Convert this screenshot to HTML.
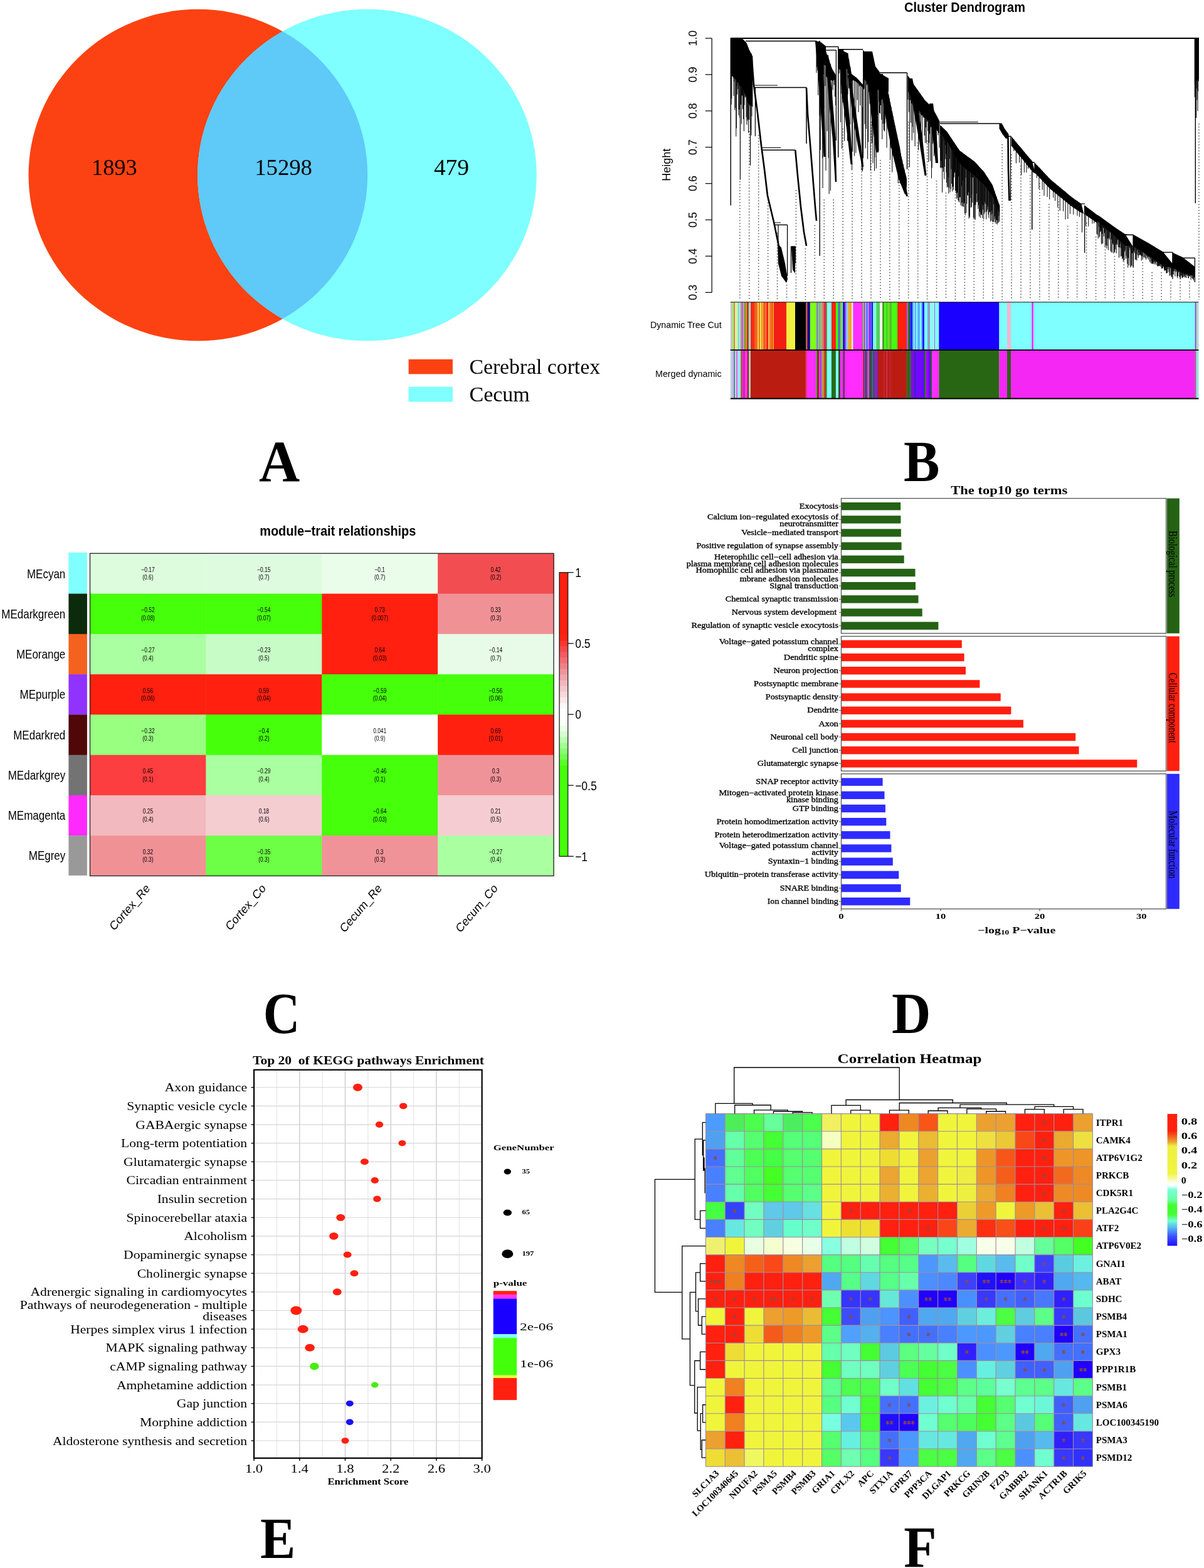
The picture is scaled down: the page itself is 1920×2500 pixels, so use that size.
<!DOCTYPE html><html><head><meta charset="utf-8"><title>Figure</title><style>html,body{margin:0;padding:0;background:#fff;overflow:hidden;}svg{display:block;}</style></head><body>
<svg width="1920" height="2500" viewBox="0 0 1920 2500">
<rect x="0.00" y="0.00" width="1920.00" height="2500.00" fill="#FFFFFF"/>
<defs><clipPath id="clipL"><ellipse cx="315.8" cy="279.2" rx="270.3" ry="264.4"/></clipPath></defs>
<ellipse cx="315.8" cy="279.2" rx="270.3" ry="264.4" fill="#FC4212"/>
<ellipse cx="585.4" cy="279.2" rx="270.3" ry="264.4" fill="#7FFFFF"/>
<ellipse cx="585.4" cy="279.2" rx="270.3" ry="264.4" fill="#5FC9F8" clip-path="url(#clipL)"/>
<text transform="translate(146.00,278.60)" font-family="'Liberation Serif', 'Times New Roman', serif" font-size="35.5" fill="#000" textLength="72.60" lengthAdjust="spacingAndGlyphs">1893</text>
<text transform="translate(406.20,278.60)" font-family="'Liberation Serif', 'Times New Roman', serif" font-size="35.5" fill="#000" textLength="91.70" lengthAdjust="spacingAndGlyphs">15298</text>
<text transform="translate(691.90,278.60)" font-family="'Liberation Serif', 'Times New Roman', serif" font-size="35.5" fill="#000" textLength="56.00" lengthAdjust="spacingAndGlyphs">479</text>
<rect x="651.60" y="572.90" width="70.30" height="23.50" fill="#FC4212"/>
<rect x="651.60" y="616.60" width="70.30" height="24.00" fill="#7FFFFF"/>
<text transform="translate(748.50,595.60)" font-family="'Liberation Serif', 'Times New Roman', serif" font-size="34" fill="#000" textLength="208.50" lengthAdjust="spacingAndGlyphs">Cerebral cortex</text>
<text transform="translate(748.50,639.70)" font-family="'Liberation Serif', 'Times New Roman', serif" font-size="34" fill="#000">Cecum</text>
<text transform="translate(412.90,767.00)" font-family="'Liberation Serif', 'Times New Roman', serif" font-size="94" font-weight="bold" fill="#000" textLength="65.10" lengthAdjust="spacingAndGlyphs">A</text>
<text transform="translate(1442.00,18.75)" font-family="'Liberation Sans', Arial, sans-serif" font-size="21.7" font-weight="bold" fill="#000" textLength="192.90" lengthAdjust="spacingAndGlyphs">Cluster Dendrogram</text>
<line x1="1135.20" y1="61.00" x2="1135.20" y2="466.30" stroke="#111" stroke-width="1.3"/>
<line x1="1124.80" y1="61.00" x2="1135.20" y2="61.00" stroke="#111" stroke-width="1.3"/>
<text transform="translate(1111.30,61.00) rotate(-90)" font-family="'Liberation Sans', Arial, sans-serif" font-size="18" text-anchor="middle" fill="#000">1.0</text>
<line x1="1124.80" y1="118.90" x2="1135.20" y2="118.90" stroke="#111" stroke-width="1.3"/>
<text transform="translate(1111.30,118.90) rotate(-90)" font-family="'Liberation Sans', Arial, sans-serif" font-size="18" text-anchor="middle" fill="#000">0.9</text>
<line x1="1124.80" y1="176.80" x2="1135.20" y2="176.80" stroke="#111" stroke-width="1.3"/>
<text transform="translate(1111.30,176.80) rotate(-90)" font-family="'Liberation Sans', Arial, sans-serif" font-size="18" text-anchor="middle" fill="#000">0.8</text>
<line x1="1124.80" y1="234.70" x2="1135.20" y2="234.70" stroke="#111" stroke-width="1.3"/>
<text transform="translate(1111.30,234.70) rotate(-90)" font-family="'Liberation Sans', Arial, sans-serif" font-size="18" text-anchor="middle" fill="#000">0.7</text>
<line x1="1124.80" y1="292.60" x2="1135.20" y2="292.60" stroke="#111" stroke-width="1.3"/>
<text transform="translate(1111.30,292.60) rotate(-90)" font-family="'Liberation Sans', Arial, sans-serif" font-size="18" text-anchor="middle" fill="#000">0.6</text>
<line x1="1124.80" y1="350.50" x2="1135.20" y2="350.50" stroke="#111" stroke-width="1.3"/>
<text transform="translate(1111.30,350.50) rotate(-90)" font-family="'Liberation Sans', Arial, sans-serif" font-size="18" text-anchor="middle" fill="#000">0.5</text>
<line x1="1124.80" y1="408.40" x2="1135.20" y2="408.40" stroke="#111" stroke-width="1.3"/>
<text transform="translate(1111.30,408.40) rotate(-90)" font-family="'Liberation Sans', Arial, sans-serif" font-size="18" text-anchor="middle" fill="#000">0.4</text>
<line x1="1124.80" y1="466.30" x2="1135.20" y2="466.30" stroke="#111" stroke-width="1.3"/>
<text transform="translate(1111.30,466.30) rotate(-90)" font-family="'Liberation Sans', Arial, sans-serif" font-size="18" text-anchor="middle" fill="#000">0.3</text>
<text transform="translate(1068.60,262.80) rotate(-90)" font-family="'Liberation Sans', Arial, sans-serif" font-size="18" text-anchor="middle" fill="#000">Height</text>
<text transform="translate(1037.00,523.00)" font-family="'Liberation Sans', Arial, sans-serif" font-size="15" fill="#000" textLength="113.70" lengthAdjust="spacingAndGlyphs">Dynamic Tree Cut</text>
<text transform="translate(1045.00,600.60)" font-family="'Liberation Sans', Arial, sans-serif" font-size="15" fill="#000" textLength="105.70" lengthAdjust="spacingAndGlyphs">Merged dynamic</text>
<rect x="1164.80" y="481.70" width="3.15" height="76.50" fill="#C8C8C8"/>
<rect x="1167.80" y="481.70" width="0.65" height="76.50" fill="#C0A8E8"/>
<rect x="1168.30" y="481.70" width="2.55" height="76.50" fill="#90F040"/>
<rect x="1170.70" y="481.70" width="1.25" height="76.50" fill="#F03030"/>
<rect x="1171.80" y="481.70" width="2.45" height="76.50" fill="#D8F8A0"/>
<rect x="1174.10" y="481.70" width="1.55" height="76.50" fill="#F0F040"/>
<rect x="1175.50" y="481.70" width="2.05" height="76.50" fill="#80FFFF"/>
<rect x="1177.40" y="481.70" width="0.85" height="76.50" fill="#888888"/>
<rect x="1178.10" y="481.70" width="1.65" height="76.50" fill="#80FFFF"/>
<rect x="1179.60" y="481.70" width="2.75" height="76.50" fill="#D0B0A8"/>
<rect x="1182.20" y="481.70" width="0.95" height="76.50" fill="#6080A0"/>
<rect x="1183.00" y="481.70" width="2.65" height="76.50" fill="#FF40FF"/>
<rect x="1185.50" y="481.70" width="1.65" height="76.50" fill="#44EE44"/>
<rect x="1187.00" y="481.70" width="2.75" height="76.50" fill="#A08020"/>
<rect x="1189.60" y="481.70" width="1.25" height="76.50" fill="#44EE44"/>
<rect x="1190.70" y="481.70" width="3.45" height="76.50" fill="#FF2010"/>
<rect x="1194.00" y="481.70" width="3.15" height="76.50" fill="#80FFFF"/>
<rect x="1197.00" y="481.70" width="6.05" height="76.50" fill="#FF2A10"/>
<rect x="1202.90" y="481.70" width="4.95" height="76.50" fill="#F06020"/>
<rect x="1207.70" y="481.70" width="3.55" height="76.50" fill="#F0C030"/>
<rect x="1211.10" y="481.70" width="1.25" height="76.50" fill="#FF2010"/>
<rect x="1212.20" y="481.70" width="2.05" height="76.50" fill="#F0FF40"/>
<rect x="1214.10" y="481.70" width="1.95" height="76.50" fill="#F07020"/>
<rect x="1215.90" y="481.70" width="1.65" height="76.50" fill="#F0E040"/>
<rect x="1217.40" y="481.70" width="1.95" height="76.50" fill="#FF2010"/>
<rect x="1219.20" y="481.70" width="3.15" height="76.50" fill="#F07020"/>
<rect x="1222.20" y="481.70" width="3.45" height="76.50" fill="#FF2010"/>
<rect x="1225.50" y="481.70" width="2.05" height="76.50" fill="#F0E040"/>
<rect x="1227.40" y="481.70" width="1.65" height="76.50" fill="#FF2010"/>
<rect x="1228.90" y="481.70" width="1.25" height="76.50" fill="#F0E040"/>
<rect x="1230.00" y="481.70" width="1.95" height="76.50" fill="#FF2010"/>
<rect x="1231.80" y="481.70" width="2.35" height="76.50" fill="#F0A020"/>
<rect x="1234.00" y="481.70" width="20.15" height="76.50" fill="#F21E14"/>
<rect x="1254.00" y="481.70" width="14.15" height="76.50" fill="#F0F040"/>
<rect x="1268.00" y="481.70" width="17.35" height="76.50" fill="#000000"/>
<rect x="1285.20" y="481.70" width="2.35" height="76.50" fill="#E05020"/>
<rect x="1287.40" y="481.70" width="4.55" height="76.50" fill="#10009A"/>
<rect x="1291.80" y="481.70" width="10.55" height="76.50" fill="#80FF1A"/>
<rect x="1302.20" y="481.70" width="1.65" height="76.50" fill="#8040FF"/>
<rect x="1303.70" y="481.70" width="3.05" height="76.50" fill="#44EE44"/>
<rect x="1306.60" y="481.70" width="2.05" height="76.50" fill="#FF40FF"/>
<rect x="1308.50" y="481.70" width="1.95" height="76.50" fill="#44EE44"/>
<rect x="1310.30" y="481.70" width="3.15" height="76.50" fill="#F08030"/>
<rect x="1313.30" y="481.70" width="1.65" height="76.50" fill="#8040FF"/>
<rect x="1314.80" y="481.70" width="2.35" height="76.50" fill="#FF2010"/>
<rect x="1317.00" y="481.70" width="2.05" height="76.50" fill="#808030"/>
<rect x="1318.90" y="481.70" width="7.15" height="76.50" fill="#80FFFF"/>
<rect x="1325.90" y="481.70" width="7.15" height="76.50" fill="#FF2010"/>
<rect x="1332.90" y="481.70" width="4.25" height="76.50" fill="#33FF11"/>
<rect x="1337.00" y="481.70" width="2.35" height="76.50" fill="#6040FF"/>
<rect x="1339.20" y="481.70" width="3.15" height="76.50" fill="#60C060"/>
<rect x="1342.20" y="481.70" width="1.95" height="76.50" fill="#80FF1A"/>
<rect x="1344.00" y="481.70" width="3.85" height="76.50" fill="#2010FF"/>
<rect x="1347.70" y="481.70" width="2.05" height="76.50" fill="#C040FF"/>
<rect x="1349.60" y="481.70" width="2.75" height="76.50" fill="#80D0FF"/>
<rect x="1352.20" y="481.70" width="6.35" height="76.50" fill="#EBA830"/>
<rect x="1358.40" y="481.70" width="2.05" height="76.50" fill="#E0FFF0"/>
<rect x="1360.30" y="481.70" width="16.05" height="76.50" fill="#FF30FF"/>
<rect x="1376.20" y="481.70" width="2.15" height="76.50" fill="#44EE22"/>
<rect x="1378.20" y="481.70" width="0.95" height="76.50" fill="#2020FF"/>
<rect x="1379.00" y="481.70" width="2.15" height="76.50" fill="#E090C0"/>
<rect x="1381.00" y="481.70" width="3.15" height="76.50" fill="#6080FF"/>
<rect x="1384.00" y="481.70" width="2.65" height="76.50" fill="#E060FF"/>
<rect x="1386.50" y="481.70" width="1.85" height="76.50" fill="#2010FF"/>
<rect x="1388.20" y="481.70" width="1.95" height="76.50" fill="#8060FF"/>
<rect x="1390.00" y="481.70" width="2.15" height="76.50" fill="#2010FF"/>
<rect x="1392.00" y="481.70" width="3.15" height="76.50" fill="#70FFD0"/>
<rect x="1395.00" y="481.70" width="2.45" height="76.50" fill="#80FFE0"/>
<rect x="1397.30" y="481.70" width="6.15" height="76.50" fill="#50D060"/>
<rect x="1403.30" y="481.70" width="3.95" height="76.50" fill="#FFFFF0"/>
<rect x="1407.10" y="481.70" width="3.25" height="76.50" fill="#40A020"/>
<rect x="1410.20" y="481.70" width="3.95" height="76.50" fill="#44FF11"/>
<rect x="1414.00" y="481.70" width="1.35" height="76.50" fill="#40A020"/>
<rect x="1415.20" y="481.70" width="3.45" height="76.50" fill="#44FF11"/>
<rect x="1418.50" y="481.70" width="1.15" height="76.50" fill="#E04020"/>
<rect x="1419.50" y="481.70" width="2.45" height="76.50" fill="#40C020"/>
<rect x="1421.80" y="481.70" width="9.45" height="76.50" fill="#44FF11"/>
<rect x="1431.10" y="481.70" width="15.25" height="76.50" fill="#FF2010"/>
<rect x="1446.20" y="481.70" width="2.15" height="76.50" fill="#8060FF"/>
<rect x="1448.20" y="481.70" width="3.15" height="76.50" fill="#206A10"/>
<rect x="1451.20" y="481.70" width="3.95" height="76.50" fill="#2020FF"/>
<rect x="1455.00" y="481.70" width="2.15" height="76.50" fill="#60B0FF"/>
<rect x="1457.00" y="481.70" width="1.65" height="76.50" fill="#80FFFF"/>
<rect x="1458.50" y="481.70" width="2.65" height="76.50" fill="#60B0FF"/>
<rect x="1461.00" y="481.70" width="2.15" height="76.50" fill="#80FFFF"/>
<rect x="1463.00" y="481.70" width="4.15" height="76.50" fill="#60B0FF"/>
<rect x="1467.00" y="481.70" width="2.15" height="76.50" fill="#80FFFF"/>
<rect x="1469.00" y="481.70" width="2.15" height="76.50" fill="#60B0FF"/>
<rect x="1471.00" y="481.70" width="3.15" height="76.50" fill="#2020FF"/>
<rect x="1474.00" y="481.70" width="5.15" height="76.50" fill="#80FFFF"/>
<rect x="1479.00" y="481.70" width="2.15" height="76.50" fill="#60B0FF"/>
<rect x="1481.00" y="481.70" width="2.15" height="76.50" fill="#C09090"/>
<rect x="1483.00" y="481.70" width="5.15" height="76.50" fill="#80FFFF"/>
<rect x="1488.00" y="481.70" width="2.15" height="76.50" fill="#C0E0E0"/>
<rect x="1490.00" y="481.70" width="1.15" height="76.50" fill="#A060FF"/>
<rect x="1491.00" y="481.70" width="6.45" height="76.50" fill="#80FFFF"/>
<rect x="1497.30" y="481.70" width="96.25" height="76.50" fill="#1A00FF"/>
<rect x="1593.40" y="481.70" width="12.75" height="76.50" fill="#7FFFFF"/>
<rect x="1606.00" y="481.70" width="6.15" height="76.50" fill="#F5B5D0"/>
<rect x="1612.00" y="481.70" width="33.35" height="76.50" fill="#7FFFFF"/>
<rect x="1645.20" y="481.70" width="2.95" height="76.50" fill="#FF30FF"/>
<rect x="1648.00" y="481.70" width="257.85" height="76.50" fill="#7FFFFF"/>
<rect x="1905.70" y="481.70" width="1.95" height="76.50" fill="#8040C0"/>
<rect x="1907.50" y="481.70" width="2.15" height="76.50" fill="#C0C0C0"/>
<rect x="1909.50" y="481.70" width="2.05" height="76.50" fill="#A0E0E0"/>
<rect x="1164.80" y="558.20" width="3.15" height="77.30" fill="#C0D0E0"/>
<rect x="1167.80" y="558.20" width="0.65" height="77.30" fill="#44EE44"/>
<rect x="1168.30" y="558.20" width="2.55" height="77.30" fill="#C0A0FF"/>
<rect x="1170.70" y="558.20" width="1.25" height="77.30" fill="#902020"/>
<rect x="1171.80" y="558.20" width="2.45" height="77.30" fill="#80FFFF"/>
<rect x="1174.10" y="558.20" width="1.55" height="77.30" fill="#F040C0"/>
<rect x="1175.50" y="558.20" width="2.05" height="77.30" fill="#C0A0FF"/>
<rect x="1177.40" y="558.20" width="2.75" height="77.30" fill="#80FFFF"/>
<rect x="1180.00" y="558.20" width="2.35" height="77.30" fill="#C0A0A0"/>
<rect x="1182.20" y="558.20" width="1.65" height="77.30" fill="#901818"/>
<rect x="1183.70" y="558.20" width="2.35" height="77.30" fill="#FF30FF"/>
<rect x="1185.90" y="558.20" width="1.25" height="77.30" fill="#901818"/>
<rect x="1187.00" y="558.20" width="4.95" height="77.30" fill="#FF30FF"/>
<rect x="1191.80" y="558.20" width="2.35" height="77.30" fill="#B01818"/>
<rect x="1194.00" y="558.20" width="3.15" height="77.30" fill="#A0D0C0"/>
<rect x="1197.00" y="558.20" width="87.95" height="77.30" fill="#BB1C12"/>
<rect x="1284.80" y="558.20" width="2.35" height="77.30" fill="#F03080"/>
<rect x="1287.00" y="558.20" width="14.25" height="77.30" fill="#FF2DFF"/>
<rect x="1301.10" y="558.20" width="1.95" height="77.30" fill="#40B040"/>
<rect x="1302.90" y="558.20" width="3.15" height="77.30" fill="#A02020"/>
<rect x="1305.90" y="558.20" width="2.35" height="77.30" fill="#FF30FF"/>
<rect x="1308.10" y="558.20" width="2.35" height="77.30" fill="#8040FF"/>
<rect x="1310.30" y="558.20" width="3.15" height="77.30" fill="#F08030"/>
<rect x="1313.30" y="558.20" width="1.65" height="77.30" fill="#40A040"/>
<rect x="1314.80" y="558.20" width="2.35" height="77.30" fill="#E02010"/>
<rect x="1317.00" y="558.20" width="2.05" height="77.30" fill="#40A040"/>
<rect x="1318.90" y="558.20" width="7.15" height="77.30" fill="#7FFFFF"/>
<rect x="1325.90" y="558.20" width="7.15" height="77.30" fill="#266A16"/>
<rect x="1332.90" y="558.20" width="4.25" height="77.30" fill="#7FFFFF"/>
<rect x="1337.00" y="558.20" width="3.05" height="77.30" fill="#305020"/>
<rect x="1339.90" y="558.20" width="4.25" height="77.30" fill="#FF30FF"/>
<rect x="1344.00" y="558.20" width="3.85" height="77.30" fill="#803080"/>
<rect x="1347.70" y="558.20" width="28.65" height="77.30" fill="#FF2DFF"/>
<rect x="1376.20" y="558.20" width="1.95" height="77.30" fill="#A02020"/>
<rect x="1378.00" y="558.20" width="2.15" height="77.30" fill="#8040C0"/>
<rect x="1380.00" y="558.20" width="2.15" height="77.30" fill="#305030"/>
<rect x="1382.00" y="558.20" width="2.15" height="77.30" fill="#A040C0"/>
<rect x="1384.00" y="558.20" width="2.15" height="77.30" fill="#FF40FF"/>
<rect x="1386.00" y="558.20" width="2.15" height="77.30" fill="#206A20"/>
<rect x="1388.00" y="558.20" width="2.15" height="77.30" fill="#305030"/>
<rect x="1390.00" y="558.20" width="2.15" height="77.30" fill="#6040FF"/>
<rect x="1392.00" y="558.20" width="2.15" height="77.30" fill="#2A6A20"/>
<rect x="1394.00" y="558.20" width="2.15" height="77.30" fill="#803080"/>
<rect x="1396.00" y="558.20" width="3.15" height="77.30" fill="#8020FF"/>
<rect x="1399.00" y="558.20" width="2.15" height="77.30" fill="#A02030"/>
<rect x="1401.00" y="558.20" width="8.15" height="77.30" fill="#BB1C12"/>
<rect x="1409.00" y="558.20" width="2.15" height="77.30" fill="#C82040"/>
<rect x="1411.00" y="558.20" width="2.15" height="77.30" fill="#BB1C12"/>
<rect x="1413.00" y="558.20" width="1.65" height="77.30" fill="#C82040"/>
<rect x="1414.50" y="558.20" width="3.65" height="77.30" fill="#BB1C12"/>
<rect x="1418.00" y="558.20" width="3.15" height="77.30" fill="#C02030"/>
<rect x="1421.00" y="558.20" width="25.35" height="77.30" fill="#BB1C12"/>
<rect x="1446.20" y="558.20" width="5.15" height="77.30" fill="#226A16"/>
<rect x="1451.20" y="558.20" width="3.95" height="77.30" fill="#603090"/>
<rect x="1455.00" y="558.20" width="3.15" height="77.30" fill="#8000FF"/>
<rect x="1458.00" y="558.20" width="2.15" height="77.30" fill="#4020C0"/>
<rect x="1460.00" y="558.20" width="2.15" height="77.30" fill="#8000FF"/>
<rect x="1462.00" y="558.20" width="3.15" height="77.30" fill="#6010FF"/>
<rect x="1465.00" y="558.20" width="4.15" height="77.30" fill="#8000FF"/>
<rect x="1469.00" y="558.20" width="5.15" height="77.30" fill="#6010FF"/>
<rect x="1474.00" y="558.20" width="2.65" height="77.30" fill="#266A16"/>
<rect x="1476.50" y="558.20" width="3.65" height="77.30" fill="#A000FF"/>
<rect x="1480.00" y="558.20" width="2.15" height="77.30" fill="#8000FF"/>
<rect x="1482.00" y="558.20" width="2.15" height="77.30" fill="#600CFF"/>
<rect x="1484.00" y="558.20" width="2.15" height="77.30" fill="#266A16"/>
<rect x="1486.00" y="558.20" width="4.15" height="77.30" fill="#FF30FF"/>
<rect x="1490.00" y="558.20" width="7.45" height="77.30" fill="#FF2DFF"/>
<rect x="1497.30" y="558.20" width="96.25" height="77.30" fill="#286614"/>
<rect x="1593.40" y="558.20" width="12.75" height="77.30" fill="#F527F5"/>
<rect x="1606.00" y="558.20" width="6.15" height="77.30" fill="#286614"/>
<rect x="1612.00" y="558.20" width="293.85" height="77.30" fill="#F527F5"/>
<rect x="1905.70" y="558.20" width="1.95" height="77.30" fill="#A06080"/>
<rect x="1907.50" y="558.20" width="2.15" height="77.30" fill="#80E0E0"/>
<rect x="1909.50" y="558.20" width="2.05" height="77.30" fill="#A0E0E0"/>
<line x1="1164.80" y1="481.70" x2="1911.40" y2="481.70" stroke="#111" stroke-width="1.1"/>
<line x1="1164.80" y1="558.20" x2="1911.40" y2="558.20" stroke="#000" stroke-width="1.8"/>
<line x1="1164.80" y1="635.50" x2="1911.40" y2="635.50" stroke="#000" stroke-width="2.0"/>
<path d="M1179.80,289.0V478M1194.74,209.0V478M1209.68,215.0V478M1224.62,318.0V478M1239.56,371.0V478M1254.50,454.0V478M1269.44,303.0V478M1284.38,396.0V478M1299.32,359.0V478M1314.26,318.0V478M1329.20,318.0V478M1344.14,205.0V478M1359.08,276.0V478M1374.02,264.0V478M1388.96,194.0V478M1403.90,255.0V478M1418.84,258.0V478M1433.78,276.0V478M1448.72,194.0V478M1463.66,227.0V478M1478.60,224.0V478M1493.54,288.0V478M1508.48,307.0V478M1523.42,310.0V478M1538.36,345.0V478M1553.30,353.0V478M1568.24,351.0V478M1583.18,351.0V478M1598.12,230.0V478M1613.06,246.0V478M1628.00,264.0V478M1642.94,279.0V478M1657.88,292.0V478M1672.82,325.0V478M1687.76,321.0V478M1702.70,360.0V478M1717.64,354.0V478M1732.58,355.0V478M1747.52,377.0V478M1762.46,393.0V478M1777.40,408.0V478M1792.34,412.0V478M1807.28,432.0V478M1822.22,418.0V478M1837.16,434.0V478M1852.10,434.0V478M1867.04,449.0V478M1881.98,439.0V478M1896.92,449.0V478M1911.86,197.0V478" stroke="#5C5C5C" stroke-width="1.7" stroke-dasharray="1.5,3.25" fill="none"/>
<polygon points="1165.5,61.0 1166.1,61.1 1166.7,61.1 1167.2,61.1 1167.8,61.1 1168.4,61.2 1169.0,61.2 1169.5,61.2 1170.1,61.3 1170.7,61.3 1171.2,61.3 1171.8,61.4 1172.4,61.4 1173.0,61.4 1173.5,61.4 1174.1,61.5 1174.7,61.5 1175.3,61.5 1175.8,61.6 1176.4,61.6 1177.0,61.6 1177.6,61.7 1178.2,61.7 1178.7,61.7 1179.3,61.8 1179.9,61.8 1180.5,61.8 1181.0,61.8 1181.6,61.9 1182.2,61.9 1182.8,61.9 1183.3,62.0 1183.9,62.0 1184.5,62.5 1185.0,63.0 1185.6,63.6 1186.2,64.2 1186.8,64.8 1187.3,65.3 1187.9,65.9 1188.5,66.5 1189.1,67.1 1189.7,67.7 1190.2,68.5 1190.8,69.9 1191.4,71.3 1192.0,72.7 1192.5,74.1 1193.1,75.4 1193.7,76.8 1194.2,78.2 1194.8,79.6 1195.4,80.8 1196.0,81.9 1196.5,83.1 1197.1,84.2 1197.7,85.4 1198.3,86.6 1198.8,87.7 1199.4,88.8 1200.0,90.0 1200.0,170.0 1199.4,169.6 1198.8,169.1 1198.3,168.7 1197.7,168.3 1197.1,167.8 1196.5,167.4 1196.0,167.0 1195.4,166.6 1194.8,166.0 1194.2,165.4 1193.7,164.7 1193.1,164.1 1192.5,163.4 1192.0,162.6 1191.4,160.4 1190.8,158.2 1190.2,156.0 1189.7,154.3 1189.1,152.9 1188.5,151.5 1187.9,150.1 1187.3,148.7 1186.8,147.3 1186.2,145.9 1185.6,144.5 1185.0,143.1 1184.5,141.8 1183.9,140.7 1183.3,140.0 1182.8,139.2 1182.2,138.5 1181.6,137.8 1181.0,137.1 1180.5,136.4 1179.9,135.6 1179.3,134.9 1178.7,134.2 1178.2,133.5 1177.6,132.8 1177.0,132.0 1176.4,131.3 1175.8,130.6 1175.3,129.9 1174.7,129.1 1174.1,128.3 1173.5,127.6 1173.0,126.8 1172.4,126.0 1171.8,125.2 1171.2,124.5 1170.7,123.7 1170.1,122.9 1169.5,122.1 1169.0,121.3 1168.4,120.6 1167.8,119.8 1167.2,119.0 1166.7,118.2 1166.1,117.5 1165.5,116.7" fill="#000"/>
<polygon points="1302.0,65.5 1302.2,65.6 1302.5,65.7 1302.8,65.7 1303.0,65.8 1303.2,65.9 1303.5,66.0 1303.8,66.0 1304.0,66.1 1304.2,66.2 1304.5,66.3 1304.8,66.4 1305.0,66.4 1305.2,66.5 1305.5,66.6 1305.8,66.7 1306.0,66.8 1306.2,66.8 1306.5,66.9 1306.8,67.0 1307.0,67.1 1307.2,67.1 1307.5,67.2 1307.8,67.3 1308.0,67.4 1308.2,67.5 1308.5,67.5 1308.8,67.6 1309.0,67.7 1309.2,67.8 1309.5,67.8 1309.8,67.9 1310.0,68.0 1310.2,68.2 1310.5,68.4 1310.8,68.6 1311.0,68.9 1311.2,69.1 1311.5,69.3 1311.8,69.5 1312.0,69.7 1312.2,69.9 1312.5,70.1 1312.8,70.4 1313.0,70.6 1313.2,70.8 1313.5,71.0 1313.8,71.2 1314.0,71.4 1314.2,71.6 1314.5,71.9 1314.8,72.1 1315.0,72.3 1315.2,72.5 1315.5,72.7 1315.8,72.9 1316.0,73.1 1316.2,73.4 1316.5,73.6 1316.8,73.8 1317.0,74.0 1317.0,104.0 1316.8,104.0 1316.5,103.9 1316.2,103.9 1316.0,103.8 1315.8,103.8 1315.5,103.7 1315.2,103.7 1315.0,103.6 1314.8,103.6 1314.5,103.5 1314.2,103.5 1314.0,103.4 1313.8,103.4 1313.5,103.3 1313.2,103.3 1313.0,103.2 1312.8,103.2 1312.5,103.1 1312.2,103.1 1312.0,103.0 1311.8,103.0 1311.5,103.0 1311.2,102.9 1311.0,102.9 1310.8,102.8 1310.5,102.8 1310.2,102.7 1310.0,102.7 1309.8,102.8 1309.5,102.8 1309.2,102.9 1309.0,103.0 1308.8,103.1 1308.5,103.2 1308.2,103.3 1308.0,103.4 1307.8,103.5 1307.5,103.6 1307.2,103.6 1307.0,103.7 1306.8,103.8 1306.5,103.9 1306.2,104.0 1306.0,104.1 1305.8,104.2 1305.5,104.3 1305.2,104.3 1305.0,104.4 1304.8,104.5 1304.5,104.6 1304.2,104.7 1304.0,104.8 1303.8,104.9 1303.5,105.0 1303.2,105.1 1303.0,105.1 1302.8,105.2 1302.5,105.3 1302.2,105.4 1302.0,105.5" fill="#000"/>
<polygon points="1317.0,82.0 1317.3,82.7 1317.5,83.4 1317.8,84.1 1318.1,84.8 1318.3,85.5 1318.6,86.2 1318.9,86.9 1319.1,87.5 1319.4,88.2 1319.7,88.9 1319.9,89.6 1320.2,90.3 1320.5,91.0 1320.7,91.7 1321.0,92.4 1321.3,93.1 1321.5,93.8 1321.8,94.5 1322.1,95.2 1322.3,96.0 1322.6,96.8 1322.9,97.6 1323.1,98.4 1323.4,99.2 1323.7,100.0 1323.9,100.8 1324.2,101.6 1324.5,102.4 1324.7,103.2 1325.0,104.0 1325.3,104.8 1325.5,105.6 1325.8,106.4 1326.1,107.2 1326.3,108.0 1326.6,108.8 1326.9,109.6 1327.1,110.2 1327.4,110.7 1327.7,111.1 1327.9,111.6 1328.2,112.0 1328.5,112.4 1328.7,112.9 1329.0,113.3 1329.3,113.8 1329.5,114.2 1329.8,114.7 1330.1,115.1 1330.3,115.6 1330.6,116.0 1330.9,116.4 1331.1,116.9 1331.4,117.3 1331.7,117.8 1331.9,118.2 1332.2,118.7 1332.5,119.1 1332.7,119.6 1333.0,120.0 1333.0,126.0 1332.7,126.1 1332.5,126.3 1332.2,126.4 1331.9,126.5 1331.7,126.7 1331.4,126.8 1331.1,127.0 1330.9,127.1 1330.6,127.2 1330.3,127.4 1330.1,127.5 1329.8,127.6 1329.5,127.8 1329.3,127.9 1329.0,128.1 1328.7,128.2 1328.5,128.3 1328.2,128.5 1327.9,128.6 1327.7,128.7 1327.4,128.9 1327.1,129.0 1326.9,129.0 1326.6,128.8 1326.3,128.5 1326.1,128.3 1325.8,128.1 1325.5,127.9 1325.3,127.7 1325.0,127.5 1324.7,127.2 1324.5,127.0 1324.2,126.8 1323.9,126.6 1323.7,126.4 1323.4,126.1 1323.1,125.9 1322.9,125.7 1322.6,125.5 1322.3,125.3 1322.1,125.1 1321.8,124.9 1321.5,124.7 1321.3,124.6 1321.0,124.4 1320.7,124.2 1320.5,124.1 1320.2,123.9 1319.9,123.8 1319.7,123.6 1319.4,123.4 1319.1,123.3 1318.9,123.1 1318.6,123.0 1318.3,122.8 1318.1,122.6 1317.8,122.5 1317.5,122.3 1317.3,122.2 1317.0,122.0" fill="#000"/>
<polygon points="1337.5,78.2 1337.7,78.3 1338.0,78.5 1338.2,78.6 1338.5,78.7 1338.7,78.8 1339.0,78.9 1339.2,79.0 1339.4,79.1 1339.7,79.2 1339.9,79.4 1340.2,79.5 1340.4,79.6 1340.6,79.7 1340.9,79.8 1341.1,79.9 1341.4,80.0 1341.6,80.2 1341.8,80.3 1342.1,80.4 1342.3,80.5 1342.6,80.6 1342.8,80.7 1343.1,80.8 1343.3,80.9 1343.5,81.1 1343.8,81.2 1344.0,81.3 1344.3,81.4 1344.5,81.5 1344.8,81.6 1345.0,81.7 1345.2,81.8 1345.5,82.0 1345.7,82.1 1346.0,82.2 1346.2,82.3 1346.4,82.4 1346.7,82.5 1346.9,82.6 1347.2,82.7 1347.4,82.9 1347.7,83.0 1347.9,83.1 1348.1,83.2 1348.4,83.3 1348.6,83.4 1348.9,83.5 1349.1,83.6 1349.3,83.8 1349.6,83.9 1349.8,84.0 1350.1,84.1 1350.3,84.2 1350.5,84.3 1350.8,84.4 1351.0,84.5 1351.3,84.7 1351.5,84.8 1351.8,84.9 1352.0,85.0 1352.0,110.0 1351.8,110.0 1351.5,110.0 1351.3,110.0 1351.0,110.0 1350.8,110.0 1350.5,110.0 1350.3,110.0 1350.1,110.0 1349.8,110.0 1349.6,110.0 1349.3,110.0 1349.1,110.0 1348.9,110.0 1348.6,110.0 1348.4,110.0 1348.1,110.0 1347.9,110.0 1347.7,110.0 1347.4,110.0 1347.2,110.0 1346.9,110.0 1346.7,110.0 1346.4,110.0 1346.2,110.0 1346.0,110.0 1345.7,110.0 1345.5,110.0 1345.2,110.0 1345.0,110.0 1344.8,110.0 1344.5,110.0 1344.3,110.0 1344.0,110.0 1343.8,110.0 1343.5,110.0 1343.3,110.0 1343.1,110.0 1342.8,110.0 1342.6,110.0 1342.3,110.0 1342.1,110.0 1341.8,110.0 1341.6,110.0 1341.4,110.0 1341.1,110.0 1340.9,110.0 1340.6,110.0 1340.4,110.0 1340.2,110.0 1339.9,110.0 1339.7,110.0 1339.4,110.0 1339.2,110.0 1339.0,110.0 1338.7,110.0 1338.5,110.0 1338.2,110.0 1338.0,110.0 1337.7,110.0 1337.5,110.0" fill="#000"/>
<polygon points="1352.0,85.0 1352.4,87.2 1352.8,89.4 1353.2,91.6 1353.6,93.8 1354.0,96.0 1354.4,98.2 1354.8,100.4 1355.2,102.6 1355.6,104.8 1356.0,107.0 1356.4,109.2 1356.8,111.4 1357.2,113.6 1357.6,115.8 1358.0,118.0 1358.4,118.3 1358.8,118.6 1359.2,118.9 1359.6,119.2 1360.0,119.5 1360.4,119.8 1360.8,120.1 1361.2,120.4 1361.6,120.7 1362.0,121.0 1362.4,121.3 1362.8,121.6 1363.2,121.9 1363.6,122.2 1364.0,122.5 1364.4,122.8 1364.8,123.1 1365.2,123.4 1365.6,123.7 1366.0,124.0 1366.4,124.4 1366.8,124.9 1367.2,125.3 1367.6,125.8 1368.0,126.2 1368.4,126.6 1368.8,127.1 1369.2,127.5 1369.6,128.0 1370.0,128.4 1370.4,128.8 1370.8,129.3 1371.2,129.7 1371.6,130.2 1372.0,130.6 1372.4,131.0 1372.8,131.5 1373.2,131.9 1373.6,132.4 1374.0,132.8 1374.4,133.2 1374.8,133.7 1375.2,134.1 1375.6,134.6 1376.0,135.0 1376.0,140.0 1375.6,139.6 1375.2,139.3 1374.8,138.9 1374.4,138.5 1374.0,138.2 1373.6,137.8 1373.2,137.4 1372.8,137.1 1372.4,136.7 1372.0,136.3 1371.6,136.0 1371.2,135.6 1370.8,135.3 1370.4,134.9 1370.0,134.5 1369.6,134.2 1369.2,133.8 1368.8,133.4 1368.4,133.1 1368.0,132.7 1367.6,132.3 1367.2,132.0 1366.8,131.6 1366.4,131.2 1366.0,130.9 1365.6,130.6 1365.2,130.4 1364.8,130.2 1364.4,130.0 1364.0,129.8 1363.6,129.5 1363.2,129.3 1362.8,129.1 1362.4,128.9 1362.0,128.6 1361.6,128.4 1361.2,128.2 1360.8,127.9 1360.4,127.7 1360.0,127.5 1359.6,128.3 1359.2,129.1 1358.8,129.9 1358.4,130.7 1358.0,131.5 1357.6,130.4 1357.2,129.3 1356.8,128.2 1356.4,127.1 1356.0,126.0 1355.6,124.9 1355.2,123.8 1354.8,122.7 1354.4,121.6 1354.0,120.5 1353.6,119.4 1353.2,118.3 1352.8,117.2 1352.4,116.1 1352.0,115.0" fill="#000"/>
<polygon points="1376.5,80.2 1376.9,80.7 1377.3,81.3 1377.8,81.9 1378.2,82.5 1378.6,83.0 1379.0,83.6 1379.5,84.2 1379.9,84.8 1380.3,85.3 1380.8,85.9 1381.2,86.5 1381.6,87.0 1382.0,87.6 1382.5,88.2 1382.9,88.8 1383.3,89.3 1383.7,89.9 1384.2,90.5 1384.6,91.0 1385.0,91.6 1385.4,92.2 1385.8,92.8 1386.3,93.3 1386.7,93.9 1387.1,94.5 1387.5,95.0 1388.0,95.6 1388.4,96.2 1388.8,96.8 1389.2,97.3 1389.7,97.9 1390.1,98.4 1390.5,99.0 1391.0,99.6 1391.4,100.1 1391.8,100.7 1392.2,101.2 1392.7,101.8 1393.1,102.3 1393.5,102.9 1393.9,103.4 1394.3,104.0 1394.8,104.6 1395.2,105.1 1395.6,105.7 1396.0,106.2 1396.5,106.8 1396.9,107.3 1397.3,107.9 1397.8,108.4 1398.2,109.0 1398.6,109.6 1399.0,110.1 1399.5,110.7 1399.9,111.2 1400.3,111.8 1400.7,112.3 1401.2,112.9 1401.6,113.4 1402.0,114.0 1402.0,144.0 1401.6,143.8 1401.2,143.6 1400.7,143.4 1400.3,143.2 1399.9,143.0 1399.5,142.8 1399.0,142.6 1398.6,142.4 1398.2,142.2 1397.8,142.0 1397.3,141.8 1396.9,141.6 1396.5,141.4 1396.0,141.2 1395.6,141.0 1395.2,140.8 1394.8,140.6 1394.3,140.4 1393.9,140.2 1393.5,140.0 1393.1,139.8 1392.7,139.6 1392.2,139.4 1391.8,139.2 1391.4,139.0 1391.0,138.8 1390.5,138.6 1390.1,138.4 1389.7,138.0 1389.2,137.6 1388.8,137.2 1388.4,136.8 1388.0,136.3 1387.5,135.9 1387.1,135.5 1386.7,135.1 1386.3,134.7 1385.8,134.2 1385.4,133.8 1385.0,133.4 1384.6,133.0 1384.2,132.6 1383.7,132.1 1383.3,131.7 1382.9,131.3 1382.5,130.9 1382.0,130.5 1381.6,130.0 1381.2,129.6 1380.8,129.2 1380.3,128.8 1379.9,128.4 1379.5,127.9 1379.0,127.5 1378.6,127.1 1378.2,126.7 1377.8,126.3 1377.3,125.8 1376.9,125.4 1376.5,125.0" fill="#000"/>
<polygon points="1402.5,116.9 1402.7,117.0 1403.0,117.2 1403.2,117.3 1403.5,117.4 1403.7,117.6 1404.0,117.7 1404.2,117.8 1404.4,118.0 1404.7,118.1 1404.9,118.2 1405.2,118.4 1405.4,118.5 1405.6,118.6 1405.9,118.8 1406.1,118.9 1406.4,119.0 1406.6,119.2 1406.8,119.3 1407.1,119.5 1407.3,119.6 1407.6,119.7 1407.8,119.9 1408.1,120.0 1408.3,120.1 1408.5,120.3 1408.8,120.4 1409.0,120.5 1409.3,120.7 1409.5,120.8 1409.8,120.9 1410.0,121.1 1410.2,121.2 1410.5,121.3 1410.7,121.5 1411.0,121.6 1411.2,121.8 1411.4,121.9 1411.7,122.0 1411.9,122.2 1412.2,122.3 1412.4,122.4 1412.7,122.6 1412.9,122.7 1413.1,122.8 1413.4,123.0 1413.6,123.1 1413.9,123.2 1414.1,123.4 1414.3,123.5 1414.6,123.6 1414.8,123.8 1415.1,123.9 1415.3,124.1 1415.5,124.2 1415.8,124.3 1416.0,124.5 1416.3,124.6 1416.5,124.7 1416.8,124.9 1417.0,125.0 1417.0,145.0 1416.8,145.4 1416.5,145.8 1416.3,146.1 1416.0,146.5 1415.8,146.9 1415.5,147.3 1415.3,147.7 1415.1,148.1 1414.8,148.4 1414.6,148.8 1414.3,149.2 1414.1,149.6 1413.9,150.0 1413.6,150.4 1413.4,150.7 1413.1,151.1 1412.9,151.5 1412.7,151.9 1412.4,152.3 1412.2,152.7 1411.9,153.0 1411.7,153.4 1411.4,153.8 1411.2,154.2 1411.0,154.6 1410.7,154.9 1410.5,155.3 1410.2,155.7 1410.0,156.1 1409.8,156.3 1409.5,156.4 1409.3,156.6 1409.0,156.8 1408.8,156.9 1408.5,157.1 1408.3,157.3 1408.1,157.4 1407.8,157.6 1407.6,157.8 1407.3,157.9 1407.1,158.1 1406.8,158.3 1406.6,158.4 1406.4,158.6 1406.1,158.8 1405.9,158.9 1405.6,159.1 1405.4,159.3 1405.2,159.4 1404.9,159.6 1404.7,159.8 1404.4,159.9 1404.2,160.1 1404.0,160.3 1403.7,160.4 1403.5,160.6 1403.2,160.8 1403.0,160.9 1402.7,161.1 1402.5,161.3" fill="#000"/>
<polygon points="1417.0,150.0 1417.5,152.4 1418.0,154.8 1418.5,157.3 1418.9,159.7 1419.4,162.1 1419.9,164.5 1420.4,166.9 1420.9,169.3 1421.3,171.7 1421.8,174.2 1422.3,176.6 1422.8,179.0 1423.3,181.4 1423.8,183.8 1424.2,186.2 1424.7,188.7 1425.2,191.1 1425.7,193.5 1426.2,195.9 1426.7,198.3 1427.2,200.8 1427.6,203.2 1428.1,205.6 1428.6,208.0 1429.1,210.4 1429.6,212.8 1430.0,215.2 1430.5,217.7 1431.0,220.1 1431.5,222.5 1432.0,224.9 1432.5,227.3 1433.0,229.8 1433.4,232.2 1433.9,234.6 1434.4,237.0 1434.9,239.4 1435.4,241.5 1435.8,243.5 1436.3,245.6 1436.8,247.6 1437.3,249.6 1437.8,251.6 1438.3,253.6 1438.8,255.6 1439.2,257.6 1439.7,259.7 1440.2,261.7 1440.7,263.7 1441.2,265.7 1441.7,267.7 1442.1,269.7 1442.6,271.7 1443.1,273.7 1443.6,275.8 1444.1,277.8 1444.5,279.8 1445.0,281.8 1445.5,283.8 1446.0,285.8 1446.0,301.0 1445.5,299.1 1445.0,297.1 1444.5,295.2 1444.1,293.3 1443.6,291.3 1443.1,289.4 1442.6,287.5 1442.1,285.5 1441.7,283.6 1441.2,281.7 1440.7,279.7 1440.2,277.8 1439.7,275.9 1439.2,273.9 1438.8,272.0 1438.3,270.1 1437.8,268.1 1437.3,266.2 1436.8,264.3 1436.3,262.3 1435.8,260.4 1435.4,258.5 1434.9,256.4 1434.4,254.1 1433.9,251.8 1433.4,249.4 1433.0,247.1 1432.5,244.8 1432.0,242.4 1431.5,240.1 1431.0,237.7 1430.5,235.4 1430.0,233.1 1429.6,230.7 1429.1,228.4 1428.6,226.1 1428.1,223.7 1427.6,221.4 1427.2,219.1 1426.7,216.7 1426.2,214.4 1425.7,212.1 1425.2,209.7 1424.7,207.4 1424.2,205.0 1423.8,202.7 1423.3,200.4 1422.8,198.0 1422.3,195.7 1421.8,193.4 1421.3,191.0 1420.9,188.7 1420.4,186.4 1419.9,184.0 1419.4,181.7 1418.9,179.3 1418.5,177.0 1418.0,174.7 1417.5,172.3 1417.0,170.0" fill="#000"/>
<polygon points="1448.0,121.0 1448.8,122.2 1449.7,123.5 1450.5,124.8 1451.3,126.0 1452.2,127.3 1453.0,128.5 1453.8,129.7 1454.7,131.0 1455.5,132.2 1456.3,133.5 1457.2,134.8 1458.0,136.0 1458.8,137.2 1459.7,138.4 1460.5,139.5 1461.3,140.7 1462.2,141.9 1463.0,143.1 1463.8,144.2 1464.7,145.4 1465.5,146.6 1466.3,147.8 1467.2,148.9 1468.0,150.1 1468.8,151.3 1469.7,152.5 1470.5,153.6 1471.3,154.8 1472.2,156.0 1473.0,157.2 1473.8,158.4 1474.7,159.5 1475.5,160.5 1476.3,161.3 1477.2,162.2 1478.0,163.0 1478.8,163.8 1479.7,164.7 1480.5,165.5 1481.3,166.3 1482.2,167.2 1483.0,168.0 1483.8,168.8 1484.7,169.7 1485.5,170.5 1486.3,171.3 1487.2,172.3 1488.0,173.9 1488.8,175.5 1489.7,177.1 1490.5,178.7 1491.3,180.3 1492.2,181.9 1493.0,183.5 1493.8,185.0 1494.7,186.6 1495.5,188.2 1496.3,189.8 1497.2,191.4 1498.0,193.0 1498.0,213.0 1497.2,211.7 1496.3,210.4 1495.5,209.1 1494.7,207.8 1493.8,206.5 1493.0,205.2 1492.2,203.9 1491.3,202.7 1490.5,201.4 1489.7,200.1 1488.8,198.8 1488.0,197.5 1487.2,196.2 1486.3,195.5 1485.5,195.0 1484.7,194.4 1483.8,193.9 1483.0,193.4 1482.2,192.8 1481.3,192.3 1480.5,191.8 1479.7,191.2 1478.8,190.7 1478.0,190.1 1477.2,189.6 1476.3,189.1 1475.5,188.5 1474.7,187.9 1473.8,187.0 1473.0,186.1 1472.2,185.2 1471.3,184.3 1470.5,183.5 1469.7,182.4 1468.8,181.0 1468.0,179.7 1467.2,178.3 1466.3,176.9 1465.5,175.6 1464.7,174.2 1463.8,172.8 1463.0,171.5 1462.2,170.1 1461.3,168.7 1460.5,167.4 1459.7,166.0 1458.8,164.6 1458.0,163.3 1457.2,161.8 1456.3,160.4 1455.5,159.0 1454.7,157.5 1453.8,156.1 1453.0,154.6 1452.2,153.2 1451.3,151.8 1450.5,150.3 1449.7,148.9 1448.8,147.4 1448.0,146.0" fill="#000"/>
<polygon points="1499.5,200.0 1501.1,201.3 1502.7,202.9 1504.2,204.4 1505.8,205.9 1507.4,207.5 1509.0,209.0 1510.5,210.8 1512.1,213.1 1513.7,215.5 1515.2,217.9 1516.8,220.2 1518.4,222.6 1520.0,225.0 1521.5,227.3 1523.1,229.7 1524.7,232.1 1526.3,234.4 1527.8,236.8 1529.4,239.1 1531.0,240.8 1532.6,241.9 1534.2,243.1 1535.7,244.3 1537.3,245.5 1538.9,246.7 1540.5,247.8 1542.0,249.0 1543.6,250.1 1545.2,251.2 1546.8,252.4 1548.3,253.5 1549.9,254.7 1551.5,255.8 1553.0,257.0 1554.6,258.4 1556.2,260.1 1557.8,261.8 1559.3,263.5 1560.9,265.2 1562.5,267.0 1564.1,268.7 1565.7,270.4 1567.2,272.1 1568.8,273.8 1570.4,276.2 1572.0,278.7 1573.5,281.1 1575.1,283.5 1576.7,286.0 1578.2,288.4 1579.8,290.9 1581.4,293.3 1583.0,296.4 1584.5,300.9 1586.1,305.4 1587.7,310.0 1589.3,314.5 1590.8,319.0 1592.4,323.5 1594.0,327.5 1594.0,339.5 1592.4,336.2 1590.8,332.4 1589.3,328.5 1587.7,324.7 1586.1,320.8 1584.5,316.9 1583.0,313.1 1581.4,310.7 1579.8,308.9 1578.2,306.8 1576.7,304.7 1575.1,302.5 1573.5,300.4 1572.0,298.3 1570.4,296.2 1568.8,294.0 1567.2,292.6 1565.7,291.2 1564.1,289.9 1562.5,288.5 1560.9,287.1 1559.3,285.5 1557.8,283.8 1556.2,282.1 1554.6,280.4 1553.0,279.0 1551.5,277.8 1549.9,276.7 1548.3,275.5 1546.8,274.4 1545.2,273.2 1543.6,272.1 1542.0,271.0 1540.5,269.8 1538.9,268.4 1537.3,266.9 1535.7,265.4 1534.2,263.9 1532.6,262.4 1531.0,260.9 1529.4,259.0 1527.8,256.3 1526.3,253.7 1524.7,251.0 1523.1,248.3 1521.5,245.6 1520.0,243.0 1518.4,240.1 1516.8,237.3 1515.2,234.5 1513.7,231.7 1512.1,228.9 1510.5,226.1 1509.0,223.8 1507.4,221.8 1505.8,219.9 1504.2,217.9 1502.7,215.9 1501.1,213.9 1499.5,212.1" fill="#000"/>
<polygon points="1613.0,217.8 1615.3,220.5 1617.6,223.2 1619.8,225.9 1622.1,228.7 1624.4,231.4 1626.7,234.1 1629.0,236.8 1631.3,239.5 1633.5,242.2 1635.8,244.9 1638.1,247.7 1640.4,250.4 1642.7,253.1 1645.0,255.8 1647.2,258.5 1649.5,259.3 1651.8,261.3 1654.1,263.8 1656.4,266.2 1658.7,268.6 1661.0,271.1 1663.2,273.5 1665.5,275.9 1667.8,278.3 1670.1,280.8 1672.4,283.2 1674.7,285.6 1676.9,287.6 1679.2,289.5 1681.5,291.4 1683.8,293.3 1686.1,295.2 1688.3,297.1 1690.6,299.0 1692.9,300.8 1695.2,302.7 1697.5,304.6 1699.8,306.5 1702.0,308.4 1704.3,310.3 1706.6,312.2 1708.9,314.1 1711.2,315.8 1713.5,317.4 1715.8,319.0 1718.0,320.6 1720.3,322.2 1722.6,323.8 1724.9,325.2 1727.2,326.3 1729.5,327.5 1731.7,329.1 1734.0,330.9 1736.3,332.6 1738.6,334.3 1740.9,336.1 1743.2,337.8 1745.4,339.5 1747.7,341.3 1750.0,343.0 1750.0,356.0 1747.7,354.4 1745.4,352.8 1743.2,351.1 1740.9,349.5 1738.6,347.9 1736.3,346.3 1734.0,344.7 1731.7,343.0 1729.5,341.5 1727.2,340.5 1724.9,339.4 1722.6,338.2 1720.3,336.7 1718.0,335.2 1715.8,333.7 1713.5,332.2 1711.2,330.8 1708.9,329.1 1706.6,327.3 1704.3,325.4 1702.0,323.5 1699.8,321.7 1697.5,319.8 1695.2,318.0 1692.9,316.1 1690.6,314.3 1688.3,312.4 1686.1,310.5 1683.8,308.7 1681.5,306.8 1679.2,305.0 1676.9,303.1 1674.7,301.2 1672.4,298.8 1670.1,296.4 1667.8,294.0 1665.5,291.6 1663.2,289.2 1661.0,286.8 1658.7,284.4 1656.4,282.0 1654.1,279.6 1651.8,277.3 1649.5,275.2 1647.2,274.5 1645.0,271.8 1642.7,269.0 1640.4,266.2 1638.1,263.4 1635.8,260.6 1633.5,257.8 1631.3,255.0 1629.0,252.3 1626.7,249.5 1624.4,246.7 1622.1,243.9 1619.8,241.1 1617.6,238.4 1615.3,235.6 1613.0,232.8" fill="#000"/>
<polygon points="1750.0,343.0 1752.6,344.3 1755.2,346.2 1757.8,348.1 1760.4,350.0 1763.0,351.9 1765.5,353.7 1768.1,355.6 1770.7,357.5 1773.3,359.4 1775.9,361.3 1778.5,363.1 1781.1,364.9 1783.7,366.6 1786.3,368.3 1788.9,370.1 1791.5,371.8 1794.1,373.5 1796.7,373.8 1799.2,373.9 1801.8,374.0 1804.4,374.2 1807.0,374.3 1809.6,375.5 1812.2,377.0 1814.8,378.4 1817.4,379.8 1820.0,381.3 1822.6,382.7 1825.2,384.2 1827.8,385.6 1830.3,387.0 1832.9,388.6 1835.5,390.2 1838.1,391.7 1840.7,393.3 1843.3,394.9 1845.9,396.5 1848.5,398.1 1851.1,399.6 1853.7,401.2 1856.3,401.9 1858.8,402.2 1861.4,402.4 1864.0,402.6 1866.6,402.8 1869.2,403.0 1871.8,403.8 1874.4,405.0 1877.0,406.2 1879.6,407.4 1882.2,408.6 1884.8,409.8 1887.4,411.0 1890.0,411.1 1892.5,411.2 1895.1,411.3 1897.7,411.4 1900.3,411.5 1902.9,411.6 1905.5,411.7 1905.5,439.7 1902.9,439.2 1900.3,438.7 1897.7,438.2 1895.1,437.7 1892.5,437.1 1890.0,436.6 1887.4,436.1 1884.8,434.7 1882.2,433.3 1879.6,432.0 1877.0,430.6 1874.4,429.3 1871.8,427.9 1869.2,426.9 1866.6,426.3 1864.0,425.8 1861.4,425.2 1858.8,424.7 1856.3,424.1 1853.7,423.1 1851.1,421.3 1848.5,419.5 1845.9,417.7 1843.3,415.9 1840.7,414.1 1838.1,412.3 1835.5,410.5 1832.9,408.7 1830.3,407.0 1827.8,405.3 1825.2,403.7 1822.6,402.0 1820.0,400.4 1817.4,398.7 1814.8,397.1 1812.2,395.4 1809.6,393.7 1807.0,392.3 1804.4,392.2 1801.8,392.0 1799.2,391.9 1796.7,391.8 1794.1,391.5 1791.5,389.1 1788.9,386.7 1786.3,384.3 1783.7,381.9 1781.1,379.4 1778.5,377.1 1775.9,374.8 1773.3,372.6 1770.7,370.4 1768.1,368.1 1765.5,365.9 1763.0,363.6 1760.4,361.4 1757.8,359.2 1755.2,356.9 1752.6,354.7 1750.0,353.0" fill="#000"/>
<polygon points="1905.2,61.0 1905.3,61.0 1905.4,61.0 1905.5,61.0 1905.6,61.0 1905.8,61.0 1905.9,61.0 1906.0,61.0 1906.1,61.0 1906.2,61.0 1906.3,61.0 1906.4,61.0 1906.5,61.0 1906.6,61.0 1906.7,61.0 1906.8,61.0 1907.0,61.0 1907.1,61.0 1907.2,61.0 1907.3,61.0 1907.4,61.0 1907.5,61.0 1907.6,61.0 1907.7,61.0 1907.8,61.0 1908.0,61.0 1908.1,61.0 1908.2,61.0 1908.3,61.0 1908.4,61.0 1908.5,61.0 1908.6,61.0 1908.7,61.0 1908.8,61.0 1908.9,61.0 1909.0,61.0 1909.2,61.0 1909.3,61.0 1909.4,61.0 1909.5,61.0 1909.6,61.0 1909.7,61.0 1909.8,61.0 1909.9,61.0 1910.0,61.0 1910.2,61.0 1910.3,61.0 1910.4,61.0 1910.5,61.0 1910.6,61.0 1910.7,61.0 1910.8,61.0 1910.9,61.0 1911.0,61.0 1911.1,61.0 1911.2,61.0 1911.4,61.0 1911.5,61.0 1911.6,61.0 1911.7,61.0 1911.8,61.0 1911.8,126.1 1911.7,126.2 1911.6,126.3 1911.5,126.4 1911.4,126.5 1911.2,126.5 1911.1,126.6 1911.0,126.7 1910.9,126.8 1910.8,126.9 1910.7,126.9 1910.6,127.0 1910.5,127.1 1910.4,127.2 1910.3,127.2 1910.2,127.3 1910.0,127.4 1909.9,127.5 1909.8,127.6 1909.7,127.6 1909.6,127.7 1909.5,127.8 1909.4,127.9 1909.3,128.0 1909.2,128.0 1909.0,128.1 1908.9,128.2 1908.8,128.3 1908.7,128.3 1908.6,128.4 1908.5,128.5 1908.4,128.6 1908.3,128.7 1908.2,128.7 1908.1,128.8 1908.0,128.9 1907.8,129.0 1907.7,129.0 1907.6,129.1 1907.5,129.2 1907.4,129.3 1907.3,129.4 1907.2,129.4 1907.1,129.5 1907.0,129.6 1906.8,129.7 1906.7,129.8 1906.6,129.8 1906.5,129.9 1906.4,130.0 1906.3,130.1 1906.2,130.1 1906.1,130.2 1906.0,130.3 1905.9,130.4 1905.8,130.5 1905.6,130.5 1905.5,130.6 1905.4,130.7 1905.3,130.8 1905.2,130.9" fill="#000"/>
<path d="M1165.50,61.0V136.3M1166.15,61.1V166.7M1166.74,61.1V157.0M1167.54,61.1V121.6M1168.45,61.2V121.9M1169.30,61.2V124.7M1169.91,61.3V152.9M1171.04,61.3V130.3M1171.74,61.4V175.5M1172.97,61.4V172.0M1173.79,61.5V217.6M1174.36,61.5V204.6M1175.11,61.5V137.1M1175.74,61.6V150.6M1176.87,61.6V141.9M1177.82,61.7V183.8M1178.63,61.7V174.7M1179.22,61.7V137.0M1179.91,61.8V187.6M1180.75,61.8V155.3M1181.72,61.9V166.9M1182.47,61.9V197.7M1183.51,62.0V152.4M1184.47,62.5V173.8M1185.64,63.6V190.0M1186.39,64.4V209.2M1187.01,65.0V167.5M1188.10,66.1V155.3M1188.99,67.0V153.4M1190.01,68.0V186.8M1190.96,70.3V198.9M1191.73,72.1V192.8M1192.70,74.5V190.4M1193.56,76.6V211.8M1194.78,79.5V191.0M1195.80,81.6V168.7M1196.85,83.7V206.3M1198.10,86.2V215.8M1198.85,87.7V185.6M1199.87,89.7V170.3M1302.00,65.5V116.1M1302.69,65.7V107.3M1303.91,66.1V112.6M1304.71,66.3V151.8M1306.00,66.8V108.1M1306.96,67.1V184.1M1308.27,67.5V239.2M1309.56,67.9V124.1M1310.49,68.4V133.4M1311.80,69.5V251.9M1312.52,70.2V113.1M1313.31,70.8V119.0M1314.29,71.7V173.2M1315.10,72.4V103.7M1316.04,73.2V137.3M1317.00,82.0V271.9M1319.07,87.4V208.9M1321.04,92.5V251.9M1322.20,95.6V309.3M1324.40,102.2V303.9M1326.63,108.9V196.8M1328.29,112.1V143.4M1330.28,115.5V135.4M1331.46,117.4V154.2M1332.77,119.6V167.9M1337.50,78.2V110.0M1338.22,78.6V117.1M1339.11,79.0V111.0M1340.41,79.6V194.9M1341.13,79.9V134.1M1342.01,80.3V149.5M1342.71,80.7V237.2M1344.10,81.3V163.3M1345.09,81.8V114.9M1345.77,82.1V143.6M1346.58,82.5V224.8M1347.31,82.8V110.8M1348.67,83.4V169.6M1349.39,83.8V171.5M1350.01,84.1V168.7M1351.39,84.7V224.8M1352.00,85.0V150.4M1353.70,94.3V140.7M1356.01,107.1V198.3M1358.33,118.3V172.2M1359.81,119.4V241.8M1362.45,121.3V248.6M1364.82,123.1V243.9M1367.08,125.2V159.5M1369.01,127.3V178.9M1370.19,128.6V137.5M1371.76,130.3V168.0M1373.95,132.7V271.8M1375.77,134.7V270.2M1376.50,80.2V252.2M1377.39,81.4V142.3M1378.17,82.4V140.7M1378.94,83.5V198.1M1380.26,85.2V236.4M1381.24,86.6V205.6M1382.48,88.2V135.3M1383.61,89.7V253.7M1384.83,91.4V226.4M1385.82,92.7V146.7M1387.05,94.4V165.5M1388.29,96.0V272.0M1389.21,97.3V176.9M1390.56,99.0V228.4M1391.30,100.0V146.7M1392.02,100.9V260.2M1393.27,102.6V149.2M1394.53,104.2V272.5M1395.65,105.7V171.9M1396.69,107.1V149.2M1397.30,107.9V268.6M1398.42,109.3V195.5M1399.77,111.1V183.0M1401.07,112.8V240.9M1401.84,113.8V162.2M1402.50,116.9V180.0M1403.57,117.5V181.3M1404.50,118.0V167.8M1405.83,118.7V190.8M1406.80,119.3V222.1M1408.12,120.0V197.5M1409.46,120.8V207.6M1410.48,121.3V209.5M1411.10,121.7V196.8M1411.84,122.1V153.2M1413.08,122.8V162.7M1414.06,123.4V235.5M1415.11,123.9V176.0M1416.12,124.5V205.6M1417.00,150.0V177.5M1418.47,157.3V196.6M1419.62,163.1V255.2M1421.03,170.1V236.0M1422.72,178.6V274.6M1424.05,185.3V248.7M1425.46,192.3V244.4M1427.08,200.4V245.5M1428.51,207.6V252.3M1430.41,217.0V272.8M1432.23,226.1V292.2M1433.36,231.8V273.2M1435.26,241.1V292.3M1436.25,245.2V265.1M1437.59,250.8V268.9M1438.69,255.4V273.2M1440.28,262.0V299.1M1442.13,269.7V287.9M1443.77,276.5V303.1M1444.77,280.7V309.3M1448.00,121.0V158.8M1449.36,123.0V178.7M1450.35,124.5V266.6M1451.62,126.4V159.7M1452.56,127.8V195.7M1453.43,129.2V165.0M1454.29,130.4V223.7M1454.90,131.4V202.2M1455.86,132.8V159.8M1456.72,134.1V211.9M1457.73,135.6V164.5M1459.12,137.6V233.3M1460.50,139.5V170.6M1461.31,140.7V169.4M1462.53,142.4V183.5M1463.24,143.4V196.6M1464.57,145.3V239.2M1465.37,146.4V180.4M1466.71,148.3V213.9M1467.87,149.9V181.7M1468.51,150.8V227.0M1469.45,152.2V183.6M1470.81,154.1V224.9M1472.05,155.8V187.2M1473.33,157.6V188.0M1474.62,159.5V216.1M1475.49,160.5V227.8M1476.83,161.8V203.2M1477.54,162.5V228.3M1478.33,163.3V194.0M1479.06,164.1V192.0M1479.82,164.8V208.8M1480.66,165.7V258.3M1481.50,166.5V227.9M1482.24,167.2V213.4M1482.85,167.9V205.8M1483.46,168.5V256.7M1484.51,169.5V202.6M1485.49,170.5V284.4M1486.17,171.2V267.4M1487.12,172.2V229.0M1488.38,174.6V220.2M1489.39,176.6V248.7M1490.77,179.2V218.0M1492.04,181.6V248.9M1493.15,183.7V222.7M1494.03,185.4V207.6M1494.73,186.8V208.9M1495.92,189.0V215.5M1496.65,190.4V211.8M1497.93,192.9V235.3M1499.50,200.0V266.9M1500.10,200.4V268.4M1500.82,201.1V256.4M1501.54,201.8V267.4M1502.57,202.8V306.9M1503.34,203.5V267.6M1504.37,204.5V273.9M1505.04,205.2V224.1M1505.72,205.8V285.5M1506.47,206.6V265.9M1507.22,207.3V231.1M1507.83,207.9V253.8M1508.52,208.6V245.7M1508.98,209.0V275.2M1509.57,209.6V291.3M1510.34,210.5V298.8M1511.18,211.8V297.8M1512.16,213.2V282.8M1512.81,214.2V308.6M1513.35,215.0V299.4M1514.18,216.3V253.3M1515.13,217.7V306.5M1515.96,218.9V301.3M1516.90,220.3V269.5M1517.66,221.5V293.0M1518.61,222.9V305.3M1519.56,224.3V297.8M1520.54,225.8V302.9M1521.41,227.1V282.8M1521.88,227.8V276.0M1522.55,228.8V274.4M1523.50,230.2V303.8M1524.32,231.5V308.1M1525.18,232.8V304.1M1525.63,233.5V316.9M1526.53,234.8V307.3M1527.30,236.0V315.2M1527.79,236.7V319.0M1528.40,237.6V281.3M1529.00,238.5V321.1M1529.58,239.4V322.6M1530.61,240.5V314.3M1531.29,241.0V314.5M1532.15,241.6V327.4M1532.97,242.2V323.8M1533.47,242.6V296.3M1534.07,243.1V329.2M1534.70,243.5V323.0M1535.16,243.9V287.9M1535.77,244.3V328.8M1536.64,245.0V330.1M1537.26,245.4V324.0M1537.99,246.0V322.3M1538.51,246.4V340.0M1539.08,246.8V343.4M1540.09,247.6V283.4M1540.82,248.1V339.8M1541.85,248.8V325.2M1542.46,249.3V310.8M1543.48,250.0V311.8M1544.28,250.6V306.4M1545.04,251.2V348.5M1545.57,251.5V344.0M1546.33,252.1V346.6M1547.20,252.7V315.7M1548.19,253.4V331.1M1548.65,253.8V282.8M1549.40,254.3V329.8M1550.03,254.8V309.5M1550.69,255.2V323.0M1551.64,255.9V283.0M1552.54,256.6V346.7M1553.06,257.0V349.7M1553.94,257.7V348.4M1554.56,258.3V327.1M1555.25,259.1V350.7M1556.05,259.9V326.5M1556.76,260.7V321.8M1557.24,261.2V308.6M1558.19,262.3V322.5M1559.20,263.4V320.6M1559.81,264.0V332.9M1560.37,264.6V327.2M1561.40,265.8V345.3M1562.34,266.8V338.0M1563.33,267.9V347.3M1564.11,268.7V341.4M1564.59,269.2V341.9M1565.31,270.0V342.8M1566.15,270.9V325.9M1566.63,271.4V347.8M1567.16,272.0V334.3M1567.81,272.7V327.3M1568.70,273.7V349.7M1569.31,274.6V341.4M1569.94,275.6V338.7M1570.63,276.6V322.2M1571.18,277.5V325.1M1572.17,279.0V338.0M1572.75,279.9V349.5M1573.80,281.5V337.4M1574.33,282.4V326.8M1574.84,283.1V334.1M1575.34,283.9V330.0M1575.95,284.9V342.3M1576.93,286.4V347.5M1577.63,287.5V338.6M1578.39,288.6V337.8M1579.04,289.7V322.1M1579.66,290.6V353.3M1580.19,291.4V342.9M1581.01,292.7V351.8M1581.59,293.6V336.2M1582.19,294.5V341.0M1582.91,296.2V354.3M1583.87,298.9V353.3M1584.33,300.3V325.7M1585.21,302.8V354.4M1585.94,304.9V349.2M1586.39,306.2V345.1M1587.40,309.1V354.4M1588.36,311.9V357.0M1588.96,313.6V339.5M1589.50,315.1V350.9M1590.36,317.6V357.9M1591.25,320.2V355.7M1592.15,322.8V354.4M1592.94,325.0V344.1M1593.85,327.5V353.2M1613.00,217.8V232.8M1616.79,222.3V240.9M1620.40,226.6V260.4M1625.61,232.8V259.5M1628.57,236.3V279.1M1633.37,242.0V275.2M1636.87,246.2V275.1M1639.61,249.4V269.0M1643.97,254.6V270.9M1648.99,259.1V276.3M1653.40,263.0V283.8M1656.99,266.8V301.6M1662.23,272.4V302.6M1665.00,275.4V312.1M1670.13,280.8V314.0M1673.76,284.7V317.9M1679.79,290.0V315.0M1682.61,292.3V320.2M1686.83,295.8V330.8M1690.24,298.6V336.0M1695.60,303.1V336.8M1699.04,305.9V349.9M1702.86,309.1V349.0M1706.39,312.0V340.9M1711.83,316.3V342.2M1717.96,320.6V343.9M1721.33,322.9V345.8M1725.53,325.5V370.5M1731.65,329.1V360.2M1735.76,332.2V360.9M1741.97,336.9V356.7M1744.86,339.1V356.1M1748.97,342.2V373.3M1750.00,343.0V374.1M1751.19,343.6V380.2M1751.92,344.0V361.7M1753.07,344.7V378.4M1753.60,345.1V377.1M1754.37,345.6V370.0M1755.10,346.2V364.3M1755.62,346.5V368.5M1756.36,347.1V388.4M1756.96,347.5V389.5M1757.61,348.0V373.2M1758.68,348.8V388.2M1759.48,349.3V363.7M1760.31,349.9V376.7M1761.45,350.8V371.4M1762.21,351.3V393.7M1762.74,351.7V379.9M1763.80,352.5V391.2M1764.34,352.9V367.1M1764.89,353.3V396.2M1765.57,353.8V392.0M1766.70,354.6V380.6M1767.39,355.1V398.9M1768.32,355.7V379.4M1769.32,356.5V382.0M1770.02,357.0V370.1M1771.04,357.7V400.4M1771.98,358.4V401.7M1772.51,358.8V381.8M1773.34,359.4V403.0M1774.50,360.2V388.2M1775.18,360.7V390.1M1776.02,361.3V404.2M1776.66,361.8V401.4M1777.67,362.5V402.6M1778.71,363.3V397.7M1779.44,363.8V390.2M1780.20,364.3V403.8M1780.76,364.6V387.5M1781.78,365.3V390.2M1782.34,365.7V382.7M1783.22,366.3V394.1M1784.40,367.1V410.9M1785.58,367.9V394.5M1786.15,368.2V389.0M1787.00,368.8V409.1M1787.81,369.4V395.7M1788.60,369.9V408.3M1789.57,370.5V412.9M1790.66,371.3V411.6M1791.25,371.7V416.8M1791.96,372.1V409.9M1792.72,372.6V415.3M1793.37,373.1V401.3M1794.05,373.5V398.6M1795.16,373.7V412.6M1795.89,373.8V407.5M1797.07,373.8V411.5M1797.74,373.9V420.8M1798.70,373.9V426.7M1799.27,373.9V411.5M1800.34,374.0V423.2M1801.47,374.0V394.8M1802.18,374.1V398.5M1802.82,374.1V426.4M1803.73,374.1V425.0M1804.49,374.2V423.0M1805.31,374.2V403.9M1806.35,374.3V424.7M1806.93,374.3V414.6M1807.86,374.6V402.2M1808.62,375.0V399.6M1809.27,375.3V403.6M1810.19,375.8V414.2M1810.83,376.2V395.3M1811.57,376.6V414.0M1812.20,377.0V405.2M1812.85,377.3V415.5M1813.73,377.8V398.8M1814.31,378.1V406.8M1815.20,378.6V411.1M1815.77,378.9V402.2M1816.75,379.5V407.5M1817.45,379.9V405.9M1818.61,380.5V406.5M1819.51,381.0V407.6M1820.30,381.5V415.5M1821.49,382.1V408.5M1822.13,382.5V413.9M1822.78,382.8V402.4M1823.90,383.5V410.3M1824.97,384.1V410.4M1826.08,384.7V411.5M1826.70,385.0V405.1M1827.59,385.5V414.0M1828.72,386.1V407.7M1829.65,386.7V411.7M1830.50,387.1V409.4M1831.21,387.5V413.8M1832.35,388.2V410.1M1833.19,388.7V417.5M1834.36,389.4V412.4M1834.95,389.8V419.5M1836.13,390.5V416.3M1836.67,390.9V420.3M1837.45,391.3V420.5M1838.38,391.9V420.4M1839.00,392.3V420.4M1839.66,392.7V417.7M1840.74,393.3V421.7M1841.38,393.7V417.1M1842.16,394.2V420.1M1842.93,394.7V417.2M1843.61,395.1V422.5M1844.73,395.8V417.5M1845.62,396.3V423.9M1846.16,396.6V424.8M1846.75,397.0V423.6M1847.63,397.5V424.4M1848.35,398.0V423.4M1849.26,398.5V424.1M1850.21,399.1V424.9M1851.02,399.6V421.7M1851.95,400.2V426.4M1852.62,400.6V428.8M1853.66,401.2V427.4M1854.29,401.6V427.9M1854.88,401.8V425.4M1855.68,401.9V425.3M1856.49,402.0V429.5M1857.03,402.0V430.9M1857.59,402.0V432.1M1858.63,402.1V430.8M1859.18,402.2V431.0M1859.95,402.2V435.8M1860.55,402.3V435.4M1861.74,402.4V435.1M1862.80,402.5V429.1M1863.98,402.6V433.7M1865.14,402.7V439.8M1865.76,402.7V438.7M1866.90,402.8V428.2M1867.65,402.9V439.7M1868.27,402.9V442.1M1868.97,403.0V441.5M1869.58,403.0V437.2M1870.71,403.3V432.4M1871.40,403.6V437.7M1872.13,403.9V429.3M1872.76,404.2V432.3M1873.91,404.8V440.7M1875.03,405.3V433.3M1876.07,405.8V432.8M1876.94,406.2V440.6M1877.70,406.5V443.6M1878.58,406.9V440.2M1879.69,407.5V434.2M1880.88,408.0V441.2M1881.66,408.4V443.0M1882.35,408.7V444.9M1883.25,409.1V438.8M1884.28,409.6V439.9M1884.91,409.9V442.8M1885.45,410.1V443.5M1886.13,410.5V442.1M1887.31,411.0V441.9M1888.28,411.0V439.8M1888.79,411.1V436.9M1889.40,411.1V442.5M1890.20,411.1V441.9M1891.32,411.2V438.6M1891.99,411.2V443.3M1892.51,411.2V437.2M1893.26,411.2V438.7M1894.01,411.3V440.1M1894.92,411.3V443.3M1895.57,411.3V443.7M1896.40,411.3V439.7M1897.55,411.4V440.9M1898.16,411.4V439.6M1899.11,411.4V446.1M1900.15,411.5V442.8M1900.84,411.5V439.1M1901.79,411.6V444.3M1902.53,411.6V445.1M1903.35,411.6V447.3M1904.35,411.6V442.3M1905.48,411.7V440.4M1905.20,61.0V154.9M1905.83,61.0V133.9M1906.81,61.0V130.5M1907.64,61.0V188.1M1908.21,61.0V141.3M1909.08,61.0V159.5M1909.97,61.0V177.1M1910.57,61.0V145.7M1911.24,61.0V129.4" stroke="#000" stroke-width="1.0" fill="none"/>
<polyline points="1197.0,85.0 1199.0,95.0 1202.0,135.0 1208.0,180.0 1214.0,232.0 1219.0,270.0 1224.0,312.0 1234.0,354.0 1241.0,388.0 1246.0,410.0 1250.0,430.0 1254.0,449.0" fill="none" stroke="#000" stroke-width="2.6" stroke-linejoin="round"/>
<polyline points="1286.0,140.0 1288.0,182.0 1292.0,230.0 1296.0,280.0 1300.0,330.0 1302.0,352.0" fill="none" stroke="#000" stroke-width="2.6" stroke-linejoin="round"/>
<polyline points="1268.3,239.3 1272.0,280.0 1277.0,330.0 1282.0,370.0 1286.0,392.0" fill="none" stroke="#000" stroke-width="2.6" stroke-linejoin="round"/>
<polyline points="1607.5,218.0 1608.0,270.0 1609.5,320.0" fill="none" stroke="#000" stroke-width="2.6" stroke-linejoin="round"/>
<polyline points="1404.0,118.0 1414.0,172.0 1421.0,210.0 1431.0,248.0 1441.0,290.0 1446.5,313.0" fill="none" stroke="#000" stroke-width="2.8" stroke-linejoin="round"/>
<polygon points="1593.5,196.5 1597.5,196.5 1602.0,205.0 1608.5,214.0 1608.5,221.0 1604.0,221.0 1598.0,213.0 1593.5,205.0" fill="#000"/>
<polygon points="1240.0,388.0 1246.0,395.0 1252.0,420.0 1256.0,445.0 1254.0,451.0 1246.0,440.0 1241.0,420.0" fill="#000"/>
<polygon points="1262.0,393.0 1268.0,393.0 1268.0,436.0 1264.0,430.0" fill="#000"/>
<polygon points="1300.0,66.0 1304.5,120.0 1309.0,180.0 1313.5,250.0 1316.5,250.0 1315.0,180.0 1313.5,120.0 1308.0,66.0" fill="#000"/>
<polygon points="1317.0,88.0 1321.0,150.0 1327.5,220.0 1331.8,290.0 1334.2,290.0 1332.5,220.0 1327.0,150.0 1321.0,88.0" fill="#000"/>
<polygon points="1337.0,78.0 1342.5,150.0 1350.0,205.0 1356.5,262.0 1359.5,262.0 1356.0,205.0 1351.5,150.0 1345.0,78.0" fill="#000"/>
<polygon points="1352.0,120.0 1359.0,180.0 1367.5,230.0 1374.8,266.0 1377.2,266.0 1372.5,230.0 1365.0,180.0 1356.0,120.0" fill="#000"/>
<polygon points="1377.0,82.0 1383.0,120.0 1390.0,190.0 1397.0,243.0 1401.0,243.0 1400.0,190.0 1399.0,120.0 1391.0,82.0" fill="#000"/>
<polygon points="1402.0,118.0 1410.0,175.0 1421.0,235.0 1433.0,285.0 1443.0,310.0 1447.0,310.0 1443.0,285.0 1435.0,235.0 1422.0,175.0 1408.0,118.0" fill="#000"/>
<polygon points="1449.0,125.0 1456.0,170.0 1465.0,220.0 1474.5,280.0 1477.5,280.0 1471.0,220.0 1464.0,170.0 1455.0,125.0" fill="#000"/>
<polygon points="1482.0,165.0 1486.5,210.0 1492.0,260.0 1496.0,260.0 1493.5,210.0 1488.0,165.0" fill="#000"/>
<polygon points="1795.5,375.3 1806.6,375.3 1806.6,393.0" fill="#fff"/>
<polygon points="1855.6,402.8 1869.5,402.8 1869.5,420.0" fill="#fff"/>
<polygon points="1888.3,412.0 1905.0,412.0 1905.0,425.0" fill="#fff"/>
<polygon points="1724.5,325.5 1729.3,325.5 1729.3,345.0" fill="#fff"/>
<polygon points="1608.5,219.0 1612.3,219.0 1612.3,232.0" fill="#fff"/>
<polygon points="1646.5,259.6 1649.3,259.6 1649.3,270.0" fill="#fff"/>
<line x1="1165" y1="61" x2="1912" y2="61" stroke="#000" stroke-width="2.0"/>
<line x1="1189" y1="65.5" x2="1302" y2="65.5" stroke="#000" stroke-width="1.6"/>
<line x1="1203.7" y1="139.6" x2="1286" y2="139.6" stroke="#000" stroke-width="1.5"/>
<line x1="1215" y1="239.3" x2="1268.3" y2="239.3" stroke="#000" stroke-width="1.5"/>
<line x1="1235.3" y1="358.5" x2="1255.6" y2="358.5" stroke="#000" stroke-width="1.4"/>
<line x1="1261.5" y1="393" x2="1268.3" y2="393" stroke="#000" stroke-width="1.3"/>
<line x1="1315.6" y1="74.5" x2="1336.7" y2="74.5" stroke="#000" stroke-width="1.4"/>
<line x1="1316.5" y1="80" x2="1333.4" y2="80" stroke="#000" stroke-width="1.3"/>
<line x1="1337" y1="78.7" x2="1376.3" y2="78.7" stroke="#000" stroke-width="1.5"/>
<line x1="1401.7" y1="116" x2="1446.5" y2="116" stroke="#000" stroke-width="1.5"/>
<line x1="1498.9" y1="197" x2="1594.4" y2="197" stroke="#000" stroke-width="1.6"/>
<line x1="1607" y1="217.3" x2="1612.5" y2="217.3" stroke="#000" stroke-width="1.4"/>
<line x1="1794.3" y1="374.3" x2="1807.4" y2="374.3" stroke="#000" stroke-width="1.3"/>
<line x1="1854.6" y1="402.3" x2="1870.3" y2="402.3" stroke="#000" stroke-width="1.3"/>
<line x1="1887.3" y1="411.3" x2="1905.7" y2="411.3" stroke="#000" stroke-width="1.3"/>
<line x1="1723.6" y1="325.0" x2="1730" y2="325.0" stroke="#000" stroke-width="1.2"/>
<line x1="1645.6" y1="258.9" x2="1650" y2="258.9" stroke="#000" stroke-width="1.2"/>
<line x1="1203.7" y1="136" x2="1240" y2="136" stroke="#000" stroke-width="1.0"/>
<line x1="1215" y1="235.5" x2="1245" y2="235.5" stroke="#000" stroke-width="1.0"/>
<line x1="1235.3" y1="355" x2="1245" y2="355" stroke="#000" stroke-width="1.0"/>
<line x1="1498.9" y1="194.5" x2="1560" y2="194.5" stroke="#000" stroke-width="1.0"/>
<line x1="1165.3" y1="61" x2="1165.3" y2="327.6" stroke="#000" stroke-width="1.4"/>
<line x1="1180.4" y1="70" x2="1180.4" y2="286.6" stroke="#000" stroke-width="1.2"/>
<line x1="1196.5" y1="90" x2="1196.5" y2="263.8" stroke="#000" stroke-width="1.2"/>
<line x1="1204.4" y1="140" x2="1204.4" y2="217.3" stroke="#000" stroke-width="1.2"/>
<line x1="1286" y1="139.6" x2="1286" y2="229" stroke="#000" stroke-width="1.5"/>
<line x1="1307.2" y1="65" x2="1307.2" y2="408" stroke="#000" stroke-width="1.4"/>
<line x1="1336.7" y1="74.5" x2="1336.7" y2="251" stroke="#000" stroke-width="1.4"/>
<line x1="1333.4" y1="80" x2="1333.4" y2="224" stroke="#000" stroke-width="1.3"/>
<line x1="1446.5" y1="116" x2="1446.5" y2="269.7" stroke="#000" stroke-width="1.4"/>
<line x1="1255.6" y1="358.5" x2="1255.6" y2="440" stroke="#000" stroke-width="1.3"/>
<line x1="1261.5" y1="393" x2="1261.5" y2="435" stroke="#000" stroke-width="1.3"/>
<line x1="1268.3" y1="393" x2="1268.3" y2="420" stroke="#000" stroke-width="1.3"/>
<line x1="1807.2" y1="374.3" x2="1807.2" y2="427" stroke="#000" stroke-width="1.2"/>
<line x1="1870" y1="402.3" x2="1870" y2="445" stroke="#000" stroke-width="1.2"/>
<line x1="1905.4" y1="411.3" x2="1905.4" y2="450" stroke="#000" stroke-width="1.3"/>
<line x1="1906.3" y1="61" x2="1906.3" y2="324" stroke="#000" stroke-width="1.4"/>
<line x1="1312" y1="75" x2="1312" y2="300" stroke="#000" stroke-width="1.0"/>
<line x1="1358.6" y1="120" x2="1358.6" y2="271.5" stroke="#000" stroke-width="1.0"/>
<line x1="1375.5" y1="170" x2="1375.5" y2="273" stroke="#000" stroke-width="1.0"/>
<line x1="1395" y1="112" x2="1395" y2="251" stroke="#000" stroke-width="1.0"/>
<line x1="1241" y1="358.5" x2="1241" y2="388" stroke="#000" stroke-width="1.2"/>
<line x1="1645.8" y1="258.6" x2="1645.8" y2="366" stroke="#000" stroke-width="1.5"/>
<line x1="1611.5" y1="218" x2="1611.5" y2="320" stroke="#000" stroke-width="1.2"/>
<line x1="1729.6" y1="327.8" x2="1729.6" y2="403" stroke="#000" stroke-width="1.3"/>
<line x1="1794.3" y1="373.7" x2="1794.3" y2="392" stroke="#000" stroke-width="1.0"/>
<line x1="1854.6" y1="401.8" x2="1854.6" y2="418" stroke="#000" stroke-width="1.0"/>
<line x1="1887.3" y1="411" x2="1887.3" y2="424" stroke="#000" stroke-width="1.0"/>
<text transform="translate(1440.90,766.90)" font-family="'Liberation Serif', 'Times New Roman', serif" font-size="94" font-weight="bold" fill="#000" textLength="57.50" lengthAdjust="spacingAndGlyphs">B</text>
<text transform="translate(414.30,853.60)" font-family="'Liberation Sans', Arial, sans-serif" font-size="21.5" font-weight="bold" fill="#000" textLength="249.00" lengthAdjust="spacingAndGlyphs">module−trait relationships</text>
<rect x="143.50" y="882.30" width="185.38" height="64.78" fill="#DDFCDD"/>
<rect x="328.38" y="882.30" width="185.38" height="64.78" fill="#DFFBDF"/>
<rect x="513.25" y="882.30" width="185.38" height="64.78" fill="#EAFDEA"/>
<rect x="698.12" y="882.30" width="185.38" height="64.78" fill="#F24E52"/>
<rect x="143.50" y="946.57" width="185.38" height="64.78" fill="#46FF0A"/>
<rect x="328.38" y="946.57" width="185.38" height="64.78" fill="#46FF0A"/>
<rect x="513.25" y="946.57" width="185.38" height="64.78" fill="#FF2010"/>
<rect x="698.12" y="946.57" width="185.38" height="64.78" fill="#F09196"/>
<rect x="143.50" y="1010.85" width="185.38" height="64.78" fill="#AAFFA0"/>
<rect x="328.38" y="1010.85" width="185.38" height="64.78" fill="#C8FCC6"/>
<rect x="513.25" y="1010.85" width="185.38" height="64.78" fill="#FF2010"/>
<rect x="698.12" y="1010.85" width="185.38" height="64.78" fill="#E8FBE8"/>
<rect x="143.50" y="1075.12" width="185.38" height="64.78" fill="#FF2010"/>
<rect x="328.38" y="1075.12" width="185.38" height="64.78" fill="#FF2010"/>
<rect x="513.25" y="1075.12" width="185.38" height="64.78" fill="#46FF0A"/>
<rect x="698.12" y="1075.12" width="185.38" height="64.78" fill="#46FF0A"/>
<rect x="143.50" y="1139.40" width="185.38" height="64.78" fill="#98FF80"/>
<rect x="328.38" y="1139.40" width="185.38" height="64.78" fill="#46FF0A"/>
<rect x="513.25" y="1139.40" width="185.38" height="64.78" fill="#FFFFFF"/>
<rect x="698.12" y="1139.40" width="185.38" height="64.78" fill="#FF2010"/>
<rect x="143.50" y="1203.67" width="185.38" height="64.78" fill="#FC3E40"/>
<rect x="328.38" y="1203.67" width="185.38" height="64.78" fill="#AAFFA0"/>
<rect x="513.25" y="1203.67" width="185.38" height="64.78" fill="#46FF0A"/>
<rect x="698.12" y="1203.67" width="185.38" height="64.78" fill="#F09398"/>
<rect x="143.50" y="1267.95" width="185.38" height="64.78" fill="#F2B9BE"/>
<rect x="328.38" y="1267.95" width="185.38" height="64.78" fill="#F4CDD1"/>
<rect x="513.25" y="1267.95" width="185.38" height="64.78" fill="#46FF0A"/>
<rect x="698.12" y="1267.95" width="185.38" height="64.78" fill="#F4CCD1"/>
<rect x="143.50" y="1332.22" width="185.38" height="64.78" fill="#F09196"/>
<rect x="328.38" y="1332.22" width="185.38" height="64.78" fill="#6CFF45"/>
<rect x="513.25" y="1332.22" width="185.38" height="64.78" fill="#F09398"/>
<rect x="698.12" y="1332.22" width="185.38" height="64.78" fill="#AAFFA0"/>
<rect x="109.40" y="880.90" width="29.50" height="65.97" fill="#7FFFFF"/>
<rect x="109.40" y="946.57" width="29.50" height="64.57" fill="#0C2A0C"/>
<rect x="109.40" y="1010.85" width="29.50" height="64.58" fill="#F5611E"/>
<rect x="109.40" y="1075.12" width="29.50" height="64.58" fill="#9033FF"/>
<rect x="109.40" y="1139.40" width="29.50" height="64.57" fill="#4F0707"/>
<rect x="109.40" y="1203.67" width="29.50" height="64.58" fill="#737373"/>
<rect x="109.40" y="1267.95" width="29.50" height="64.57" fill="#FF2AFF"/>
<rect x="109.40" y="1332.22" width="29.50" height="63.68" fill="#999999"/>
<rect x="143.5" y="882.3" width="739.5" height="514.2" fill="none" stroke="#222" stroke-width="1.3"/>
<text transform="translate(104.30,921.54) scale(0.8500,1)" font-family="'Liberation Sans', Arial, sans-serif" font-size="20" text-anchor="end" fill="#000">MEcyan</text>
<text transform="translate(235.94,911.84) scale(0.8400,1)" font-family="'Liberation Sans', Arial, sans-serif" font-size="10" text-anchor="middle" fill="#000">−0.17</text>
<text transform="translate(235.94,924.34) scale(0.8400,1)" font-family="'Liberation Sans', Arial, sans-serif" font-size="10" text-anchor="middle" fill="#000">(0.6)</text>
<text transform="translate(420.81,911.84) scale(0.8400,1)" font-family="'Liberation Sans', Arial, sans-serif" font-size="10" text-anchor="middle" fill="#000">−0.15</text>
<text transform="translate(420.81,924.34) scale(0.8400,1)" font-family="'Liberation Sans', Arial, sans-serif" font-size="10" text-anchor="middle" fill="#000">(0.7)</text>
<text transform="translate(605.69,911.84) scale(0.8400,1)" font-family="'Liberation Sans', Arial, sans-serif" font-size="10" text-anchor="middle" fill="#000">−0.1</text>
<text transform="translate(605.69,924.34) scale(0.8400,1)" font-family="'Liberation Sans', Arial, sans-serif" font-size="10" text-anchor="middle" fill="#000">(0.7)</text>
<text transform="translate(790.56,911.84) scale(0.8400,1)" font-family="'Liberation Sans', Arial, sans-serif" font-size="10" text-anchor="middle" fill="#000">0.42</text>
<text transform="translate(790.56,924.34) scale(0.8400,1)" font-family="'Liberation Sans', Arial, sans-serif" font-size="10" text-anchor="middle" fill="#000">(0.2)</text>
<text transform="translate(104.30,985.81) scale(0.8500,1)" font-family="'Liberation Sans', Arial, sans-serif" font-size="20" text-anchor="end" fill="#000">MEdarkgreen</text>
<text transform="translate(235.94,976.11) scale(0.8400,1)" font-family="'Liberation Sans', Arial, sans-serif" font-size="10" text-anchor="middle" fill="#000">−0.52</text>
<text transform="translate(235.94,988.61) scale(0.8400,1)" font-family="'Liberation Sans', Arial, sans-serif" font-size="10" text-anchor="middle" fill="#000">(0.08)</text>
<text transform="translate(420.81,976.11) scale(0.8400,1)" font-family="'Liberation Sans', Arial, sans-serif" font-size="10" text-anchor="middle" fill="#000">−0.54</text>
<text transform="translate(420.81,988.61) scale(0.8400,1)" font-family="'Liberation Sans', Arial, sans-serif" font-size="10" text-anchor="middle" fill="#000">(0.07)</text>
<text transform="translate(605.69,976.11) scale(0.8400,1)" font-family="'Liberation Sans', Arial, sans-serif" font-size="10" text-anchor="middle" fill="#000">0.73</text>
<text transform="translate(605.69,988.61) scale(0.8400,1)" font-family="'Liberation Sans', Arial, sans-serif" font-size="10" text-anchor="middle" fill="#000">(0.007)</text>
<text transform="translate(790.56,976.11) scale(0.8400,1)" font-family="'Liberation Sans', Arial, sans-serif" font-size="10" text-anchor="middle" fill="#000">0.33</text>
<text transform="translate(790.56,988.61) scale(0.8400,1)" font-family="'Liberation Sans', Arial, sans-serif" font-size="10" text-anchor="middle" fill="#000">(0.3)</text>
<text transform="translate(104.30,1050.09) scale(0.8500,1)" font-family="'Liberation Sans', Arial, sans-serif" font-size="20" text-anchor="end" fill="#000">MEorange</text>
<text transform="translate(235.94,1040.39) scale(0.8400,1)" font-family="'Liberation Sans', Arial, sans-serif" font-size="10" text-anchor="middle" fill="#000">−0.27</text>
<text transform="translate(235.94,1052.89) scale(0.8400,1)" font-family="'Liberation Sans', Arial, sans-serif" font-size="10" text-anchor="middle" fill="#000">(0.4)</text>
<text transform="translate(420.81,1040.39) scale(0.8400,1)" font-family="'Liberation Sans', Arial, sans-serif" font-size="10" text-anchor="middle" fill="#000">−0.23</text>
<text transform="translate(420.81,1052.89) scale(0.8400,1)" font-family="'Liberation Sans', Arial, sans-serif" font-size="10" text-anchor="middle" fill="#000">(0.5)</text>
<text transform="translate(605.69,1040.39) scale(0.8400,1)" font-family="'Liberation Sans', Arial, sans-serif" font-size="10" text-anchor="middle" fill="#000">0.64</text>
<text transform="translate(605.69,1052.89) scale(0.8400,1)" font-family="'Liberation Sans', Arial, sans-serif" font-size="10" text-anchor="middle" fill="#000">(0.03)</text>
<text transform="translate(790.56,1040.39) scale(0.8400,1)" font-family="'Liberation Sans', Arial, sans-serif" font-size="10" text-anchor="middle" fill="#000">−0.14</text>
<text transform="translate(790.56,1052.89) scale(0.8400,1)" font-family="'Liberation Sans', Arial, sans-serif" font-size="10" text-anchor="middle" fill="#000">(0.7)</text>
<text transform="translate(104.30,1114.36) scale(0.8500,1)" font-family="'Liberation Sans', Arial, sans-serif" font-size="20" text-anchor="end" fill="#000">MEpurple</text>
<text transform="translate(235.94,1104.66) scale(0.8400,1)" font-family="'Liberation Sans', Arial, sans-serif" font-size="10" text-anchor="middle" fill="#000">0.56</text>
<text transform="translate(235.94,1117.16) scale(0.8400,1)" font-family="'Liberation Sans', Arial, sans-serif" font-size="10" text-anchor="middle" fill="#000">(0.06)</text>
<text transform="translate(420.81,1104.66) scale(0.8400,1)" font-family="'Liberation Sans', Arial, sans-serif" font-size="10" text-anchor="middle" fill="#000">0.59</text>
<text transform="translate(420.81,1117.16) scale(0.8400,1)" font-family="'Liberation Sans', Arial, sans-serif" font-size="10" text-anchor="middle" fill="#000">(0.04)</text>
<text transform="translate(605.69,1104.66) scale(0.8400,1)" font-family="'Liberation Sans', Arial, sans-serif" font-size="10" text-anchor="middle" fill="#000">−0.59</text>
<text transform="translate(605.69,1117.16) scale(0.8400,1)" font-family="'Liberation Sans', Arial, sans-serif" font-size="10" text-anchor="middle" fill="#000">(0.04)</text>
<text transform="translate(790.56,1104.66) scale(0.8400,1)" font-family="'Liberation Sans', Arial, sans-serif" font-size="10" text-anchor="middle" fill="#000">−0.56</text>
<text transform="translate(790.56,1117.16) scale(0.8400,1)" font-family="'Liberation Sans', Arial, sans-serif" font-size="10" text-anchor="middle" fill="#000">(0.06)</text>
<text transform="translate(104.30,1178.64) scale(0.8500,1)" font-family="'Liberation Sans', Arial, sans-serif" font-size="20" text-anchor="end" fill="#000">MEdarkred</text>
<text transform="translate(235.94,1168.94) scale(0.8400,1)" font-family="'Liberation Sans', Arial, sans-serif" font-size="10" text-anchor="middle" fill="#000">−0.32</text>
<text transform="translate(235.94,1181.44) scale(0.8400,1)" font-family="'Liberation Sans', Arial, sans-serif" font-size="10" text-anchor="middle" fill="#000">(0.3)</text>
<text transform="translate(420.81,1168.94) scale(0.8400,1)" font-family="'Liberation Sans', Arial, sans-serif" font-size="10" text-anchor="middle" fill="#000">−0.4</text>
<text transform="translate(420.81,1181.44) scale(0.8400,1)" font-family="'Liberation Sans', Arial, sans-serif" font-size="10" text-anchor="middle" fill="#000">(0.2)</text>
<text transform="translate(605.69,1168.94) scale(0.8400,1)" font-family="'Liberation Sans', Arial, sans-serif" font-size="10" text-anchor="middle" fill="#000">0.041</text>
<text transform="translate(605.69,1181.44) scale(0.8400,1)" font-family="'Liberation Sans', Arial, sans-serif" font-size="10" text-anchor="middle" fill="#000">(0.9)</text>
<text transform="translate(790.56,1168.94) scale(0.8400,1)" font-family="'Liberation Sans', Arial, sans-serif" font-size="10" text-anchor="middle" fill="#000">0.69</text>
<text transform="translate(790.56,1181.44) scale(0.8400,1)" font-family="'Liberation Sans', Arial, sans-serif" font-size="10" text-anchor="middle" fill="#000">(0.01)</text>
<text transform="translate(104.30,1242.91) scale(0.8500,1)" font-family="'Liberation Sans', Arial, sans-serif" font-size="20" text-anchor="end" fill="#000">MEdarkgrey</text>
<text transform="translate(235.94,1233.21) scale(0.8400,1)" font-family="'Liberation Sans', Arial, sans-serif" font-size="10" text-anchor="middle" fill="#000">0.45</text>
<text transform="translate(235.94,1245.71) scale(0.8400,1)" font-family="'Liberation Sans', Arial, sans-serif" font-size="10" text-anchor="middle" fill="#000">(0.1)</text>
<text transform="translate(420.81,1233.21) scale(0.8400,1)" font-family="'Liberation Sans', Arial, sans-serif" font-size="10" text-anchor="middle" fill="#000">−0.29</text>
<text transform="translate(420.81,1245.71) scale(0.8400,1)" font-family="'Liberation Sans', Arial, sans-serif" font-size="10" text-anchor="middle" fill="#000">(0.4)</text>
<text transform="translate(605.69,1233.21) scale(0.8400,1)" font-family="'Liberation Sans', Arial, sans-serif" font-size="10" text-anchor="middle" fill="#000">−0.46</text>
<text transform="translate(605.69,1245.71) scale(0.8400,1)" font-family="'Liberation Sans', Arial, sans-serif" font-size="10" text-anchor="middle" fill="#000">(0.1)</text>
<text transform="translate(790.56,1233.21) scale(0.8400,1)" font-family="'Liberation Sans', Arial, sans-serif" font-size="10" text-anchor="middle" fill="#000">0.3</text>
<text transform="translate(790.56,1245.71) scale(0.8400,1)" font-family="'Liberation Sans', Arial, sans-serif" font-size="10" text-anchor="middle" fill="#000">(0.3)</text>
<text transform="translate(104.30,1307.19) scale(0.8500,1)" font-family="'Liberation Sans', Arial, sans-serif" font-size="20" text-anchor="end" fill="#000">MEmagenta</text>
<text transform="translate(235.94,1297.49) scale(0.8400,1)" font-family="'Liberation Sans', Arial, sans-serif" font-size="10" text-anchor="middle" fill="#000">0.25</text>
<text transform="translate(235.94,1309.99) scale(0.8400,1)" font-family="'Liberation Sans', Arial, sans-serif" font-size="10" text-anchor="middle" fill="#000">(0.4)</text>
<text transform="translate(420.81,1297.49) scale(0.8400,1)" font-family="'Liberation Sans', Arial, sans-serif" font-size="10" text-anchor="middle" fill="#000">0.18</text>
<text transform="translate(420.81,1309.99) scale(0.8400,1)" font-family="'Liberation Sans', Arial, sans-serif" font-size="10" text-anchor="middle" fill="#000">(0.6)</text>
<text transform="translate(605.69,1297.49) scale(0.8400,1)" font-family="'Liberation Sans', Arial, sans-serif" font-size="10" text-anchor="middle" fill="#000">−0.64</text>
<text transform="translate(605.69,1309.99) scale(0.8400,1)" font-family="'Liberation Sans', Arial, sans-serif" font-size="10" text-anchor="middle" fill="#000">(0.03)</text>
<text transform="translate(790.56,1297.49) scale(0.8400,1)" font-family="'Liberation Sans', Arial, sans-serif" font-size="10" text-anchor="middle" fill="#000">0.21</text>
<text transform="translate(790.56,1309.99) scale(0.8400,1)" font-family="'Liberation Sans', Arial, sans-serif" font-size="10" text-anchor="middle" fill="#000">(0.5)</text>
<text transform="translate(104.30,1371.46) scale(0.8500,1)" font-family="'Liberation Sans', Arial, sans-serif" font-size="20" text-anchor="end" fill="#000">MEgrey</text>
<text transform="translate(235.94,1361.76) scale(0.8400,1)" font-family="'Liberation Sans', Arial, sans-serif" font-size="10" text-anchor="middle" fill="#000">0.32</text>
<text transform="translate(235.94,1374.26) scale(0.8400,1)" font-family="'Liberation Sans', Arial, sans-serif" font-size="10" text-anchor="middle" fill="#000">(0.3)</text>
<text transform="translate(420.81,1361.76) scale(0.8400,1)" font-family="'Liberation Sans', Arial, sans-serif" font-size="10" text-anchor="middle" fill="#000">−0.35</text>
<text transform="translate(420.81,1374.26) scale(0.8400,1)" font-family="'Liberation Sans', Arial, sans-serif" font-size="10" text-anchor="middle" fill="#000">(0.3)</text>
<text transform="translate(605.69,1361.76) scale(0.8400,1)" font-family="'Liberation Sans', Arial, sans-serif" font-size="10" text-anchor="middle" fill="#000">0.3</text>
<text transform="translate(605.69,1374.26) scale(0.8400,1)" font-family="'Liberation Sans', Arial, sans-serif" font-size="10" text-anchor="middle" fill="#000">(0.3)</text>
<text transform="translate(790.56,1361.76) scale(0.8400,1)" font-family="'Liberation Sans', Arial, sans-serif" font-size="10" text-anchor="middle" fill="#000">−0.27</text>
<text transform="translate(790.56,1374.26) scale(0.8400,1)" font-family="'Liberation Sans', Arial, sans-serif" font-size="10" text-anchor="middle" fill="#000">(0.4)</text>
<rect x="892.00" y="912.80" width="13.70" height="9.85" fill="rgb(255,32,16)"/>
<rect x="892.00" y="921.85" width="13.70" height="9.85" fill="rgb(255,32,16)"/>
<rect x="892.00" y="930.90" width="13.70" height="9.85" fill="rgb(255,32,16)"/>
<rect x="892.00" y="939.95" width="13.70" height="9.85" fill="rgb(255,32,16)"/>
<rect x="892.00" y="949.00" width="13.70" height="9.85" fill="rgb(255,32,16)"/>
<rect x="892.00" y="958.05" width="13.70" height="9.85" fill="rgb(255,32,16)"/>
<rect x="892.00" y="967.10" width="13.70" height="9.85" fill="rgb(255,32,16)"/>
<rect x="892.00" y="976.15" width="13.70" height="9.85" fill="rgb(255,32,16)"/>
<rect x="892.00" y="985.20" width="13.70" height="9.85" fill="rgb(255,32,16)"/>
<rect x="892.00" y="994.25" width="13.70" height="9.85" fill="rgb(255,32,16)"/>
<rect x="892.00" y="1003.30" width="13.70" height="9.85" fill="rgb(255,32,16)"/>
<rect x="892.00" y="1012.35" width="13.70" height="9.85" fill="rgb(254,37,22)"/>
<rect x="892.00" y="1021.40" width="13.70" height="9.85" fill="rgb(250,55,47)"/>
<rect x="892.00" y="1030.45" width="13.70" height="9.85" fill="rgb(246,73,72)"/>
<rect x="892.00" y="1039.50" width="13.70" height="9.85" fill="rgb(242,91,96)"/>
<rect x="892.00" y="1048.55" width="13.70" height="9.85" fill="rgb(241,110,116)"/>
<rect x="892.00" y="1057.60" width="13.70" height="9.85" fill="rgb(241,129,136)"/>
<rect x="892.00" y="1066.65" width="13.70" height="9.85" fill="rgb(240,148,156)"/>
<rect x="892.00" y="1075.70" width="13.70" height="9.85" fill="rgb(241,165,172)"/>
<rect x="892.00" y="1084.75" width="13.70" height="9.85" fill="rgb(243,182,189)"/>
<rect x="892.00" y="1093.80" width="13.70" height="9.85" fill="rgb(245,200,205)"/>
<rect x="892.00" y="1102.85" width="13.70" height="9.85" fill="rgb(247,216,220)"/>
<rect x="892.00" y="1111.90" width="13.70" height="9.85" fill="rgb(250,231,234)"/>
<rect x="892.00" y="1120.95" width="13.70" height="9.85" fill="rgb(253,247,248)"/>
<rect x="892.00" y="1130.00" width="13.70" height="9.85" fill="rgb(255,255,255)"/>
<rect x="892.00" y="1139.05" width="13.70" height="9.85" fill="rgb(255,255,255)"/>
<rect x="892.00" y="1148.10" width="13.70" height="9.85" fill="rgb(248,255,247)"/>
<rect x="892.00" y="1157.15" width="13.70" height="9.85" fill="rgb(233,255,230)"/>
<rect x="892.00" y="1166.20" width="13.70" height="9.85" fill="rgb(213,255,207)"/>
<rect x="892.00" y="1175.25" width="13.70" height="9.85" fill="rgb(187,255,178)"/>
<rect x="892.00" y="1184.30" width="13.70" height="9.85" fill="rgb(161,255,147)"/>
<rect x="892.00" y="1193.35" width="13.70" height="9.85" fill="rgb(137,255,113)"/>
<rect x="892.00" y="1202.40" width="13.70" height="9.85" fill="rgb(112,255,78)"/>
<rect x="892.00" y="1211.45" width="13.70" height="9.85" fill="rgb(88,255,39)"/>
<rect x="892.00" y="1220.50" width="13.70" height="9.85" fill="rgb(70,255,10)"/>
<rect x="892.00" y="1229.55" width="13.70" height="9.85" fill="rgb(70,255,10)"/>
<rect x="892.00" y="1238.60" width="13.70" height="9.85" fill="rgb(70,255,10)"/>
<rect x="892.00" y="1247.65" width="13.70" height="9.85" fill="rgb(70,255,10)"/>
<rect x="892.00" y="1256.70" width="13.70" height="9.85" fill="rgb(70,255,10)"/>
<rect x="892.00" y="1265.75" width="13.70" height="9.85" fill="rgb(70,255,10)"/>
<rect x="892.00" y="1274.80" width="13.70" height="9.85" fill="rgb(70,255,10)"/>
<rect x="892.00" y="1283.85" width="13.70" height="9.85" fill="rgb(70,255,10)"/>
<rect x="892.00" y="1292.90" width="13.70" height="9.85" fill="rgb(70,255,10)"/>
<rect x="892.00" y="1301.95" width="13.70" height="9.85" fill="rgb(70,255,10)"/>
<rect x="892.00" y="1311.00" width="13.70" height="9.85" fill="rgb(70,255,10)"/>
<rect x="892.00" y="1320.05" width="13.70" height="9.85" fill="rgb(70,255,10)"/>
<rect x="892.00" y="1329.10" width="13.70" height="9.85" fill="rgb(70,255,10)"/>
<rect x="892.00" y="1338.15" width="13.70" height="9.85" fill="rgb(70,255,10)"/>
<rect x="892.00" y="1347.20" width="13.70" height="9.85" fill="rgb(70,255,10)"/>
<rect x="892.00" y="1356.25" width="13.70" height="9.85" fill="rgb(70,255,10)"/>
<rect x="892.0" y="912.8" width="13.700000000000045" height="452.5" fill="none" stroke="#111" stroke-width="1.2"/>
<line x1="905.70" y1="912.80" x2="914.70" y2="912.80" stroke="#111" stroke-width="1.3"/>
<text transform="translate(917.20,920.20) scale(0.8500,1)" font-family="'Liberation Sans', Arial, sans-serif" font-size="20.5" fill="#000">1</text>
<line x1="905.70" y1="1025.92" x2="914.70" y2="1025.92" stroke="#111" stroke-width="1.3"/>
<text transform="translate(917.20,1033.33) scale(0.8500,1)" font-family="'Liberation Sans', Arial, sans-serif" font-size="20.5" fill="#000">0.5</text>
<line x1="905.70" y1="1139.05" x2="914.70" y2="1139.05" stroke="#111" stroke-width="1.3"/>
<text transform="translate(917.20,1146.45) scale(0.8500,1)" font-family="'Liberation Sans', Arial, sans-serif" font-size="20.5" fill="#000">0</text>
<line x1="905.70" y1="1252.17" x2="914.70" y2="1252.17" stroke="#111" stroke-width="1.3"/>
<text transform="translate(917.20,1259.58) scale(0.8500,1)" font-family="'Liberation Sans', Arial, sans-serif" font-size="20.5" fill="#000">−0.5</text>
<line x1="905.70" y1="1365.30" x2="914.70" y2="1365.30" stroke="#111" stroke-width="1.3"/>
<text transform="translate(917.20,1372.70) scale(0.8500,1)" font-family="'Liberation Sans', Arial, sans-serif" font-size="20.5" fill="#000">−1</text>
<text transform="translate(239.94,1417.50) scale(0.8600,1) rotate(-45)" font-family="'Liberation Sans', Arial, sans-serif" font-size="20" text-anchor="end" fill="#000">Cortex_Re</text>
<text transform="translate(424.81,1417.50) scale(0.8600,1) rotate(-45)" font-family="'Liberation Sans', Arial, sans-serif" font-size="20" text-anchor="end" fill="#000">Cortex_Co</text>
<text transform="translate(609.69,1417.50) scale(0.8600,1) rotate(-45)" font-family="'Liberation Sans', Arial, sans-serif" font-size="20" text-anchor="end" fill="#000">Cecum_Re</text>
<text transform="translate(794.56,1417.50) scale(0.8600,1) rotate(-45)" font-family="'Liberation Sans', Arial, sans-serif" font-size="20" text-anchor="end" fill="#000">Cecum_Co</text>
<text transform="translate(419.80,1647.00)" font-family="'Liberation Serif', 'Times New Roman', serif" font-size="94" font-weight="bold" fill="#000" textLength="58.50" lengthAdjust="spacingAndGlyphs">C</text>
<text transform="translate(1516.20,787.90)" font-family="'Liberation Serif', 'Times New Roman', serif" font-size="18" font-weight="bold" fill="#000" textLength="186.20" lengthAdjust="spacingAndGlyphs">The top10 go terms</text>
<rect x="1341.50" y="801.00" width="94.70" height="12.40" fill="#256214"/>
<line x1="1337.90" y1="807.20" x2="1341.50" y2="807.20" stroke="#333" stroke-width="0.8"/>
<text transform="translate(1336.90,810.80) scale(1.2330,1)" font-family="'Liberation Serif', 'Times New Roman', serif" font-size="11.5" text-anchor="end" fill="#000" stroke="#000" stroke-width="0.32">Exocytosis</text>
<rect x="1341.50" y="822.17" width="94.90" height="12.40" fill="#256214"/>
<line x1="1337.90" y1="828.37" x2="1341.50" y2="828.37" stroke="#333" stroke-width="0.8"/>
<text transform="translate(1336.90,828.17) scale(1.2330,1)" font-family="'Liberation Serif', 'Times New Roman', serif" font-size="11.5" text-anchor="end" fill="#000" stroke="#000" stroke-width="0.32">Calcium ion−regulated exocytosis of</text>
<text transform="translate(1336.90,839.17) scale(1.2330,1)" font-family="'Liberation Serif', 'Times New Roman', serif" font-size="11.5" text-anchor="end" fill="#000" stroke="#000" stroke-width="0.32">neurotransmitter</text>
<rect x="1341.50" y="843.34" width="95.40" height="12.40" fill="#256214"/>
<line x1="1337.90" y1="849.54" x2="1341.50" y2="849.54" stroke="#333" stroke-width="0.8"/>
<text transform="translate(1336.90,853.14) scale(1.2330,1)" font-family="'Liberation Serif', 'Times New Roman', serif" font-size="11.5" text-anchor="end" fill="#000" stroke="#000" stroke-width="0.32">Vesicle−mediated transport</text>
<rect x="1341.50" y="864.51" width="96.10" height="12.40" fill="#256214"/>
<line x1="1337.90" y1="870.71" x2="1341.50" y2="870.71" stroke="#333" stroke-width="0.8"/>
<text transform="translate(1336.90,874.31) scale(1.2330,1)" font-family="'Liberation Serif', 'Times New Roman', serif" font-size="11.5" text-anchor="end" fill="#000" stroke="#000" stroke-width="0.32">Positive regulation of synapse assembly</text>
<rect x="1341.50" y="885.68" width="100.20" height="12.40" fill="#256214"/>
<line x1="1337.90" y1="891.88" x2="1341.50" y2="891.88" stroke="#333" stroke-width="0.8"/>
<text transform="translate(1336.90,891.68) scale(1.2330,1)" font-family="'Liberation Serif', 'Times New Roman', serif" font-size="11.5" text-anchor="end" fill="#000" stroke="#000" stroke-width="0.32">Heterophilic cell−cell adhesion via</text>
<text transform="translate(1336.90,902.68) scale(1.2330,1)" font-family="'Liberation Serif', 'Times New Roman', serif" font-size="11.5" text-anchor="end" fill="#000" stroke="#000" stroke-width="0.32">plasma membrane cell adhesion molecules</text>
<rect x="1341.50" y="906.85" width="118.00" height="12.40" fill="#256214"/>
<line x1="1337.90" y1="913.05" x2="1341.50" y2="913.05" stroke="#333" stroke-width="0.8"/>
<text transform="translate(1336.90,912.85) scale(1.2330,1)" font-family="'Liberation Serif', 'Times New Roman', serif" font-size="11.5" text-anchor="end" fill="#000" stroke="#000" stroke-width="0.32">Homophilic cell adhesion via plasmame</text>
<text transform="translate(1336.90,927.05) scale(1.2330,1)" font-family="'Liberation Serif', 'Times New Roman', serif" font-size="11.5" text-anchor="end" fill="#000" stroke="#000" stroke-width="0.32">mbrane adhesion molecules</text>
<rect x="1341.50" y="928.02" width="118.50" height="12.40" fill="#256214"/>
<line x1="1337.90" y1="934.22" x2="1341.50" y2="934.22" stroke="#333" stroke-width="0.8"/>
<text transform="translate(1336.90,937.82) scale(1.2330,1)" font-family="'Liberation Serif', 'Times New Roman', serif" font-size="11.5" text-anchor="end" fill="#000" stroke="#000" stroke-width="0.32">Signal transduction</text>
<rect x="1341.50" y="949.19" width="123.00" height="12.40" fill="#256214"/>
<line x1="1337.90" y1="955.39" x2="1341.50" y2="955.39" stroke="#333" stroke-width="0.8"/>
<text transform="translate(1336.90,958.99) scale(1.2330,1)" font-family="'Liberation Serif', 'Times New Roman', serif" font-size="11.5" text-anchor="end" fill="#000" stroke="#000" stroke-width="0.32">Chemical synaptic transmission</text>
<rect x="1341.50" y="970.36" width="129.20" height="12.40" fill="#256214"/>
<line x1="1337.90" y1="976.56" x2="1341.50" y2="976.56" stroke="#333" stroke-width="0.8"/>
<text transform="translate(1334.30,980.16) scale(1.2330,1)" font-family="'Liberation Serif', 'Times New Roman', serif" font-size="11.5" text-anchor="end" fill="#000" stroke="#000" stroke-width="0.32">Nervous system development</text>
<rect x="1341.50" y="991.53" width="154.90" height="12.40" fill="#256214"/>
<line x1="1337.90" y1="997.73" x2="1341.50" y2="997.73" stroke="#333" stroke-width="0.8"/>
<text transform="translate(1336.90,1001.33) scale(1.2330,1)" font-family="'Liberation Serif', 'Times New Roman', serif" font-size="11.5" text-anchor="end" fill="#000" stroke="#000" stroke-width="0.32">Regulation of synaptic vesicle exocytosis</text>
<rect x="1341.5" y="794.6" width="518.0999999999999" height="215.19999999999993" fill="none" stroke="#555" stroke-width="1.3"/>
<rect x="1860.80" y="794.60" width="20.00" height="215.20" fill="#256214"/>
<text transform="translate(1863.60,846.20) scale(1.2400,1) rotate(90)" font-family="'Liberation Serif', 'Times New Roman', serif" font-size="16" fill="#000" textLength="105.90" lengthAdjust="spacingAndGlyphs">Biological process</text>
<rect x="1341.50" y="1020.70" width="192.30" height="12.40" fill="#FF1F10"/>
<line x1="1337.90" y1="1026.90" x2="1341.50" y2="1026.90" stroke="#333" stroke-width="0.8"/>
<text transform="translate(1336.90,1026.70) scale(1.2330,1)" font-family="'Liberation Serif', 'Times New Roman', serif" font-size="11.5" text-anchor="end" fill="#000" stroke="#000" stroke-width="0.32">Voltage−gated potassium channel</text>
<text transform="translate(1336.90,1037.70) scale(1.2330,1)" font-family="'Liberation Serif', 'Times New Roman', serif" font-size="11.5" text-anchor="end" fill="#000" stroke="#000" stroke-width="0.32">complex</text>
<rect x="1341.50" y="1041.87" width="196.10" height="12.40" fill="#FF1F10"/>
<line x1="1337.90" y1="1048.07" x2="1341.50" y2="1048.07" stroke="#333" stroke-width="0.8"/>
<text transform="translate(1336.90,1051.67) scale(1.2330,1)" font-family="'Liberation Serif', 'Times New Roman', serif" font-size="11.5" text-anchor="end" fill="#000" stroke="#000" stroke-width="0.32">Dendritic spine</text>
<rect x="1341.50" y="1063.04" width="198.50" height="12.40" fill="#FF1F10"/>
<line x1="1337.90" y1="1069.24" x2="1341.50" y2="1069.24" stroke="#333" stroke-width="0.8"/>
<text transform="translate(1336.90,1072.84) scale(1.2330,1)" font-family="'Liberation Serif', 'Times New Roman', serif" font-size="11.5" text-anchor="end" fill="#000" stroke="#000" stroke-width="0.32">Neuron projection</text>
<rect x="1341.50" y="1084.21" width="220.90" height="12.40" fill="#FF1F10"/>
<line x1="1337.90" y1="1090.41" x2="1341.50" y2="1090.41" stroke="#333" stroke-width="0.8"/>
<text transform="translate(1336.90,1094.01) scale(1.2330,1)" font-family="'Liberation Serif', 'Times New Roman', serif" font-size="11.5" text-anchor="end" fill="#000" stroke="#000" stroke-width="0.32">Postsynaptic membrane</text>
<rect x="1341.50" y="1105.38" width="254.20" height="12.40" fill="#FF1F10"/>
<line x1="1337.90" y1="1111.58" x2="1341.50" y2="1111.58" stroke="#333" stroke-width="0.8"/>
<text transform="translate(1336.90,1115.18) scale(1.2330,1)" font-family="'Liberation Serif', 'Times New Roman', serif" font-size="11.5" text-anchor="end" fill="#000" stroke="#000" stroke-width="0.32">Postsynaptic density</text>
<rect x="1341.50" y="1126.55" width="270.90" height="12.40" fill="#FF1F10"/>
<line x1="1337.90" y1="1132.75" x2="1341.50" y2="1132.75" stroke="#333" stroke-width="0.8"/>
<text transform="translate(1336.90,1136.35) scale(1.2330,1)" font-family="'Liberation Serif', 'Times New Roman', serif" font-size="11.5" text-anchor="end" fill="#000" stroke="#000" stroke-width="0.32">Dendrite</text>
<rect x="1341.50" y="1147.72" width="290.40" height="12.40" fill="#FF1F10"/>
<line x1="1337.90" y1="1153.92" x2="1341.50" y2="1153.92" stroke="#333" stroke-width="0.8"/>
<text transform="translate(1336.90,1157.52) scale(1.2330,1)" font-family="'Liberation Serif', 'Times New Roman', serif" font-size="11.5" text-anchor="end" fill="#000" stroke="#000" stroke-width="0.32">Axon</text>
<rect x="1341.50" y="1168.89" width="373.70" height="12.40" fill="#FF1F10"/>
<line x1="1337.90" y1="1175.09" x2="1341.50" y2="1175.09" stroke="#333" stroke-width="0.8"/>
<text transform="translate(1336.90,1178.69) scale(1.2330,1)" font-family="'Liberation Serif', 'Times New Roman', serif" font-size="11.5" text-anchor="end" fill="#000" stroke="#000" stroke-width="0.32">Neuronal cell body</text>
<rect x="1341.50" y="1190.06" width="379.00" height="12.40" fill="#FF1F10"/>
<line x1="1337.90" y1="1196.26" x2="1341.50" y2="1196.26" stroke="#333" stroke-width="0.8"/>
<text transform="translate(1336.90,1199.86) scale(1.2330,1)" font-family="'Liberation Serif', 'Times New Roman', serif" font-size="11.5" text-anchor="end" fill="#000" stroke="#000" stroke-width="0.32">Cell junction</text>
<rect x="1341.50" y="1211.23" width="471.80" height="12.40" fill="#FF1F10"/>
<line x1="1337.90" y1="1217.43" x2="1341.50" y2="1217.43" stroke="#333" stroke-width="0.8"/>
<text transform="translate(1336.90,1221.03) scale(1.2330,1)" font-family="'Liberation Serif', 'Times New Roman', serif" font-size="11.5" text-anchor="end" fill="#000" stroke="#000" stroke-width="0.32">Glutamatergic synapse</text>
<rect x="1341.5" y="1014.5" width="518.0999999999999" height="214.79999999999995" fill="none" stroke="#555" stroke-width="1.3"/>
<rect x="1860.80" y="1014.50" width="20.00" height="214.80" fill="#FF1F10"/>
<text transform="translate(1863.60,1072.80) scale(1.2400,1) rotate(90)" font-family="'Liberation Serif', 'Times New Roman', serif" font-size="16" fill="#000" textLength="112.00" lengthAdjust="spacingAndGlyphs">Cellular component</text>
<rect x="1341.50" y="1240.50" width="66.10" height="12.40" fill="#2E2BFF"/>
<line x1="1337.90" y1="1246.70" x2="1341.50" y2="1246.70" stroke="#333" stroke-width="0.8"/>
<text transform="translate(1336.90,1250.30) scale(1.2330,1)" font-family="'Liberation Serif', 'Times New Roman', serif" font-size="11.5" text-anchor="end" fill="#000" stroke="#000" stroke-width="0.32">SNAP receptor activity</text>
<rect x="1341.50" y="1261.67" width="69.00" height="12.40" fill="#2E2BFF"/>
<line x1="1337.90" y1="1267.87" x2="1341.50" y2="1267.87" stroke="#333" stroke-width="0.8"/>
<text transform="translate(1336.90,1267.67) scale(1.2330,1)" font-family="'Liberation Serif', 'Times New Roman', serif" font-size="11.5" text-anchor="end" fill="#000" stroke="#000" stroke-width="0.32">Mitogen−activated protein kinase</text>
<text transform="translate(1336.90,1278.67) scale(1.2330,1)" font-family="'Liberation Serif', 'Times New Roman', serif" font-size="11.5" text-anchor="end" fill="#000" stroke="#000" stroke-width="0.32">kinase binding</text>
<rect x="1341.50" y="1282.84" width="70.40" height="12.40" fill="#2E2BFF"/>
<line x1="1337.90" y1="1289.04" x2="1341.50" y2="1289.04" stroke="#333" stroke-width="0.8"/>
<text transform="translate(1336.90,1292.64) scale(1.2330,1)" font-family="'Liberation Serif', 'Times New Roman', serif" font-size="11.5" text-anchor="end" fill="#000" stroke="#000" stroke-width="0.32">GTP binding</text>
<rect x="1341.50" y="1304.01" width="71.80" height="12.40" fill="#2E2BFF"/>
<line x1="1337.90" y1="1310.21" x2="1341.50" y2="1310.21" stroke="#333" stroke-width="0.8"/>
<text transform="translate(1336.90,1313.81) scale(1.2330,1)" font-family="'Liberation Serif', 'Times New Roman', serif" font-size="11.5" text-anchor="end" fill="#000" stroke="#000" stroke-width="0.32">Protein homodimerization activity</text>
<rect x="1341.50" y="1325.18" width="78.00" height="12.40" fill="#2E2BFF"/>
<line x1="1337.90" y1="1331.38" x2="1341.50" y2="1331.38" stroke="#333" stroke-width="0.8"/>
<text transform="translate(1336.90,1334.98) scale(1.2330,1)" font-family="'Liberation Serif', 'Times New Roman', serif" font-size="11.5" text-anchor="end" fill="#000" stroke="#000" stroke-width="0.32">Protein heterodimerization activity</text>
<rect x="1341.50" y="1346.35" width="79.90" height="12.40" fill="#2E2BFF"/>
<line x1="1337.90" y1="1352.55" x2="1341.50" y2="1352.55" stroke="#333" stroke-width="0.8"/>
<text transform="translate(1336.90,1352.35) scale(1.2330,1)" font-family="'Liberation Serif', 'Times New Roman', serif" font-size="11.5" text-anchor="end" fill="#000" stroke="#000" stroke-width="0.32">Voltage−gated potassium channel</text>
<text transform="translate(1336.90,1363.35) scale(1.2330,1)" font-family="'Liberation Serif', 'Times New Roman', serif" font-size="11.5" text-anchor="end" fill="#000" stroke="#000" stroke-width="0.32">activity</text>
<rect x="1341.50" y="1367.52" width="82.30" height="12.40" fill="#2E2BFF"/>
<line x1="1337.90" y1="1373.72" x2="1341.50" y2="1373.72" stroke="#333" stroke-width="0.8"/>
<text transform="translate(1336.90,1377.32) scale(1.2330,1)" font-family="'Liberation Serif', 'Times New Roman', serif" font-size="11.5" text-anchor="end" fill="#000" stroke="#000" stroke-width="0.32">Syntaxin−1 binding</text>
<rect x="1341.50" y="1388.69" width="91.80" height="12.40" fill="#2E2BFF"/>
<line x1="1337.90" y1="1394.89" x2="1341.50" y2="1394.89" stroke="#333" stroke-width="0.8"/>
<text transform="translate(1336.90,1398.49) scale(1.2330,1)" font-family="'Liberation Serif', 'Times New Roman', serif" font-size="11.5" text-anchor="end" fill="#000" stroke="#000" stroke-width="0.32">Ubiquitin−protein transferase activity</text>
<rect x="1341.50" y="1409.86" width="95.20" height="12.40" fill="#2E2BFF"/>
<line x1="1337.90" y1="1416.06" x2="1341.50" y2="1416.06" stroke="#333" stroke-width="0.8"/>
<text transform="translate(1336.90,1419.66) scale(1.2330,1)" font-family="'Liberation Serif', 'Times New Roman', serif" font-size="11.5" text-anchor="end" fill="#000" stroke="#000" stroke-width="0.32">SNARE binding</text>
<rect x="1341.50" y="1431.03" width="109.80" height="12.40" fill="#2E2BFF"/>
<line x1="1337.90" y1="1437.23" x2="1341.50" y2="1437.23" stroke="#333" stroke-width="0.8"/>
<text transform="translate(1336.90,1440.83) scale(1.2330,1)" font-family="'Liberation Serif', 'Times New Roman', serif" font-size="11.5" text-anchor="end" fill="#000" stroke="#000" stroke-width="0.32">Ion channel binding</text>
<rect x="1341.5" y="1233.8" width="518.0999999999999" height="215.4000000000001" fill="none" stroke="#555" stroke-width="1.3"/>
<rect x="1860.80" y="1233.80" width="20.00" height="215.40" fill="#2E2BFF"/>
<text transform="translate(1863.60,1292.40) scale(1.2400,1) rotate(90)" font-family="'Liberation Serif', 'Times New Roman', serif" font-size="16" fill="#000" textLength="108.10" lengthAdjust="spacingAndGlyphs">Molecular function</text>
<line x1="1341.40" y1="1449.20" x2="1341.40" y2="1452.50" stroke="#333" stroke-width="1"/>
<text transform="translate(1341.40,1464.90) scale(1.3100,1)" font-family="'Liberation Serif', 'Times New Roman', serif" font-size="12.7" font-weight="bold" text-anchor="middle" fill="#000">0</text>
<line x1="1500.00" y1="1449.20" x2="1500.00" y2="1452.50" stroke="#333" stroke-width="1"/>
<text transform="translate(1500.00,1464.90) scale(1.3100,1)" font-family="'Liberation Serif', 'Times New Roman', serif" font-size="12.7" font-weight="bold" text-anchor="middle" fill="#000">10</text>
<line x1="1658.00" y1="1449.20" x2="1658.00" y2="1452.50" stroke="#333" stroke-width="1"/>
<text transform="translate(1658.00,1464.90) scale(1.3100,1)" font-family="'Liberation Serif', 'Times New Roman', serif" font-size="12.7" font-weight="bold" text-anchor="middle" fill="#000">20</text>
<line x1="1820.30" y1="1449.20" x2="1820.30" y2="1452.50" stroke="#333" stroke-width="1"/>
<text transform="translate(1820.30,1464.90) scale(1.3100,1)" font-family="'Liberation Serif', 'Times New Roman', serif" font-size="12.7" font-weight="bold" text-anchor="middle" fill="#000">30</text>
<text transform="translate(1559,1487.6) scale(1.332,1)" font-family="'Liberation Serif', 'Times New Roman', serif" font-size="15" font-weight="bold">−log<tspan font-size="10" dy="2.5">10</tspan><tspan dy="-2.5"> P−value</tspan></text>
<text transform="translate(1422.00,1647.00)" font-family="'Liberation Serif', 'Times New Roman', serif" font-size="94" font-weight="bold" fill="#000" textLength="62.40" lengthAdjust="spacingAndGlyphs">D</text>
<text transform="translate(403.00,1697.00)" font-family="'Liberation Serif', 'Times New Roman', serif" font-size="18" font-weight="bold" fill="#000" textLength="369.00" lengthAdjust="spacingAndGlyphs">Top 20  of KEGG pathways Enrichment</text>
<line x1="441.36" y1="1705.70" x2="441.36" y2="2324.80" stroke="#E6E6E6" stroke-width="1.2"/>
<line x1="477.72" y1="1705.70" x2="477.72" y2="2324.80" stroke="#C4C4C4" stroke-width="1.2"/>
<line x1="514.08" y1="1705.70" x2="514.08" y2="2324.80" stroke="#E6E6E6" stroke-width="1.2"/>
<line x1="550.44" y1="1705.70" x2="550.44" y2="2324.80" stroke="#C4C4C4" stroke-width="1.2"/>
<line x1="586.80" y1="1705.70" x2="586.80" y2="2324.80" stroke="#E6E6E6" stroke-width="1.2"/>
<line x1="623.16" y1="1705.70" x2="623.16" y2="2324.80" stroke="#C4C4C4" stroke-width="1.2"/>
<line x1="659.52" y1="1705.70" x2="659.52" y2="2324.80" stroke="#E6E6E6" stroke-width="1.2"/>
<line x1="695.88" y1="1705.70" x2="695.88" y2="2324.80" stroke="#C4C4C4" stroke-width="1.2"/>
<line x1="732.24" y1="1705.70" x2="732.24" y2="2324.80" stroke="#E6E6E6" stroke-width="1.2"/>
<line x1="405.00" y1="1733.75" x2="768.60" y2="1733.75" stroke="#D6D6D6" stroke-width="1.2"/>
<line x1="400.50" y1="1733.75" x2="405.00" y2="1733.75" stroke="#000" stroke-width="1.3"/>
<line x1="405.00" y1="1763.39" x2="768.60" y2="1763.39" stroke="#D6D6D6" stroke-width="1.2"/>
<line x1="400.50" y1="1763.39" x2="405.00" y2="1763.39" stroke="#000" stroke-width="1.3"/>
<line x1="405.00" y1="1793.04" x2="768.60" y2="1793.04" stroke="#D6D6D6" stroke-width="1.2"/>
<line x1="400.50" y1="1793.04" x2="405.00" y2="1793.04" stroke="#000" stroke-width="1.3"/>
<line x1="405.00" y1="1822.68" x2="768.60" y2="1822.68" stroke="#D6D6D6" stroke-width="1.2"/>
<line x1="400.50" y1="1822.68" x2="405.00" y2="1822.68" stroke="#000" stroke-width="1.3"/>
<line x1="405.00" y1="1852.33" x2="768.60" y2="1852.33" stroke="#D6D6D6" stroke-width="1.2"/>
<line x1="400.50" y1="1852.33" x2="405.00" y2="1852.33" stroke="#000" stroke-width="1.3"/>
<line x1="405.00" y1="1881.97" x2="768.60" y2="1881.97" stroke="#D6D6D6" stroke-width="1.2"/>
<line x1="400.50" y1="1881.97" x2="405.00" y2="1881.97" stroke="#000" stroke-width="1.3"/>
<line x1="405.00" y1="1911.62" x2="768.60" y2="1911.62" stroke="#D6D6D6" stroke-width="1.2"/>
<line x1="400.50" y1="1911.62" x2="405.00" y2="1911.62" stroke="#000" stroke-width="1.3"/>
<line x1="405.00" y1="1941.26" x2="768.60" y2="1941.26" stroke="#D6D6D6" stroke-width="1.2"/>
<line x1="400.50" y1="1941.26" x2="405.00" y2="1941.26" stroke="#000" stroke-width="1.3"/>
<line x1="405.00" y1="1970.91" x2="768.60" y2="1970.91" stroke="#D6D6D6" stroke-width="1.2"/>
<line x1="400.50" y1="1970.91" x2="405.00" y2="1970.91" stroke="#000" stroke-width="1.3"/>
<line x1="405.00" y1="2000.56" x2="768.60" y2="2000.56" stroke="#D6D6D6" stroke-width="1.2"/>
<line x1="400.50" y1="2000.56" x2="405.00" y2="2000.56" stroke="#000" stroke-width="1.3"/>
<line x1="405.00" y1="2030.20" x2="768.60" y2="2030.20" stroke="#D6D6D6" stroke-width="1.2"/>
<line x1="400.50" y1="2030.20" x2="405.00" y2="2030.20" stroke="#000" stroke-width="1.3"/>
<line x1="405.00" y1="2059.84" x2="768.60" y2="2059.84" stroke="#D6D6D6" stroke-width="1.2"/>
<line x1="400.50" y1="2059.84" x2="405.00" y2="2059.84" stroke="#000" stroke-width="1.3"/>
<line x1="405.00" y1="2089.49" x2="768.60" y2="2089.49" stroke="#D6D6D6" stroke-width="1.2"/>
<line x1="400.50" y1="2089.49" x2="405.00" y2="2089.49" stroke="#000" stroke-width="1.3"/>
<line x1="405.00" y1="2119.14" x2="768.60" y2="2119.14" stroke="#D6D6D6" stroke-width="1.2"/>
<line x1="400.50" y1="2119.14" x2="405.00" y2="2119.14" stroke="#000" stroke-width="1.3"/>
<line x1="405.00" y1="2148.78" x2="768.60" y2="2148.78" stroke="#D6D6D6" stroke-width="1.2"/>
<line x1="400.50" y1="2148.78" x2="405.00" y2="2148.78" stroke="#000" stroke-width="1.3"/>
<line x1="405.00" y1="2178.43" x2="768.60" y2="2178.43" stroke="#D6D6D6" stroke-width="1.2"/>
<line x1="400.50" y1="2178.43" x2="405.00" y2="2178.43" stroke="#000" stroke-width="1.3"/>
<line x1="405.00" y1="2208.07" x2="768.60" y2="2208.07" stroke="#D6D6D6" stroke-width="1.2"/>
<line x1="400.50" y1="2208.07" x2="405.00" y2="2208.07" stroke="#000" stroke-width="1.3"/>
<line x1="405.00" y1="2237.72" x2="768.60" y2="2237.72" stroke="#D6D6D6" stroke-width="1.2"/>
<line x1="400.50" y1="2237.72" x2="405.00" y2="2237.72" stroke="#000" stroke-width="1.3"/>
<line x1="405.00" y1="2267.36" x2="768.60" y2="2267.36" stroke="#D6D6D6" stroke-width="1.2"/>
<line x1="400.50" y1="2267.36" x2="405.00" y2="2267.36" stroke="#000" stroke-width="1.3"/>
<line x1="405.00" y1="2297.01" x2="768.60" y2="2297.01" stroke="#D6D6D6" stroke-width="1.2"/>
<line x1="400.50" y1="2297.01" x2="405.00" y2="2297.01" stroke="#000" stroke-width="1.3"/>
<ellipse cx="570.44" cy="1733.75" rx="7.5" ry="6.0" fill="#FF1F10"/>
<text transform="translate(394.00,1740.25) scale(1.2000,1)" font-family="'Liberation Serif', 'Times New Roman', serif" font-size="18" text-anchor="end" fill="#000">Axon guidance</text>
<ellipse cx="643.16" cy="1763.39" rx="6.2" ry="5.0" fill="#FF1F10"/>
<text transform="translate(394.00,1769.89) scale(1.2000,1)" font-family="'Liberation Serif', 'Times New Roman', serif" font-size="18" text-anchor="end" fill="#000">Synaptic vesicle cycle</text>
<ellipse cx="604.98" cy="1793.04" rx="6.2" ry="5.0" fill="#FF1F10"/>
<text transform="translate(394.00,1799.54) scale(1.2000,1)" font-family="'Liberation Serif', 'Times New Roman', serif" font-size="18" text-anchor="end" fill="#000">GABAergic synapse</text>
<ellipse cx="641.34" cy="1822.68" rx="6.0" ry="4.8" fill="#FF1F10"/>
<text transform="translate(394.00,1829.18) scale(1.2000,1)" font-family="'Liberation Serif', 'Times New Roman', serif" font-size="18" text-anchor="end" fill="#000">Long‐term potentiation</text>
<ellipse cx="581.35" cy="1852.33" rx="6.5" ry="5.0" fill="#FF1F10"/>
<text transform="translate(394.00,1858.83) scale(1.2000,1)" font-family="'Liberation Serif', 'Times New Roman', serif" font-size="18" text-anchor="end" fill="#000">Glutamatergic synapse</text>
<ellipse cx="597.71" cy="1881.97" rx="6.2" ry="5.0" fill="#FF1F10"/>
<text transform="translate(394.00,1888.47) scale(1.2000,1)" font-family="'Liberation Serif', 'Times New Roman', serif" font-size="18" text-anchor="end" fill="#000">Circadian entrainment</text>
<ellipse cx="601.34" cy="1911.62" rx="6.2" ry="5.0" fill="#FF1F10"/>
<text transform="translate(394.00,1918.12) scale(1.2000,1)" font-family="'Liberation Serif', 'Times New Roman', serif" font-size="18" text-anchor="end" fill="#000">Insulin secretion</text>
<ellipse cx="543.17" cy="1941.26" rx="7.0" ry="5.5" fill="#FF1F10"/>
<text transform="translate(394.00,1947.76) scale(1.2000,1)" font-family="'Liberation Serif', 'Times New Roman', serif" font-size="18" text-anchor="end" fill="#000">Spinocerebellar ataxia</text>
<ellipse cx="532.26" cy="1970.91" rx="7.2" ry="5.8" fill="#FF1F10"/>
<text transform="translate(394.00,1977.41) scale(1.2000,1)" font-family="'Liberation Serif', 'Times New Roman', serif" font-size="18" text-anchor="end" fill="#000">Alcoholism</text>
<ellipse cx="554.08" cy="2000.56" rx="6.5" ry="5.0" fill="#FF1F10"/>
<text transform="translate(394.00,2007.06) scale(1.2000,1)" font-family="'Liberation Serif', 'Times New Roman', serif" font-size="18" text-anchor="end" fill="#000">Dopaminergic synapse</text>
<ellipse cx="564.98" cy="2030.20" rx="6.5" ry="5.0" fill="#FF1F10"/>
<text transform="translate(394.00,2036.70) scale(1.2000,1)" font-family="'Liberation Serif', 'Times New Roman', serif" font-size="18" text-anchor="end" fill="#000">Cholinergic synapse</text>
<ellipse cx="537.71" cy="2059.84" rx="7.0" ry="5.5" fill="#FF1F10"/>
<text transform="translate(394.00,2066.34) scale(1.2000,1)" font-family="'Liberation Serif', 'Times New Roman', serif" font-size="18" text-anchor="end" fill="#000">Adrenergic signaling in cardiomyocytes</text>
<ellipse cx="472.27" cy="2089.49" rx="9.0" ry="7.0" fill="#FF1F10"/>
<text transform="translate(394.00,2087.49) scale(1.2000,1)" font-family="'Liberation Serif', 'Times New Roman', serif" font-size="18" text-anchor="end" fill="#000">Pathways of neurodegeneration - multiple</text>
<text transform="translate(394.00,2104.69) scale(1.2000,1)" font-family="'Liberation Serif', 'Times New Roman', serif" font-size="18" text-anchor="end" fill="#000">diseases</text>
<ellipse cx="483.17" cy="2119.14" rx="8.5" ry="6.3" fill="#FF1F10"/>
<text transform="translate(394.00,2125.64) scale(1.2000,1)" font-family="'Liberation Serif', 'Times New Roman', serif" font-size="18" text-anchor="end" fill="#000">Herpes simplex virus 1 infection</text>
<ellipse cx="494.08" cy="2148.78" rx="7.8" ry="6.0" fill="#FF1F10"/>
<text transform="translate(394.00,2155.28) scale(1.2000,1)" font-family="'Liberation Serif', 'Times New Roman', serif" font-size="18" text-anchor="end" fill="#000">MAPK signaling pathway</text>
<ellipse cx="501.35" cy="2178.43" rx="7.2" ry="5.8" fill="#44EE11"/>
<text transform="translate(394.00,2184.93) scale(1.2000,1)" font-family="'Liberation Serif', 'Times New Roman', serif" font-size="18" text-anchor="end" fill="#000">cAMP signaling pathway</text>
<ellipse cx="597.71" cy="2208.07" rx="5.8" ry="4.5" fill="#44EE11"/>
<text transform="translate(394.00,2214.57) scale(1.2000,1)" font-family="'Liberation Serif', 'Times New Roman', serif" font-size="18" text-anchor="end" fill="#000">Amphetamine addiction</text>
<ellipse cx="557.71" cy="2237.72" rx="6.0" ry="4.8" fill="#1A10F0"/>
<text transform="translate(394.00,2244.22) scale(1.2000,1)" font-family="'Liberation Serif', 'Times New Roman', serif" font-size="18" text-anchor="end" fill="#000">Gap junction</text>
<ellipse cx="557.71" cy="2267.36" rx="6.0" ry="4.8" fill="#1A10F0"/>
<text transform="translate(394.00,2273.86) scale(1.2000,1)" font-family="'Liberation Serif', 'Times New Roman', serif" font-size="18" text-anchor="end" fill="#000">Morphine addiction</text>
<ellipse cx="550.44" cy="2297.01" rx="6.0" ry="4.8" fill="#FF1F10"/>
<text transform="translate(394.00,2303.51) scale(1.2000,1)" font-family="'Liberation Serif', 'Times New Roman', serif" font-size="18" text-anchor="end" fill="#000">Aldosterone synthesis and secretion</text>
<rect x="405.0" y="1705.7" width="363.6" height="619.1000000000001" fill="none" stroke="#000" stroke-width="2.2"/>
<line x1="405.00" y1="2324.80" x2="405.00" y2="2329.00" stroke="#000" stroke-width="1.5"/>
<text transform="translate(405.00,2347.50) scale(1.2200,1)" font-family="'Liberation Serif', 'Times New Roman', serif" font-size="18.5" text-anchor="middle" fill="#000">1.0</text>
<line x1="477.72" y1="2324.80" x2="477.72" y2="2329.00" stroke="#000" stroke-width="1.5"/>
<text transform="translate(477.72,2347.50) scale(1.2200,1)" font-family="'Liberation Serif', 'Times New Roman', serif" font-size="18.5" text-anchor="middle" fill="#000">1.4</text>
<line x1="550.44" y1="2324.80" x2="550.44" y2="2329.00" stroke="#000" stroke-width="1.5"/>
<text transform="translate(550.44,2347.50) scale(1.2200,1)" font-family="'Liberation Serif', 'Times New Roman', serif" font-size="18.5" text-anchor="middle" fill="#000">1.8</text>
<line x1="623.16" y1="2324.80" x2="623.16" y2="2329.00" stroke="#000" stroke-width="1.5"/>
<text transform="translate(623.16,2347.50) scale(1.2200,1)" font-family="'Liberation Serif', 'Times New Roman', serif" font-size="18.5" text-anchor="middle" fill="#000">2.2</text>
<line x1="695.88" y1="2324.80" x2="695.88" y2="2329.00" stroke="#000" stroke-width="1.5"/>
<text transform="translate(695.88,2347.50) scale(1.2200,1)" font-family="'Liberation Serif', 'Times New Roman', serif" font-size="18.5" text-anchor="middle" fill="#000">2.6</text>
<line x1="768.60" y1="2324.80" x2="768.60" y2="2329.00" stroke="#000" stroke-width="1.5"/>
<text transform="translate(768.60,2347.50) scale(1.2200,1)" font-family="'Liberation Serif', 'Times New Roman', serif" font-size="18.5" text-anchor="middle" fill="#000">3.0</text>
<text transform="translate(522.50,2367.00)" font-family="'Liberation Serif', 'Times New Roman', serif" font-size="14" font-weight="bold" fill="#000" textLength="128.70" lengthAdjust="spacingAndGlyphs">Enrichment Score</text>
<text transform="translate(786.70,1833.60)" font-family="'Liberation Serif', 'Times New Roman', serif" font-size="13.4" font-weight="bold" fill="#000" textLength="97.00" lengthAdjust="spacingAndGlyphs">GeneNumber</text>
<ellipse cx="809.3" cy="1868" rx="5.7" ry="4.5" fill="#000"/>
<text transform="translate(832.50,1870.60) scale(1.2000,1)" font-family="'Liberation Serif', 'Times New Roman', serif" font-size="10.5" font-weight="bold" fill="#000">35</text>
<ellipse cx="809.3" cy="1933.5" rx="6.7" ry="4.9" fill="#000"/>
<text transform="translate(832.50,1935.90) scale(1.2000,1)" font-family="'Liberation Serif', 'Times New Roman', serif" font-size="10.5" font-weight="bold" fill="#000">65</text>
<ellipse cx="809.3" cy="1999.2" rx="9.0" ry="6.9" fill="#000"/>
<text transform="translate(832.50,2001.80) scale(1.2000,1)" font-family="'Liberation Serif', 'Times New Roman', serif" font-size="10.5" font-weight="bold" fill="#000">197</text>
<text transform="translate(786.70,2050.00)" font-family="'Liberation Serif', 'Times New Roman', serif" font-size="13.4" font-weight="bold" fill="#000" textLength="53.70" lengthAdjust="spacingAndGlyphs">p-value</text>
<rect x="786.70" y="2058.20" width="37.40" height="6.10" fill="#FF2010"/>
<rect x="786.70" y="2064.10" width="37.40" height="6.70" fill="#FF33FF"/>
<rect x="786.70" y="2070.60" width="37.40" height="56.70" fill="#1A00FF"/>
<rect x="786.70" y="2127.10" width="37.40" height="6.30" fill="#80FFFF"/>
<rect x="786.70" y="2133.20" width="37.40" height="59.60" fill="#44FF0A"/>
<rect x="786.70" y="2192.60" width="37.40" height="4.70" fill="#F0FF40"/>
<rect x="786.70" y="2197.10" width="37.40" height="35.10" fill="#FF2010"/>
<text transform="translate(829.00,2120.80)" font-family="'Liberation Serif', 'Times New Roman', serif" font-size="17.5" fill="#000" textLength="53.10" lengthAdjust="spacingAndGlyphs">2e-06</text>
<text transform="translate(829.00,2179.80)" font-family="'Liberation Serif', 'Times New Roman', serif" font-size="17.5" fill="#000" textLength="53.10" lengthAdjust="spacingAndGlyphs">1e-06</text>
<text transform="translate(415.10,2483.90)" font-family="'Liberation Serif', 'Times New Roman', serif" font-size="94" font-weight="bold" fill="#000" textLength="56.20" lengthAdjust="spacingAndGlyphs">E</text>
<rect x="1125.40" y="1775.60" width="30.85" height="28.13" fill="#4C9BFF"/>
<rect x="1156.25" y="1775.60" width="30.85" height="28.13" fill="#4EEE58"/>
<rect x="1187.10" y="1775.60" width="30.85" height="28.13" fill="#4CFF4C"/>
<rect x="1217.95" y="1775.60" width="30.85" height="28.13" fill="#66FF99"/>
<rect x="1248.80" y="1775.60" width="30.85" height="28.13" fill="#4CEE60"/>
<rect x="1279.65" y="1775.60" width="30.85" height="28.13" fill="#4CFF4C"/>
<rect x="1310.50" y="1775.60" width="30.85" height="28.13" fill="#F0F060"/>
<rect x="1341.35" y="1775.60" width="30.85" height="28.13" fill="#F0F53C"/>
<rect x="1372.20" y="1775.60" width="30.85" height="28.13" fill="#F0F53C"/>
<rect x="1403.05" y="1775.60" width="30.85" height="28.13" fill="#FF2010"/>
<rect x="1433.90" y="1775.60" width="30.85" height="28.13" fill="#EE8822"/>
<rect x="1464.75" y="1775.60" width="30.85" height="28.13" fill="#F85518"/>
<rect x="1495.60" y="1775.60" width="30.85" height="28.13" fill="#F0F53C"/>
<rect x="1526.45" y="1775.60" width="30.85" height="28.13" fill="#F0F53C"/>
<rect x="1557.30" y="1775.60" width="30.85" height="28.13" fill="#EBA030"/>
<rect x="1588.15" y="1775.60" width="30.85" height="28.13" fill="#EBA030"/>
<rect x="1619.00" y="1775.60" width="30.85" height="28.13" fill="#FF2010"/>
<rect x="1649.85" y="1775.60" width="30.85" height="28.13" fill="#FF2010"/>
<rect x="1680.70" y="1775.60" width="30.85" height="28.13" fill="#FF2010"/>
<rect x="1711.55" y="1775.60" width="30.85" height="28.13" fill="#EBA030"/>
<rect x="1125.40" y="1803.73" width="30.85" height="28.13" fill="#50A0F0"/>
<rect x="1156.25" y="1803.73" width="30.85" height="28.13" fill="#66FFAA"/>
<rect x="1187.10" y="1803.73" width="30.85" height="28.13" fill="#55FF70"/>
<rect x="1217.95" y="1803.73" width="30.85" height="28.13" fill="#44FF33"/>
<rect x="1248.80" y="1803.73" width="30.85" height="28.13" fill="#55FF77"/>
<rect x="1279.65" y="1803.73" width="30.85" height="28.13" fill="#55FF77"/>
<rect x="1310.50" y="1803.73" width="30.85" height="28.13" fill="#F4FFC0"/>
<rect x="1341.35" y="1803.73" width="30.85" height="28.13" fill="#F0F53C"/>
<rect x="1372.20" y="1803.73" width="30.85" height="28.13" fill="#F0F53C"/>
<rect x="1403.05" y="1803.73" width="30.85" height="28.13" fill="#EBAA30"/>
<rect x="1433.90" y="1803.73" width="30.85" height="28.13" fill="#F0F53C"/>
<rect x="1464.75" y="1803.73" width="30.85" height="28.13" fill="#EBBB33"/>
<rect x="1495.60" y="1803.73" width="30.85" height="28.13" fill="#F0F53C"/>
<rect x="1526.45" y="1803.73" width="30.85" height="28.13" fill="#F0F53C"/>
<rect x="1557.30" y="1803.73" width="30.85" height="28.13" fill="#EEE040"/>
<rect x="1588.15" y="1803.73" width="30.85" height="28.13" fill="#EBC835"/>
<rect x="1619.00" y="1803.73" width="30.85" height="28.13" fill="#F84818"/>
<rect x="1649.85" y="1803.73" width="30.85" height="28.13" fill="#FF2010"/>
<rect x="1680.70" y="1803.73" width="30.85" height="28.13" fill="#EBAA30"/>
<rect x="1711.55" y="1803.73" width="30.85" height="28.13" fill="#EEE040"/>
<rect x="1125.40" y="1831.86" width="30.85" height="28.13" fill="#4470FF"/>
<rect x="1156.25" y="1831.86" width="30.85" height="28.13" fill="#60FF99"/>
<rect x="1187.10" y="1831.86" width="30.85" height="28.13" fill="#4CFF55"/>
<rect x="1217.95" y="1831.86" width="30.85" height="28.13" fill="#44FF44"/>
<rect x="1248.80" y="1831.86" width="30.85" height="28.13" fill="#55FF70"/>
<rect x="1279.65" y="1831.86" width="30.85" height="28.13" fill="#55FF70"/>
<rect x="1310.50" y="1831.86" width="30.85" height="28.13" fill="#F0F53C"/>
<rect x="1341.35" y="1831.86" width="30.85" height="28.13" fill="#F0F53C"/>
<rect x="1372.20" y="1831.86" width="30.85" height="28.13" fill="#F0F53C"/>
<rect x="1403.05" y="1831.86" width="30.85" height="28.13" fill="#EEDD30"/>
<rect x="1433.90" y="1831.86" width="30.85" height="28.13" fill="#F0F53C"/>
<rect x="1464.75" y="1831.86" width="30.85" height="28.13" fill="#EBA030"/>
<rect x="1495.60" y="1831.86" width="30.85" height="28.13" fill="#F0F53C"/>
<rect x="1526.45" y="1831.86" width="30.85" height="28.13" fill="#F0F53C"/>
<rect x="1557.30" y="1831.86" width="30.85" height="28.13" fill="#EE9528"/>
<rect x="1588.15" y="1831.86" width="30.85" height="28.13" fill="#F85518"/>
<rect x="1619.00" y="1831.86" width="30.85" height="28.13" fill="#FF2010"/>
<rect x="1649.85" y="1831.86" width="30.85" height="28.13" fill="#FF2010"/>
<rect x="1680.70" y="1831.86" width="30.85" height="28.13" fill="#EE9528"/>
<rect x="1711.55" y="1831.86" width="30.85" height="28.13" fill="#EE9528"/>
<rect x="1125.40" y="1859.99" width="30.85" height="28.13" fill="#4880FF"/>
<rect x="1156.25" y="1859.99" width="30.85" height="28.13" fill="#5FFF90"/>
<rect x="1187.10" y="1859.99" width="30.85" height="28.13" fill="#50FF60"/>
<rect x="1217.95" y="1859.99" width="30.85" height="28.13" fill="#44FF22"/>
<rect x="1248.80" y="1859.99" width="30.85" height="28.13" fill="#55FF70"/>
<rect x="1279.65" y="1859.99" width="30.85" height="28.13" fill="#55FF70"/>
<rect x="1310.50" y="1859.99" width="30.85" height="28.13" fill="#F0F53C"/>
<rect x="1341.35" y="1859.99" width="30.85" height="28.13" fill="#F0F53C"/>
<rect x="1372.20" y="1859.99" width="30.85" height="28.13" fill="#F0F53C"/>
<rect x="1403.05" y="1859.99" width="30.85" height="28.13" fill="#EBA530"/>
<rect x="1433.90" y="1859.99" width="30.85" height="28.13" fill="#F0F53C"/>
<rect x="1464.75" y="1859.99" width="30.85" height="28.13" fill="#EBA530"/>
<rect x="1495.60" y="1859.99" width="30.85" height="28.13" fill="#F0F53C"/>
<rect x="1526.45" y="1859.99" width="30.85" height="28.13" fill="#EEEE40"/>
<rect x="1557.30" y="1859.99" width="30.85" height="28.13" fill="#EE9528"/>
<rect x="1588.15" y="1859.99" width="30.85" height="28.13" fill="#F55E1A"/>
<rect x="1619.00" y="1859.99" width="30.85" height="28.13" fill="#FF2010"/>
<rect x="1649.85" y="1859.99" width="30.85" height="28.13" fill="#FF2010"/>
<rect x="1680.70" y="1859.99" width="30.85" height="28.13" fill="#F26A1E"/>
<rect x="1711.55" y="1859.99" width="30.85" height="28.13" fill="#EE8A25"/>
<rect x="1125.40" y="1888.12" width="30.85" height="28.13" fill="#4880FF"/>
<rect x="1156.25" y="1888.12" width="30.85" height="28.13" fill="#66FFAA"/>
<rect x="1187.10" y="1888.12" width="30.85" height="28.13" fill="#50FF60"/>
<rect x="1217.95" y="1888.12" width="30.85" height="28.13" fill="#44FF33"/>
<rect x="1248.80" y="1888.12" width="30.85" height="28.13" fill="#55FF70"/>
<rect x="1279.65" y="1888.12" width="30.85" height="28.13" fill="#5CFF88"/>
<rect x="1310.50" y="1888.12" width="30.85" height="28.13" fill="#F0F53C"/>
<rect x="1341.35" y="1888.12" width="30.85" height="28.13" fill="#F0F53C"/>
<rect x="1372.20" y="1888.12" width="30.85" height="28.13" fill="#F0F53C"/>
<rect x="1403.05" y="1888.12" width="30.85" height="28.13" fill="#EBB030"/>
<rect x="1433.90" y="1888.12" width="30.85" height="28.13" fill="#F0F53C"/>
<rect x="1464.75" y="1888.12" width="30.85" height="28.13" fill="#EBB030"/>
<rect x="1495.60" y="1888.12" width="30.85" height="28.13" fill="#F0F53C"/>
<rect x="1526.45" y="1888.12" width="30.85" height="28.13" fill="#EEF040"/>
<rect x="1557.30" y="1888.12" width="30.85" height="28.13" fill="#EBAA30"/>
<rect x="1588.15" y="1888.12" width="30.85" height="28.13" fill="#F08020"/>
<rect x="1619.00" y="1888.12" width="30.85" height="28.13" fill="#FF2010"/>
<rect x="1649.85" y="1888.12" width="30.85" height="28.13" fill="#FF2010"/>
<rect x="1680.70" y="1888.12" width="30.85" height="28.13" fill="#EE8A25"/>
<rect x="1711.55" y="1888.12" width="30.85" height="28.13" fill="#EE8A25"/>
<rect x="1125.40" y="1916.25" width="30.85" height="28.13" fill="#44FF44"/>
<rect x="1156.25" y="1916.25" width="30.85" height="28.13" fill="#3344FF"/>
<rect x="1187.10" y="1916.25" width="30.85" height="28.13" fill="#70FFC0"/>
<rect x="1217.95" y="1916.25" width="30.85" height="28.13" fill="#60C8E8"/>
<rect x="1248.80" y="1916.25" width="30.85" height="28.13" fill="#60C8E8"/>
<rect x="1279.65" y="1916.25" width="30.85" height="28.13" fill="#66E0E0"/>
<rect x="1310.50" y="1916.25" width="30.85" height="28.13" fill="#F0F53C"/>
<rect x="1341.35" y="1916.25" width="30.85" height="28.13" fill="#FF2010"/>
<rect x="1372.20" y="1916.25" width="30.85" height="28.13" fill="#FF2010"/>
<rect x="1403.05" y="1916.25" width="30.85" height="28.13" fill="#FF2010"/>
<rect x="1433.90" y="1916.25" width="30.85" height="28.13" fill="#FF2010"/>
<rect x="1464.75" y="1916.25" width="30.85" height="28.13" fill="#FF2010"/>
<rect x="1495.60" y="1916.25" width="30.85" height="28.13" fill="#FF2010"/>
<rect x="1526.45" y="1916.25" width="30.85" height="28.13" fill="#EBD035"/>
<rect x="1557.30" y="1916.25" width="30.85" height="28.13" fill="#EE9A28"/>
<rect x="1588.15" y="1916.25" width="30.85" height="28.13" fill="#F0F53C"/>
<rect x="1619.00" y="1916.25" width="30.85" height="28.13" fill="#EE9A28"/>
<rect x="1649.85" y="1916.25" width="30.85" height="28.13" fill="#EBC035"/>
<rect x="1680.70" y="1916.25" width="30.85" height="28.13" fill="#FF2010"/>
<rect x="1711.55" y="1916.25" width="30.85" height="28.13" fill="#EBC035"/>
<rect x="1125.40" y="1944.38" width="30.85" height="28.13" fill="#4880FF"/>
<rect x="1156.25" y="1944.38" width="30.85" height="28.13" fill="#66E8E0"/>
<rect x="1187.10" y="1944.38" width="30.85" height="28.13" fill="#70FFC0"/>
<rect x="1217.95" y="1944.38" width="30.85" height="28.13" fill="#60D0E0"/>
<rect x="1248.80" y="1944.38" width="30.85" height="28.13" fill="#66FFCC"/>
<rect x="1279.65" y="1944.38" width="30.85" height="28.13" fill="#70FFC8"/>
<rect x="1310.50" y="1944.38" width="30.85" height="28.13" fill="#F0F53C"/>
<rect x="1341.35" y="1944.38" width="30.85" height="28.13" fill="#EEE030"/>
<rect x="1372.20" y="1944.38" width="30.85" height="28.13" fill="#EEE030"/>
<rect x="1403.05" y="1944.38" width="30.85" height="28.13" fill="#FF2010"/>
<rect x="1433.90" y="1944.38" width="30.85" height="28.13" fill="#FF2010"/>
<rect x="1464.75" y="1944.38" width="30.85" height="28.13" fill="#FF2010"/>
<rect x="1495.60" y="1944.38" width="30.85" height="28.13" fill="#FA4518"/>
<rect x="1526.45" y="1944.38" width="30.85" height="28.13" fill="#EBAA30"/>
<rect x="1557.30" y="1944.38" width="30.85" height="28.13" fill="#FF3010"/>
<rect x="1588.15" y="1944.38" width="30.85" height="28.13" fill="#F85018"/>
<rect x="1619.00" y="1944.38" width="30.85" height="28.13" fill="#FF2010"/>
<rect x="1649.85" y="1944.38" width="30.85" height="28.13" fill="#FF2010"/>
<rect x="1680.70" y="1944.38" width="30.85" height="28.13" fill="#FF2010"/>
<rect x="1711.55" y="1944.38" width="30.85" height="28.13" fill="#FA4018"/>
<rect x="1125.40" y="1972.51" width="30.85" height="28.13" fill="#F0F070"/>
<rect x="1156.25" y="1972.51" width="30.85" height="28.13" fill="#F0F53C"/>
<rect x="1187.10" y="1972.51" width="30.85" height="28.13" fill="#E8FFE0"/>
<rect x="1217.95" y="1972.51" width="30.85" height="28.13" fill="#F4FFD0"/>
<rect x="1248.80" y="1972.51" width="30.85" height="28.13" fill="#F8FFE0"/>
<rect x="1279.65" y="1972.51" width="30.85" height="28.13" fill="#E8FFE8"/>
<rect x="1310.50" y="1972.51" width="30.85" height="28.13" fill="#88FFE0"/>
<rect x="1341.35" y="1972.51" width="30.85" height="28.13" fill="#C0FFE0"/>
<rect x="1372.20" y="1972.51" width="30.85" height="28.13" fill="#D0FFE0"/>
<rect x="1403.05" y="1972.51" width="30.85" height="28.13" fill="#44FF33"/>
<rect x="1433.90" y="1972.51" width="30.85" height="28.13" fill="#55FF66"/>
<rect x="1464.75" y="1972.51" width="30.85" height="28.13" fill="#77FFC0"/>
<rect x="1495.60" y="1972.51" width="30.85" height="28.13" fill="#77FFD0"/>
<rect x="1526.45" y="1972.51" width="30.85" height="28.13" fill="#A0FFE0"/>
<rect x="1557.30" y="1972.51" width="30.85" height="28.13" fill="#F8FFE8"/>
<rect x="1588.15" y="1972.51" width="30.85" height="28.13" fill="#F8FFE8"/>
<rect x="1619.00" y="1972.51" width="30.85" height="28.13" fill="#C0FFE0"/>
<rect x="1649.85" y="1972.51" width="30.85" height="28.13" fill="#66FF99"/>
<rect x="1680.70" y="1972.51" width="30.85" height="28.13" fill="#55FF66"/>
<rect x="1711.55" y="1972.51" width="30.85" height="28.13" fill="#44FF22"/>
<rect x="1125.40" y="2000.64" width="30.85" height="28.13" fill="#FF2010"/>
<rect x="1156.25" y="2000.64" width="30.85" height="28.13" fill="#EE8822"/>
<rect x="1187.10" y="2000.64" width="30.85" height="28.13" fill="#F56018"/>
<rect x="1217.95" y="2000.64" width="30.85" height="28.13" fill="#FA4818"/>
<rect x="1248.80" y="2000.64" width="30.85" height="28.13" fill="#EE8822"/>
<rect x="1279.65" y="2000.64" width="30.85" height="28.13" fill="#EBA030"/>
<rect x="1310.50" y="2000.64" width="30.85" height="28.13" fill="#55FF80"/>
<rect x="1341.35" y="2000.64" width="30.85" height="28.13" fill="#55FF80"/>
<rect x="1372.20" y="2000.64" width="30.85" height="28.13" fill="#66FFB0"/>
<rect x="1403.05" y="2000.64" width="30.85" height="28.13" fill="#55FF80"/>
<rect x="1433.90" y="2000.64" width="30.85" height="28.13" fill="#55FF88"/>
<rect x="1464.75" y="2000.64" width="30.85" height="28.13" fill="#4C98FF"/>
<rect x="1495.60" y="2000.64" width="30.85" height="28.13" fill="#5ABBEE"/>
<rect x="1526.45" y="2000.64" width="30.85" height="28.13" fill="#55FF80"/>
<rect x="1557.30" y="2000.64" width="30.85" height="28.13" fill="#60D8E0"/>
<rect x="1588.15" y="2000.64" width="30.85" height="28.13" fill="#5ABBEE"/>
<rect x="1619.00" y="2000.64" width="30.85" height="28.13" fill="#70FFC8"/>
<rect x="1649.85" y="2000.64" width="30.85" height="28.13" fill="#3D40FF"/>
<rect x="1680.70" y="2000.64" width="30.85" height="28.13" fill="#5ACCE0"/>
<rect x="1711.55" y="2000.64" width="30.85" height="28.13" fill="#6CF0E0"/>
<rect x="1125.40" y="2028.77" width="30.85" height="28.13" fill="#FF2010"/>
<rect x="1156.25" y="2028.77" width="30.85" height="28.13" fill="#EE8020"/>
<rect x="1187.10" y="2028.77" width="30.85" height="28.13" fill="#FF2010"/>
<rect x="1217.95" y="2028.77" width="30.85" height="28.13" fill="#FF2010"/>
<rect x="1248.80" y="2028.77" width="30.85" height="28.13" fill="#FF2010"/>
<rect x="1279.65" y="2028.77" width="30.85" height="28.13" fill="#FF2010"/>
<rect x="1310.50" y="2028.77" width="30.85" height="28.13" fill="#50A8F0"/>
<rect x="1341.35" y="2028.77" width="30.85" height="28.13" fill="#55FF88"/>
<rect x="1372.20" y="2028.77" width="30.85" height="28.13" fill="#5FD8E0"/>
<rect x="1403.05" y="2028.77" width="30.85" height="28.13" fill="#55FF88"/>
<rect x="1433.90" y="2028.77" width="30.85" height="28.13" fill="#66FFAA"/>
<rect x="1464.75" y="2028.77" width="30.85" height="28.13" fill="#4C90FF"/>
<rect x="1495.60" y="2028.77" width="30.85" height="28.13" fill="#4C88FF"/>
<rect x="1526.45" y="2028.77" width="30.85" height="28.13" fill="#3D40FF"/>
<rect x="1557.30" y="2028.77" width="30.85" height="28.13" fill="#2010FF"/>
<rect x="1588.15" y="2028.77" width="30.85" height="28.13" fill="#2000FF"/>
<rect x="1619.00" y="2028.77" width="30.85" height="28.13" fill="#3D30FF"/>
<rect x="1649.85" y="2028.77" width="30.85" height="28.13" fill="#3020FF"/>
<rect x="1680.70" y="2028.77" width="30.85" height="28.13" fill="#50A8F0"/>
<rect x="1711.55" y="2028.77" width="30.85" height="28.13" fill="#55B8EE"/>
<rect x="1125.40" y="2056.90" width="30.85" height="28.13" fill="#FF2010"/>
<rect x="1156.25" y="2056.90" width="30.85" height="28.13" fill="#FF2010"/>
<rect x="1187.10" y="2056.90" width="30.85" height="28.13" fill="#FF2010"/>
<rect x="1217.95" y="2056.90" width="30.85" height="28.13" fill="#FF2010"/>
<rect x="1248.80" y="2056.90" width="30.85" height="28.13" fill="#FF2010"/>
<rect x="1279.65" y="2056.90" width="30.85" height="28.13" fill="#FF2010"/>
<rect x="1310.50" y="2056.90" width="30.85" height="28.13" fill="#70FFB0"/>
<rect x="1341.35" y="2056.90" width="30.85" height="28.13" fill="#3535FF"/>
<rect x="1372.20" y="2056.90" width="30.85" height="28.13" fill="#3535FF"/>
<rect x="1403.05" y="2056.90" width="30.85" height="28.13" fill="#66E8D8"/>
<rect x="1433.90" y="2056.90" width="30.85" height="28.13" fill="#4C90FF"/>
<rect x="1464.75" y="2056.90" width="30.85" height="28.13" fill="#2000FF"/>
<rect x="1495.60" y="2056.90" width="30.85" height="28.13" fill="#2000FF"/>
<rect x="1526.45" y="2056.90" width="30.85" height="28.13" fill="#4890FF"/>
<rect x="1557.30" y="2056.90" width="30.85" height="28.13" fill="#3838FF"/>
<rect x="1588.15" y="2056.90" width="30.85" height="28.13" fill="#4470FF"/>
<rect x="1619.00" y="2056.90" width="30.85" height="28.13" fill="#4060FF"/>
<rect x="1649.85" y="2056.90" width="30.85" height="28.13" fill="#4878FF"/>
<rect x="1680.70" y="2056.90" width="30.85" height="28.13" fill="#3020FF"/>
<rect x="1711.55" y="2056.90" width="30.85" height="28.13" fill="#6CFFD0"/>
<rect x="1125.40" y="2085.03" width="30.85" height="28.13" fill="#F0F53C"/>
<rect x="1156.25" y="2085.03" width="30.85" height="28.13" fill="#FF2010"/>
<rect x="1187.10" y="2085.03" width="30.85" height="28.13" fill="#F0F53C"/>
<rect x="1217.95" y="2085.03" width="30.85" height="28.13" fill="#EBA030"/>
<rect x="1248.80" y="2085.03" width="30.85" height="28.13" fill="#EE9A28"/>
<rect x="1279.65" y="2085.03" width="30.85" height="28.13" fill="#EBBB33"/>
<rect x="1310.50" y="2085.03" width="30.85" height="28.13" fill="#44FF33"/>
<rect x="1341.35" y="2085.03" width="30.85" height="28.13" fill="#3D4CFF"/>
<rect x="1372.20" y="2085.03" width="30.85" height="28.13" fill="#50A0F0"/>
<rect x="1403.05" y="2085.03" width="30.85" height="28.13" fill="#4C94FF"/>
<rect x="1433.90" y="2085.03" width="30.85" height="28.13" fill="#4060FF"/>
<rect x="1464.75" y="2085.03" width="30.85" height="28.13" fill="#50A8F0"/>
<rect x="1495.60" y="2085.03" width="30.85" height="28.13" fill="#50A8F0"/>
<rect x="1526.45" y="2085.03" width="30.85" height="28.13" fill="#60D0E0"/>
<rect x="1557.30" y="2085.03" width="30.85" height="28.13" fill="#6CEEDD"/>
<rect x="1588.15" y="2085.03" width="30.85" height="28.13" fill="#4CFF44"/>
<rect x="1619.00" y="2085.03" width="30.85" height="28.13" fill="#60CCE0"/>
<rect x="1649.85" y="2085.03" width="30.85" height="28.13" fill="#5CFF88"/>
<rect x="1680.70" y="2085.03" width="30.85" height="28.13" fill="#3838FF"/>
<rect x="1711.55" y="2085.03" width="30.85" height="28.13" fill="#5CC8E0"/>
<rect x="1125.40" y="2113.16" width="30.85" height="28.13" fill="#FF2010"/>
<rect x="1156.25" y="2113.16" width="30.85" height="28.13" fill="#FF2010"/>
<rect x="1187.10" y="2113.16" width="30.85" height="28.13" fill="#EEDD35"/>
<rect x="1217.95" y="2113.16" width="30.85" height="28.13" fill="#F55A1A"/>
<rect x="1248.80" y="2113.16" width="30.85" height="28.13" fill="#EE8022"/>
<rect x="1279.65" y="2113.16" width="30.85" height="28.13" fill="#EE9A28"/>
<rect x="1310.50" y="2113.16" width="30.85" height="28.13" fill="#5CFF88"/>
<rect x="1341.35" y="2113.16" width="30.85" height="28.13" fill="#50A0FF"/>
<rect x="1372.20" y="2113.16" width="30.85" height="28.13" fill="#55B0EE"/>
<rect x="1403.05" y="2113.16" width="30.85" height="28.13" fill="#4880FF"/>
<rect x="1433.90" y="2113.16" width="30.85" height="28.13" fill="#4470FF"/>
<rect x="1464.75" y="2113.16" width="30.85" height="28.13" fill="#4470FF"/>
<rect x="1495.60" y="2113.16" width="30.85" height="28.13" fill="#4880FF"/>
<rect x="1526.45" y="2113.16" width="30.85" height="28.13" fill="#4C98FF"/>
<rect x="1557.30" y="2113.16" width="30.85" height="28.13" fill="#4C98FF"/>
<rect x="1588.15" y="2113.16" width="30.85" height="28.13" fill="#60D0E0"/>
<rect x="1619.00" y="2113.16" width="30.85" height="28.13" fill="#4880FF"/>
<rect x="1649.85" y="2113.16" width="30.85" height="28.13" fill="#4880FF"/>
<rect x="1680.70" y="2113.16" width="30.85" height="28.13" fill="#2000FF"/>
<rect x="1711.55" y="2113.16" width="30.85" height="28.13" fill="#4470FF"/>
<rect x="1125.40" y="2141.29" width="30.85" height="28.13" fill="#FF2010"/>
<rect x="1156.25" y="2141.29" width="30.85" height="28.13" fill="#EEDD35"/>
<rect x="1187.10" y="2141.29" width="30.85" height="28.13" fill="#F0F53C"/>
<rect x="1217.95" y="2141.29" width="30.85" height="28.13" fill="#F0F53C"/>
<rect x="1248.80" y="2141.29" width="30.85" height="28.13" fill="#F0F53C"/>
<rect x="1279.65" y="2141.29" width="30.85" height="28.13" fill="#F0F53C"/>
<rect x="1310.50" y="2141.29" width="30.85" height="28.13" fill="#66FFAA"/>
<rect x="1341.35" y="2141.29" width="30.85" height="28.13" fill="#70FFC0"/>
<rect x="1372.20" y="2141.29" width="30.85" height="28.13" fill="#44FF33"/>
<rect x="1403.05" y="2141.29" width="30.85" height="28.13" fill="#5CCAE0"/>
<rect x="1433.90" y="2141.29" width="30.85" height="28.13" fill="#5CFF80"/>
<rect x="1464.75" y="2141.29" width="30.85" height="28.13" fill="#66FFA0"/>
<rect x="1495.60" y="2141.29" width="30.85" height="28.13" fill="#70FFC8"/>
<rect x="1526.45" y="2141.29" width="30.85" height="28.13" fill="#3020FF"/>
<rect x="1557.30" y="2141.29" width="30.85" height="28.13" fill="#4C90FF"/>
<rect x="1588.15" y="2141.29" width="30.85" height="28.13" fill="#4C98FF"/>
<rect x="1619.00" y="2141.29" width="30.85" height="28.13" fill="#2000FF"/>
<rect x="1649.85" y="2141.29" width="30.85" height="28.13" fill="#50A8F0"/>
<rect x="1680.70" y="2141.29" width="30.85" height="28.13" fill="#4470FF"/>
<rect x="1711.55" y="2141.29" width="30.85" height="28.13" fill="#4470FF"/>
<rect x="1125.40" y="2169.42" width="30.85" height="28.13" fill="#FF2010"/>
<rect x="1156.25" y="2169.42" width="30.85" height="28.13" fill="#F0F53C"/>
<rect x="1187.10" y="2169.42" width="30.85" height="28.13" fill="#F0F53C"/>
<rect x="1217.95" y="2169.42" width="30.85" height="28.13" fill="#F0F53C"/>
<rect x="1248.80" y="2169.42" width="30.85" height="28.13" fill="#F0F53C"/>
<rect x="1279.65" y="2169.42" width="30.85" height="28.13" fill="#F0F53C"/>
<rect x="1310.50" y="2169.42" width="30.85" height="28.13" fill="#44FF33"/>
<rect x="1341.35" y="2169.42" width="30.85" height="28.13" fill="#70FFC0"/>
<rect x="1372.20" y="2169.42" width="30.85" height="28.13" fill="#70FFC0"/>
<rect x="1403.05" y="2169.42" width="30.85" height="28.13" fill="#60D0E0"/>
<rect x="1433.90" y="2169.42" width="30.85" height="28.13" fill="#4CFF55"/>
<rect x="1464.75" y="2169.42" width="30.85" height="28.13" fill="#44FF33"/>
<rect x="1495.60" y="2169.42" width="30.85" height="28.13" fill="#4CFF44"/>
<rect x="1526.45" y="2169.42" width="30.85" height="28.13" fill="#4C90FF"/>
<rect x="1557.30" y="2169.42" width="30.85" height="28.13" fill="#66F0E0"/>
<rect x="1588.15" y="2169.42" width="30.85" height="28.13" fill="#60D0E0"/>
<rect x="1619.00" y="2169.42" width="30.85" height="28.13" fill="#4060FF"/>
<rect x="1649.85" y="2169.42" width="30.85" height="28.13" fill="#4060FF"/>
<rect x="1680.70" y="2169.42" width="30.85" height="28.13" fill="#50A0F0"/>
<rect x="1711.55" y="2169.42" width="30.85" height="28.13" fill="#2000FF"/>
<rect x="1125.40" y="2197.55" width="30.85" height="28.13" fill="#F0F53C"/>
<rect x="1156.25" y="2197.55" width="30.85" height="28.13" fill="#F08020"/>
<rect x="1187.10" y="2197.55" width="30.85" height="28.13" fill="#F0F53C"/>
<rect x="1217.95" y="2197.55" width="30.85" height="28.13" fill="#F0F53C"/>
<rect x="1248.80" y="2197.55" width="30.85" height="28.13" fill="#F0F53C"/>
<rect x="1279.65" y="2197.55" width="30.85" height="28.13" fill="#F0F53C"/>
<rect x="1310.50" y="2197.55" width="30.85" height="28.13" fill="#5CFF90"/>
<rect x="1341.35" y="2197.55" width="30.85" height="28.13" fill="#4CFF4C"/>
<rect x="1372.20" y="2197.55" width="30.85" height="28.13" fill="#4CFF4C"/>
<rect x="1403.05" y="2197.55" width="30.85" height="28.13" fill="#70FFC8"/>
<rect x="1433.90" y="2197.55" width="30.85" height="28.13" fill="#60E0E0"/>
<rect x="1464.75" y="2197.55" width="30.85" height="28.13" fill="#44FF33"/>
<rect x="1495.60" y="2197.55" width="30.85" height="28.13" fill="#4CFF44"/>
<rect x="1526.45" y="2197.55" width="30.85" height="28.13" fill="#5CFF88"/>
<rect x="1557.30" y="2197.55" width="30.85" height="28.13" fill="#5CFF99"/>
<rect x="1588.15" y="2197.55" width="30.85" height="28.13" fill="#77FFD0"/>
<rect x="1619.00" y="2197.55" width="30.85" height="28.13" fill="#5CFF90"/>
<rect x="1649.85" y="2197.55" width="30.85" height="28.13" fill="#5CFF88"/>
<rect x="1680.70" y="2197.55" width="30.85" height="28.13" fill="#66E8E0"/>
<rect x="1711.55" y="2197.55" width="30.85" height="28.13" fill="#5CFF88"/>
<rect x="1125.40" y="2225.68" width="30.85" height="28.13" fill="#F0F53C"/>
<rect x="1156.25" y="2225.68" width="30.85" height="28.13" fill="#FF2010"/>
<rect x="1187.10" y="2225.68" width="30.85" height="28.13" fill="#F0F53C"/>
<rect x="1217.95" y="2225.68" width="30.85" height="28.13" fill="#F0F53C"/>
<rect x="1248.80" y="2225.68" width="30.85" height="28.13" fill="#F0F53C"/>
<rect x="1279.65" y="2225.68" width="30.85" height="28.13" fill="#F0F53C"/>
<rect x="1310.50" y="2225.68" width="30.85" height="28.13" fill="#55FF80"/>
<rect x="1341.35" y="2225.68" width="30.85" height="28.13" fill="#70FFD0"/>
<rect x="1372.20" y="2225.68" width="30.85" height="28.13" fill="#44FF33"/>
<rect x="1403.05" y="2225.68" width="30.85" height="28.13" fill="#4470FF"/>
<rect x="1433.90" y="2225.68" width="30.85" height="28.13" fill="#4470FF"/>
<rect x="1464.75" y="2225.68" width="30.85" height="28.13" fill="#6CF0E0"/>
<rect x="1495.60" y="2225.68" width="30.85" height="28.13" fill="#70FFD0"/>
<rect x="1526.45" y="2225.68" width="30.85" height="28.13" fill="#66FFAA"/>
<rect x="1557.30" y="2225.68" width="30.85" height="28.13" fill="#44FF33"/>
<rect x="1588.15" y="2225.68" width="30.85" height="28.13" fill="#55FF70"/>
<rect x="1619.00" y="2225.68" width="30.85" height="28.13" fill="#70FFD0"/>
<rect x="1649.85" y="2225.68" width="30.85" height="28.13" fill="#6CF8D8"/>
<rect x="1680.70" y="2225.68" width="30.85" height="28.13" fill="#4060FF"/>
<rect x="1711.55" y="2225.68" width="30.85" height="28.13" fill="#50A0F0"/>
<rect x="1125.40" y="2253.81" width="30.85" height="28.13" fill="#F0F53C"/>
<rect x="1156.25" y="2253.81" width="30.85" height="28.13" fill="#F08020"/>
<rect x="1187.10" y="2253.81" width="30.85" height="28.13" fill="#F0F53C"/>
<rect x="1217.95" y="2253.81" width="30.85" height="28.13" fill="#F0F53C"/>
<rect x="1248.80" y="2253.81" width="30.85" height="28.13" fill="#F0F53C"/>
<rect x="1279.65" y="2253.81" width="30.85" height="28.13" fill="#F0F53C"/>
<rect x="1310.50" y="2253.81" width="30.85" height="28.13" fill="#77FFE0"/>
<rect x="1341.35" y="2253.81" width="30.85" height="28.13" fill="#5AC8EE"/>
<rect x="1372.20" y="2253.81" width="30.85" height="28.13" fill="#44FF33"/>
<rect x="1403.05" y="2253.81" width="30.85" height="28.13" fill="#2010FF"/>
<rect x="1433.90" y="2253.81" width="30.85" height="28.13" fill="#2000FF"/>
<rect x="1464.75" y="2253.81" width="30.85" height="28.13" fill="#70FFD0"/>
<rect x="1495.60" y="2253.81" width="30.85" height="28.13" fill="#55FF70"/>
<rect x="1526.45" y="2253.81" width="30.85" height="28.13" fill="#4CFF5C"/>
<rect x="1557.30" y="2253.81" width="30.85" height="28.13" fill="#44FF33"/>
<rect x="1588.15" y="2253.81" width="30.85" height="28.13" fill="#5CFF88"/>
<rect x="1619.00" y="2253.81" width="30.85" height="28.13" fill="#5CC8E0"/>
<rect x="1649.85" y="2253.81" width="30.85" height="28.13" fill="#55FF77"/>
<rect x="1680.70" y="2253.81" width="30.85" height="28.13" fill="#4060FF"/>
<rect x="1711.55" y="2253.81" width="30.85" height="28.13" fill="#66E8E0"/>
<rect x="1125.40" y="2281.94" width="30.85" height="28.13" fill="#EBA030"/>
<rect x="1156.25" y="2281.94" width="30.85" height="28.13" fill="#FF2010"/>
<rect x="1187.10" y="2281.94" width="30.85" height="28.13" fill="#F0F53C"/>
<rect x="1217.95" y="2281.94" width="30.85" height="28.13" fill="#F0F53C"/>
<rect x="1248.80" y="2281.94" width="30.85" height="28.13" fill="#F0F53C"/>
<rect x="1279.65" y="2281.94" width="30.85" height="28.13" fill="#F0F53C"/>
<rect x="1310.50" y="2281.94" width="30.85" height="28.13" fill="#55FF70"/>
<rect x="1341.35" y="2281.94" width="30.85" height="28.13" fill="#66F0E0"/>
<rect x="1372.20" y="2281.94" width="30.85" height="28.13" fill="#55FF70"/>
<rect x="1403.05" y="2281.94" width="30.85" height="28.13" fill="#4470FF"/>
<rect x="1433.90" y="2281.94" width="30.85" height="28.13" fill="#4C98FF"/>
<rect x="1464.75" y="2281.94" width="30.85" height="28.13" fill="#66E8E0"/>
<rect x="1495.60" y="2281.94" width="30.85" height="28.13" fill="#66E8E0"/>
<rect x="1526.45" y="2281.94" width="30.85" height="28.13" fill="#50A8F0"/>
<rect x="1557.30" y="2281.94" width="30.85" height="28.13" fill="#70FFD0"/>
<rect x="1588.15" y="2281.94" width="30.85" height="28.13" fill="#5CFF90"/>
<rect x="1619.00" y="2281.94" width="30.85" height="28.13" fill="#50A0F0"/>
<rect x="1649.85" y="2281.94" width="30.85" height="28.13" fill="#55BBEE"/>
<rect x="1680.70" y="2281.94" width="30.85" height="28.13" fill="#3020FF"/>
<rect x="1711.55" y="2281.94" width="30.85" height="28.13" fill="#3838FF"/>
<rect x="1125.40" y="2310.07" width="30.85" height="28.13" fill="#EEDD35"/>
<rect x="1156.25" y="2310.07" width="30.85" height="28.13" fill="#EBC035"/>
<rect x="1187.10" y="2310.07" width="30.85" height="28.13" fill="#F0F860"/>
<rect x="1217.95" y="2310.07" width="30.85" height="28.13" fill="#F0F53C"/>
<rect x="1248.80" y="2310.07" width="30.85" height="28.13" fill="#F0F53C"/>
<rect x="1279.65" y="2310.07" width="30.85" height="28.13" fill="#F0F53C"/>
<rect x="1310.50" y="2310.07" width="30.85" height="28.13" fill="#55FF66"/>
<rect x="1341.35" y="2310.07" width="30.85" height="28.13" fill="#70FFB0"/>
<rect x="1372.20" y="2310.07" width="30.85" height="28.13" fill="#55FF80"/>
<rect x="1403.05" y="2310.07" width="30.85" height="28.13" fill="#3838FF"/>
<rect x="1433.90" y="2310.07" width="30.85" height="28.13" fill="#4C98FF"/>
<rect x="1464.75" y="2310.07" width="30.85" height="28.13" fill="#4CFF44"/>
<rect x="1495.60" y="2310.07" width="30.85" height="28.13" fill="#4CFF44"/>
<rect x="1526.45" y="2310.07" width="30.85" height="28.13" fill="#50A8F0"/>
<rect x="1557.30" y="2310.07" width="30.85" height="28.13" fill="#5CFF88"/>
<rect x="1588.15" y="2310.07" width="30.85" height="28.13" fill="#4CFF44"/>
<rect x="1619.00" y="2310.07" width="30.85" height="28.13" fill="#4C90FF"/>
<rect x="1649.85" y="2310.07" width="30.85" height="28.13" fill="#70FFD0"/>
<rect x="1680.70" y="2310.07" width="30.85" height="28.13" fill="#3838FF"/>
<rect x="1711.55" y="2310.07" width="30.85" height="28.13" fill="#3030FF"/>
<path d="M1125.40,1775.60V2338.20M1156.25,1775.60V2338.20M1187.10,1775.60V2338.20M1217.95,1775.60V2338.20M1248.80,1775.60V2338.20M1279.65,1775.60V2338.20M1310.50,1775.60V2338.20M1341.35,1775.60V2338.20M1372.20,1775.60V2338.20M1403.05,1775.60V2338.20M1433.90,1775.60V2338.20M1464.75,1775.60V2338.20M1495.60,1775.60V2338.20M1526.45,1775.60V2338.20M1557.30,1775.60V2338.20M1588.15,1775.60V2338.20M1619.00,1775.60V2338.20M1649.85,1775.60V2338.20M1680.70,1775.60V2338.20M1711.55,1775.60V2338.20M1742.40,1775.60V2338.20M1125.40,1775.60H1742.40M1125.40,1803.73H1742.40M1125.40,1831.86H1742.40M1125.40,1859.99H1742.40M1125.40,1888.12H1742.40M1125.40,1916.25H1742.40M1125.40,1944.38H1742.40M1125.40,1972.51H1742.40M1125.40,2000.64H1742.40M1125.40,2028.77H1742.40M1125.40,2056.90H1742.40M1125.40,2085.03H1742.40M1125.40,2113.16H1742.40M1125.40,2141.29H1742.40M1125.40,2169.42H1742.40M1125.40,2197.55H1742.40M1125.40,2225.68H1742.40M1125.40,2253.81H1742.40M1125.40,2281.94H1742.40M1125.40,2310.07H1742.40M1125.40,2338.20H1742.40" stroke="#9C8C9C" stroke-width="1.1" fill="none"/>
<path d="M1665.28,1786.87L1665.28,1793.27M1662.65,1788.23L1667.90,1791.90M1667.90,1788.23L1662.65,1791.90M1665.28,1814.99L1665.28,1821.39M1662.65,1816.36L1667.90,1820.03M1667.90,1816.36L1662.65,1820.03M1140.83,1843.12L1140.83,1849.53M1138.20,1844.49L1143.45,1848.16M1143.45,1844.49L1138.20,1848.16M1665.28,1843.12L1665.28,1849.53M1662.65,1844.49L1667.90,1848.16M1667.90,1844.49L1662.65,1848.16M1665.28,1871.25L1665.28,1877.65M1662.65,1872.62L1667.90,1876.29M1667.90,1872.62L1662.65,1876.29M1665.28,1899.38L1665.28,1905.79M1662.65,1900.75L1667.90,1904.42M1667.90,1900.75L1662.65,1904.42M1171.68,1927.51L1171.68,1933.91M1169.05,1928.88L1174.30,1932.55M1174.30,1928.88L1169.05,1932.55M1356.78,1927.51L1356.78,1933.91M1354.15,1928.88L1359.40,1932.55M1359.40,1928.88L1354.15,1932.55M1449.33,1927.51L1449.33,1933.91M1446.70,1928.88L1451.95,1932.55M1451.95,1928.88L1446.70,1932.55M1696.12,1927.51L1696.12,1933.91M1693.50,1928.88L1698.75,1932.55M1698.75,1928.88L1693.50,1932.55M1480.18,1955.64L1480.18,1962.05M1477.55,1957.01L1482.80,1960.68M1482.80,1957.01L1477.55,1960.68M1665.28,1955.64L1665.28,1962.05M1662.65,1957.01L1667.90,1960.68M1667.90,1957.01L1662.65,1960.68M1696.12,1955.64L1696.12,1962.05M1693.50,1957.01L1698.75,1960.68M1698.75,1957.01L1693.50,1960.68M1665.28,2011.90L1665.28,2018.31M1662.65,2013.27L1667.90,2016.94M1667.90,2013.27L1662.65,2016.94M1134.53,2040.03L1134.53,2046.43M1131.90,2041.40L1137.15,2045.07M1137.15,2041.40L1131.90,2045.07M1140.83,2040.03L1140.83,2046.43M1138.20,2041.40L1143.45,2045.07M1143.45,2041.40L1138.20,2045.07M1147.12,2040.03L1147.12,2046.43M1144.50,2041.40L1149.75,2045.07M1149.75,2041.40L1144.50,2045.07M1541.88,2040.03L1541.88,2046.43M1539.25,2041.40L1544.50,2045.07M1544.50,2041.40L1539.25,2045.07M1569.58,2040.03L1569.58,2046.43M1566.95,2041.40L1572.20,2045.07M1572.20,2041.40L1566.95,2045.07M1575.88,2040.03L1575.88,2046.43M1573.25,2041.40L1578.50,2045.07M1578.50,2041.40L1573.25,2045.07M1597.28,2040.03L1597.28,2046.43M1594.65,2041.40L1599.90,2045.07M1599.90,2041.40L1594.65,2045.07M1603.58,2040.03L1603.58,2046.43M1600.95,2041.40L1606.20,2045.07M1606.20,2041.40L1600.95,2045.07M1609.88,2040.03L1609.88,2046.43M1607.25,2041.40L1612.50,2045.07M1612.50,2041.40L1607.25,2045.07M1634.43,2040.03L1634.43,2046.43M1631.80,2041.40L1637.05,2045.07M1637.05,2041.40L1631.80,2045.07M1665.28,2040.03L1665.28,2046.43M1662.65,2041.40L1667.90,2045.07M1667.90,2041.40L1662.65,2045.07M1140.83,2068.16L1140.83,2074.56M1138.20,2069.53L1143.45,2073.20M1143.45,2069.53L1138.20,2073.20M1171.68,2068.16L1171.68,2074.56M1169.05,2069.53L1174.30,2073.20M1174.30,2069.53L1169.05,2073.20M1202.53,2068.16L1202.53,2074.56M1199.90,2069.53L1205.15,2073.20M1205.15,2069.53L1199.90,2073.20M1230.22,2068.16L1230.22,2074.56M1227.60,2069.53L1232.85,2073.20M1232.85,2069.53L1227.60,2073.20M1236.53,2068.16L1236.53,2074.56M1233.90,2069.53L1239.15,2073.20M1239.15,2069.53L1233.90,2073.20M1264.23,2068.16L1264.23,2074.56M1261.60,2069.53L1266.85,2073.20M1266.85,2069.53L1261.60,2073.20M1295.08,2068.16L1295.08,2074.56M1292.45,2069.53L1297.70,2073.20M1297.70,2069.53L1292.45,2073.20M1356.78,2068.16L1356.78,2074.56M1354.15,2069.53L1359.40,2073.20M1359.40,2069.53L1354.15,2073.20M1387.62,2068.16L1387.62,2074.56M1385.00,2069.53L1390.25,2073.20M1390.25,2069.53L1385.00,2073.20M1477.03,2068.16L1477.03,2074.56M1474.40,2069.53L1479.65,2073.20M1479.65,2069.53L1474.40,2073.20M1483.33,2068.16L1483.33,2074.56M1480.70,2069.53L1485.95,2073.20M1485.95,2069.53L1480.70,2073.20M1507.88,2068.16L1507.88,2074.56M1505.25,2069.53L1510.50,2073.20M1510.50,2069.53L1505.25,2073.20M1514.18,2068.16L1514.18,2074.56M1511.55,2069.53L1516.80,2073.20M1516.80,2069.53L1511.55,2073.20M1572.73,2068.16L1572.73,2074.56M1570.10,2069.53L1575.35,2073.20M1575.35,2069.53L1570.10,2073.20M1603.58,2068.16L1603.58,2074.56M1600.95,2069.53L1606.20,2073.20M1606.20,2069.53L1600.95,2073.20M1634.43,2068.16L1634.43,2074.56M1631.80,2069.53L1637.05,2073.20M1637.05,2069.53L1631.80,2073.20M1696.12,2068.16L1696.12,2074.56M1693.50,2069.53L1698.75,2073.20M1698.75,2069.53L1693.50,2073.20M1171.68,2096.30L1171.68,2102.69M1169.05,2097.66L1174.30,2101.33M1174.30,2097.66L1169.05,2101.33M1356.78,2096.30L1356.78,2102.69M1354.15,2097.66L1359.40,2101.33M1359.40,2097.66L1354.15,2101.33M1449.33,2096.30L1449.33,2102.69M1446.70,2097.66L1451.95,2101.33M1451.95,2097.66L1446.70,2101.33M1696.12,2096.30L1696.12,2102.69M1693.50,2097.66L1698.75,2101.33M1698.75,2097.66L1693.50,2101.33M1171.68,2124.43L1171.68,2130.82M1169.05,2125.79L1174.30,2129.46M1174.30,2125.79L1169.05,2129.46M1449.33,2124.43L1449.33,2130.82M1446.70,2125.79L1451.95,2129.46M1451.95,2125.79L1446.70,2129.46M1480.18,2124.43L1480.18,2130.82M1477.55,2125.79L1482.80,2129.46M1482.80,2125.79L1477.55,2129.46M1692.97,2124.43L1692.97,2130.82M1690.35,2125.79L1695.60,2129.46M1695.60,2125.79L1690.35,2129.46M1699.28,2124.43L1699.28,2130.82M1696.65,2125.79L1701.90,2129.46M1701.90,2125.79L1696.65,2129.46M1726.98,2124.43L1726.98,2130.82M1724.35,2125.79L1729.60,2129.46M1729.60,2125.79L1724.35,2129.46M1541.88,2152.56L1541.88,2158.95M1539.25,2153.92L1544.50,2157.59M1544.50,2153.92L1539.25,2157.59M1631.28,2152.56L1631.28,2158.95M1628.65,2153.92L1633.90,2157.59M1633.90,2153.92L1628.65,2157.59M1637.58,2152.56L1637.58,2158.95M1634.95,2153.92L1640.20,2157.59M1640.20,2153.92L1634.95,2157.59M1696.12,2152.56L1696.12,2158.95M1693.50,2153.92L1698.75,2157.59M1698.75,2153.92L1693.50,2157.59M1726.98,2152.56L1726.98,2158.95M1724.35,2153.92L1729.60,2157.59M1729.60,2153.92L1724.35,2157.59M1634.43,2180.68L1634.43,2187.08M1631.80,2182.05L1637.05,2185.72M1637.05,2182.05L1631.80,2185.72M1665.28,2180.68L1665.28,2187.08M1662.65,2182.05L1667.90,2185.72M1667.90,2182.05L1662.65,2185.72M1723.83,2180.68L1723.83,2187.08M1721.20,2182.05L1726.45,2185.72M1726.45,2182.05L1721.20,2185.72M1730.13,2180.68L1730.13,2187.08M1727.50,2182.05L1732.75,2185.72M1732.75,2182.05L1727.50,2185.72M1418.48,2236.95L1418.48,2243.34M1415.85,2238.31L1421.10,2241.98M1421.10,2238.31L1415.85,2241.98M1449.33,2236.95L1449.33,2243.34M1446.70,2238.31L1451.95,2241.98M1451.95,2238.31L1446.70,2241.98M1696.12,2236.95L1696.12,2243.34M1693.50,2238.31L1698.75,2241.98M1698.75,2238.31L1693.50,2241.98M1415.33,2265.08L1415.33,2271.47M1412.70,2266.44L1417.95,2270.11M1417.95,2266.44L1412.70,2270.11M1421.63,2265.08L1421.63,2271.47M1419.00,2266.44L1424.25,2270.11M1424.25,2266.44L1419.00,2270.11M1443.03,2265.08L1443.03,2271.47M1440.40,2266.44L1445.65,2270.11M1445.65,2266.44L1440.40,2270.11M1449.33,2265.08L1449.33,2271.47M1446.70,2266.44L1451.95,2270.11M1451.95,2266.44L1446.70,2270.11M1455.62,2265.08L1455.62,2271.47M1453.00,2266.44L1458.25,2270.11M1458.25,2266.44L1453.00,2270.11M1696.12,2265.08L1696.12,2271.47M1693.50,2266.44L1698.75,2270.11M1698.75,2266.44L1693.50,2270.11M1418.48,2293.21L1418.48,2299.61M1415.85,2294.57L1421.10,2298.24M1421.10,2294.57L1415.85,2298.24M1696.12,2293.21L1696.12,2299.61M1693.50,2294.57L1698.75,2298.24M1698.75,2294.57L1693.50,2298.24M1726.98,2293.21L1726.98,2299.61M1724.35,2294.57L1729.60,2298.24M1729.60,2294.57L1724.35,2298.24M1418.48,2321.34L1418.48,2327.73M1415.85,2322.70L1421.10,2326.37M1421.10,2322.70L1415.85,2326.37M1696.12,2321.34L1696.12,2327.73M1693.50,2322.70L1698.75,2326.37M1698.75,2322.70L1693.50,2326.37M1726.98,2321.34L1726.98,2327.73M1724.35,2322.70L1729.60,2326.37M1729.60,2322.70L1724.35,2326.37" stroke="#8E4A3C" stroke-width="1.3" fill="none"/>
<text transform="translate(1335.60,1694.70)" font-family="'Liberation Serif', 'Times New Roman', serif" font-size="20.4" font-weight="bold" fill="#000" textLength="229.80" lengthAdjust="spacingAndGlyphs">Correlation Heatmap</text>
<path d="M1170.70,1759.30V1702.00H1434.20V1753.50M1140.83,1775.60V1759.30H1200.10V1762.00M1171.68,1775.60V1762.00H1229.20V1769.80M1202.53,1775.60V1769.80H1256.20V1772.00M1233.38,1775.60V1772.00H1279.50V1773.60M1264.23,1775.60V1773.60H1295.08V1775.60M1349.10,1762.40V1753.50H1519.30V1758.50M1325.93,1775.60V1762.40H1372.30V1770.10M1356.78,1775.60V1770.10H1387.62V1775.60M1434.20,1770.10V1758.50H1605.20V1761.20M1418.48,1775.60V1770.10H1449.33V1775.60M1531.00,1766.30V1761.20H1680.70V1764.30M1496.10,1771.00V1766.30H1564.60V1768.20M1480.18,1775.60V1771.00H1511.03V1775.60M1541.88,1775.60V1768.20H1588.60V1772.00M1572.73,1775.60V1772.00H1603.58V1775.60M1650.10,1768.60V1764.30H1711.60V1768.60M1634.43,1775.60V1768.60H1665.28V1775.60M1696.12,1775.60V1768.60H1726.98V1775.60M1108.20,1880.40H1044.40V2060.40H1087.80M1120.30,1816.20H1108.20V1944.30H1116.60M1125.40,1789.66H1120.30V1842.30H1120.30M1121.6,1817.79H1125.40M1121.6,1817.79V1866.8M1123.0,1845.4V1866.8M1124.1,1862.6V1902.4M1125.40,1930.31H1116.60V1958.44H1125.40M1125.40,1986.57H1087.80V2134.80H1100.40M1109.50,2060.40H1100.40V2208.90H1107.70M1116.60,2028.90H1109.50V2090.60H1113.50M1125.40,2014.70H1116.60V2042.83H1125.40M1125.40,2070.96H1113.50V2113.00H1119.30M1125.40,2099.09H1119.30V2127.22H1125.40M1116.60,2169.50H1107.70V2253.00H1112.20M1125.40,2155.36H1116.60V2183.48H1125.40M1125.40,2211.61H1112.20V2281.20H1117.20M1120.60,2253.60H1117.20V2311.40H1119.30M1125.40,2239.74H1120.60V2267.88H1125.40M1125.40,2296.01H1119.30V2324.13H1125.40" stroke="#000" stroke-width="1.3" fill="none"/>
<text transform="translate(1747.70,1794.57) scale(1.0750,1)" font-family="'Liberation Serif', 'Times New Roman', serif" font-size="14" font-weight="bold" fill="#000">ITPR1</text>
<text transform="translate(1747.70,1822.69) scale(1.0750,1)" font-family="'Liberation Serif', 'Times New Roman', serif" font-size="14" font-weight="bold" fill="#000">CAMK4</text>
<text transform="translate(1747.70,1850.83) scale(1.0750,1)" font-family="'Liberation Serif', 'Times New Roman', serif" font-size="14" font-weight="bold" fill="#000">ATP6V1G2</text>
<text transform="translate(1747.70,1878.95) scale(1.0750,1)" font-family="'Liberation Serif', 'Times New Roman', serif" font-size="14" font-weight="bold" fill="#000">PRKCB</text>
<text transform="translate(1747.70,1907.09) scale(1.0750,1)" font-family="'Liberation Serif', 'Times New Roman', serif" font-size="14" font-weight="bold" fill="#000">CDK5R1</text>
<text transform="translate(1747.70,1935.21) scale(1.0750,1)" font-family="'Liberation Serif', 'Times New Roman', serif" font-size="14" font-weight="bold" fill="#000">PLA2G4C</text>
<text transform="translate(1747.70,1963.35) scale(1.0750,1)" font-family="'Liberation Serif', 'Times New Roman', serif" font-size="14" font-weight="bold" fill="#000">ATF2</text>
<text transform="translate(1747.70,1991.47) scale(1.0750,1)" font-family="'Liberation Serif', 'Times New Roman', serif" font-size="14" font-weight="bold" fill="#000">ATP6V0E2</text>
<text transform="translate(1747.70,2019.61) scale(1.0750,1)" font-family="'Liberation Serif', 'Times New Roman', serif" font-size="14" font-weight="bold" fill="#000">GNAI1</text>
<text transform="translate(1747.70,2047.73) scale(1.0750,1)" font-family="'Liberation Serif', 'Times New Roman', serif" font-size="14" font-weight="bold" fill="#000">ABAT</text>
<text transform="translate(1747.70,2075.86) scale(1.0750,1)" font-family="'Liberation Serif', 'Times New Roman', serif" font-size="14" font-weight="bold" fill="#000">SDHC</text>
<text transform="translate(1747.70,2103.99) scale(1.0750,1)" font-family="'Liberation Serif', 'Times New Roman', serif" font-size="14" font-weight="bold" fill="#000">PSMB4</text>
<text transform="translate(1747.70,2132.12) scale(1.0750,1)" font-family="'Liberation Serif', 'Times New Roman', serif" font-size="14" font-weight="bold" fill="#000">PSMA1</text>
<text transform="translate(1747.70,2160.26) scale(1.0750,1)" font-family="'Liberation Serif', 'Times New Roman', serif" font-size="14" font-weight="bold" fill="#000">GPX3</text>
<text transform="translate(1747.70,2188.38) scale(1.0750,1)" font-family="'Liberation Serif', 'Times New Roman', serif" font-size="14" font-weight="bold" fill="#000">PPP1R1B</text>
<text transform="translate(1747.70,2216.51) scale(1.0750,1)" font-family="'Liberation Serif', 'Times New Roman', serif" font-size="14" font-weight="bold" fill="#000">PSMB1</text>
<text transform="translate(1747.70,2244.64) scale(1.0750,1)" font-family="'Liberation Serif', 'Times New Roman', serif" font-size="14" font-weight="bold" fill="#000">PSMA6</text>
<text transform="translate(1747.70,2272.78) scale(1.0750,1)" font-family="'Liberation Serif', 'Times New Roman', serif" font-size="14" font-weight="bold" fill="#000">LOC100345190</text>
<text transform="translate(1747.70,2300.91) scale(1.0750,1)" font-family="'Liberation Serif', 'Times New Roman', serif" font-size="14" font-weight="bold" fill="#000">PSMA3</text>
<text transform="translate(1747.70,2329.03) scale(1.0750,1)" font-family="'Liberation Serif', 'Times New Roman', serif" font-size="14" font-weight="bold" fill="#000">PSMD12</text>
<text transform="translate(1147.33,2350.00) rotate(-45)" font-family="'Liberation Serif', 'Times New Roman', serif" font-size="14.6" font-weight="bold" text-anchor="end" fill="#000">SLC1A3</text>
<text transform="translate(1178.18,2350.00) rotate(-45)" font-family="'Liberation Serif', 'Times New Roman', serif" font-size="14.6" font-weight="bold" text-anchor="end" fill="#000">LOC100340645</text>
<text transform="translate(1209.03,2350.00) rotate(-45)" font-family="'Liberation Serif', 'Times New Roman', serif" font-size="14.6" font-weight="bold" text-anchor="end" fill="#000">NDUFA2</text>
<text transform="translate(1239.88,2350.00) rotate(-45)" font-family="'Liberation Serif', 'Times New Roman', serif" font-size="14.6" font-weight="bold" text-anchor="end" fill="#000">PSMA5</text>
<text transform="translate(1270.73,2350.00) rotate(-45)" font-family="'Liberation Serif', 'Times New Roman', serif" font-size="14.6" font-weight="bold" text-anchor="end" fill="#000">PSMB4</text>
<text transform="translate(1301.58,2350.00) rotate(-45)" font-family="'Liberation Serif', 'Times New Roman', serif" font-size="14.6" font-weight="bold" text-anchor="end" fill="#000">PSMB3</text>
<text transform="translate(1332.43,2350.00) rotate(-45)" font-family="'Liberation Serif', 'Times New Roman', serif" font-size="14.6" font-weight="bold" text-anchor="end" fill="#000">GRIA1</text>
<text transform="translate(1363.28,2350.00) rotate(-45)" font-family="'Liberation Serif', 'Times New Roman', serif" font-size="14.6" font-weight="bold" text-anchor="end" fill="#000">CPLX2</text>
<text transform="translate(1394.12,2350.00) rotate(-45)" font-family="'Liberation Serif', 'Times New Roman', serif" font-size="14.6" font-weight="bold" text-anchor="end" fill="#000">APC</text>
<text transform="translate(1424.98,2350.00) rotate(-45)" font-family="'Liberation Serif', 'Times New Roman', serif" font-size="14.6" font-weight="bold" text-anchor="end" fill="#000">STX1A</text>
<text transform="translate(1455.83,2350.00) rotate(-45)" font-family="'Liberation Serif', 'Times New Roman', serif" font-size="14.6" font-weight="bold" text-anchor="end" fill="#000">GPR37</text>
<text transform="translate(1486.68,2350.00) rotate(-45)" font-family="'Liberation Serif', 'Times New Roman', serif" font-size="14.6" font-weight="bold" text-anchor="end" fill="#000">PPP3CA</text>
<text transform="translate(1517.53,2350.00) rotate(-45)" font-family="'Liberation Serif', 'Times New Roman', serif" font-size="14.6" font-weight="bold" text-anchor="end" fill="#000">DLGAP1</text>
<text transform="translate(1548.38,2350.00) rotate(-45)" font-family="'Liberation Serif', 'Times New Roman', serif" font-size="14.6" font-weight="bold" text-anchor="end" fill="#000">PRKCG</text>
<text transform="translate(1579.23,2350.00) rotate(-45)" font-family="'Liberation Serif', 'Times New Roman', serif" font-size="14.6" font-weight="bold" text-anchor="end" fill="#000">GRIN2B</text>
<text transform="translate(1610.08,2350.00) rotate(-45)" font-family="'Liberation Serif', 'Times New Roman', serif" font-size="14.6" font-weight="bold" text-anchor="end" fill="#000">FZD3</text>
<text transform="translate(1640.93,2350.00) rotate(-45)" font-family="'Liberation Serif', 'Times New Roman', serif" font-size="14.6" font-weight="bold" text-anchor="end" fill="#000">GABBR2</text>
<text transform="translate(1671.78,2350.00) rotate(-45)" font-family="'Liberation Serif', 'Times New Roman', serif" font-size="14.6" font-weight="bold" text-anchor="end" fill="#000">SHANK1</text>
<text transform="translate(1702.62,2350.00) rotate(-45)" font-family="'Liberation Serif', 'Times New Roman', serif" font-size="14.6" font-weight="bold" text-anchor="end" fill="#000">ACTR1B</text>
<text transform="translate(1733.48,2350.00) rotate(-45)" font-family="'Liberation Serif', 'Times New Roman', serif" font-size="14.6" font-weight="bold" text-anchor="end" fill="#000">GRIK5</text>
<defs><linearGradient id="fgrad" x1="0" y1="0" x2="0" y2="1"><stop offset="0" stop-color="#FF2010"/><stop offset="0.128" stop-color="#FF2010"/><stop offset="0.17" stop-color="#F06020"/><stop offset="0.21" stop-color="#EAA030"/><stop offset="0.245" stop-color="#EEF040"/><stop offset="0.45" stop-color="#F0F540"/><stop offset="0.51" stop-color="#FAFDD0"/><stop offset="0.53" stop-color="#FFFFF8"/><stop offset="0.545" stop-color="#F0FFF8"/><stop offset="0.575" stop-color="#78FFD8"/><stop offset="0.66" stop-color="#66FF99"/><stop offset="0.69" stop-color="#44FF30"/><stop offset="0.76" stop-color="#44FF30"/><stop offset="0.81" stop-color="#70FFD0"/><stop offset="0.86" stop-color="#58B8F0"/><stop offset="0.93" stop-color="#3A50FF"/><stop offset="1" stop-color="#2010FF"/></linearGradient></defs>
<rect x="1861.60" y="1776.00" width="15.60" height="210.30" fill="url(#fgrad)"/>
<text transform="translate(1883.70,1793.10)" font-family="'Liberation Serif', 'Times New Roman', serif" font-size="15" font-weight="bold" fill="#000" textLength="25.70" lengthAdjust="spacingAndGlyphs">0.8</text>
<text transform="translate(1883.70,1816.20)" font-family="'Liberation Serif', 'Times New Roman', serif" font-size="15" font-weight="bold" fill="#000" textLength="25.70" lengthAdjust="spacingAndGlyphs">0.6</text>
<text transform="translate(1883.70,1839.40)" font-family="'Liberation Serif', 'Times New Roman', serif" font-size="15" font-weight="bold" fill="#000" textLength="25.70" lengthAdjust="spacingAndGlyphs">0.4</text>
<text transform="translate(1883.70,1863.00)" font-family="'Liberation Serif', 'Times New Roman', serif" font-size="15" font-weight="bold" fill="#000" textLength="25.70" lengthAdjust="spacingAndGlyphs">0.2</text>
<text transform="translate(1883.70,1886.70) scale(1.0500,1)" font-family="'Liberation Serif', 'Times New Roman', serif" font-size="15" font-weight="bold" fill="#000">0</text>
<text transform="translate(1883.70,1909.80)" font-family="'Liberation Serif', 'Times New Roman', serif" font-size="15" font-weight="bold" fill="#000" textLength="33.70" lengthAdjust="spacingAndGlyphs">−0.2</text>
<text transform="translate(1883.70,1933.40)" font-family="'Liberation Serif', 'Times New Roman', serif" font-size="15" font-weight="bold" fill="#000" textLength="33.70" lengthAdjust="spacingAndGlyphs">−0.4</text>
<text transform="translate(1883.70,1956.60)" font-family="'Liberation Serif', 'Times New Roman', serif" font-size="15" font-weight="bold" fill="#000" textLength="33.70" lengthAdjust="spacingAndGlyphs">−0.6</text>
<text transform="translate(1883.70,1980.20)" font-family="'Liberation Serif', 'Times New Roman', serif" font-size="15" font-weight="bold" fill="#000" textLength="33.70" lengthAdjust="spacingAndGlyphs">−0.8</text>
<text transform="translate(1441.20,2497.50)" font-family="'Liberation Serif', 'Times New Roman', serif" font-size="94" font-weight="bold" fill="#000" textLength="52.20" lengthAdjust="spacingAndGlyphs">F</text>
</svg></body></html>
